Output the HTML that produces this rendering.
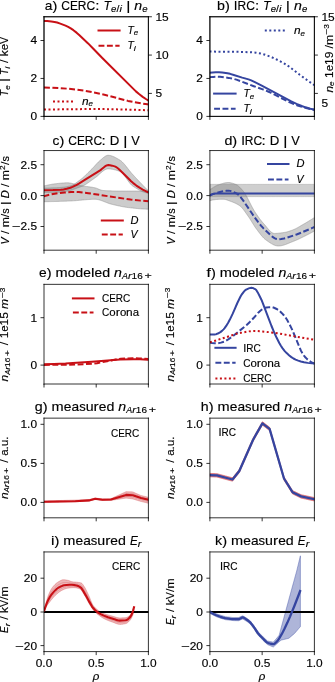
<!DOCTYPE html>
<html><head><meta charset="utf-8"><title>figure</title><style>html,body{margin:0;padding:0;background:#fff;width:335px;height:682px;overflow:hidden}svg{display:block}text{font-family:"Liberation Sans",sans-serif;fill:#000;stroke:#000;stroke-width:0.14px;stroke-linejoin:round}</style></head><body>
<svg width="335" height="682" viewBox="0 0 335 682">
<defs>
<style type="text/css">*{stroke-linejoin: round; stroke-linecap: butt}</style>
</defs>
<filter id="soft" x="0" y="0" width="1" height="1"><feOffset dx="0" dy="0"/></filter>
<g id="figure_1" filter="url(#soft)">
<g id="patch_1">
<path d="M 0 682 L 335 682 L 335 0 L 0 0 z" style="fill: #ffffff"/>
</g>
<g id="axes_1">
<g id="patch_2">
<path d="M 44 116.4 L 148.4 116.4 L 148.4 16.75 L 44 16.75 z" style="fill: #ffffff"/>
</g>
<g id="matplotlib.axis_1">
<g id="xtick_1">
<g id="line2d_1">
<defs>
<path id="m7c25c535dc" d="M 0 0 L 0 3.5 
" style="stroke: #000000; stroke-width: 0.8"/>
</defs>
<g>
<use href="#m7c25c535dc" x="44" y="116.4" style="stroke: #000000; stroke-width: 0.8"/>
</g>
</g>
</g>
<g id="xtick_2">
<g id="line2d_2">
<g>
<use href="#m7c25c535dc" x="96.2" y="116.4" style="stroke: #000000; stroke-width: 0.8"/>
</g>
</g>
</g>
<g id="xtick_3">
<g id="line2d_3">
<g>
<use href="#m7c25c535dc" x="148.4" y="116.4" style="stroke: #000000; stroke-width: 0.8"/>
</g>
</g>
</g>
</g>
<g id="matplotlib.axis_2">
<g id="ytick_1">
<g id="line2d_4">
<defs>
<path id="mb258c49b38" d="M 0 0 L -3.5 0 
" style="stroke: #000000; stroke-width: 0.8"/>
</defs>
<g>
<use href="#mb258c49b38" x="44" y="116.4" style="stroke: #000000; stroke-width: 0.8"/>
</g>
</g>
<g id="text_1">
<text transform="translate(30.383 120.351) scale(1.144 1.055)" style="font-size:10.40px">0</text>
</g>
</g>
<g id="ytick_2">
<g id="line2d_5">
<g>
<use href="#mb258c49b38" x="44" y="78.45" style="stroke: #000000; stroke-width: 0.8"/>
</g>
</g>
<g id="text_2">
<text transform="translate(30.383 82.401) scale(1.144 1.055)" style="font-size:10.40px">2</text>
</g>
</g>
<g id="ytick_3">
<g id="line2d_6">
<g>
<use href="#mb258c49b38" x="44" y="40.5" style="stroke: #000000; stroke-width: 0.8"/>
</g>
</g>
<g id="text_3">
<text transform="translate(30.383 44.451) scale(1.144 1.055)" style="font-size:10.40px">4</text>
</g>
</g>
</g>
<g id="line2d_7">
<path d="M 44 21 L 47.15 21.11 L 51.35 21.5 L 54.5 21.94 L 57.13 22.57 L 60.28 23.61 L 65.53 25.62 L 68.16 26.89 L 70.78 28.37 L 73.41 30.17 L 76.56 32.64 L 79.18 34.96 L 88.11 43.41 L 92.84 48.29 L 102.29 58 L 135.9 91.37 L 139.05 94.04 L 142.72 96.85 L 145.87 99.01 L 148.5 100.6 L 148.5 100.6 
" clip-path="url(#pb6206f89da)" style="fill: none; stroke: #c81016; stroke-width: 2; stroke-linecap: square"/>
</g>
<g id="line2d_8">
<path d="M 44 87.5 L 50.83 87.67 L 59.75 88.13 L 68.68 88.77 L 75.51 89.53 L 84.43 90.76 L 90.21 91.74 L 97.56 93.24 L 105.44 95.04 L 118.57 98.46 L 128.02 100.9 L 133.27 101.97 L 141.15 103.37 L 147.45 104.27 L 148.5 104.4 L 148.5 104.4 
" clip-path="url(#pb6206f89da)" style="fill: none; stroke-dasharray: 5.9,2.5; stroke-dashoffset: 0; stroke: #c81016; stroke-width: 2"/>
</g>
<g id="line2d_9">
<path d="M 44 109.6 L 71.31 109.19 L 97.56 109.01 L 110.17 109.19 L 135.37 109.82 L 148.5 110.3 L 148.5 110.3 
" clip-path="url(#pb6206f89da)" style="fill: none; stroke-dasharray: 2,2.5; stroke-dashoffset: 0; stroke: #c81016; stroke-width: 2"/>
</g>
<g id="line2d_10">
<path d="M 98.5 30.5 L 119.6 30.5 
" style="fill: none; stroke: #c81016; stroke-width: 2; stroke-linecap: square"/>
</g>
<g id="line2d_11">
<path d="M 98.5 45.8 L 119.6 45.8 
" style="fill: none; stroke-dasharray: 5.9,2.5; stroke-dashoffset: 0; stroke: #c81016; stroke-width: 2"/>
</g>
<g id="line2d_12">
<path d="M 53 101.5 L 74 101.5 
" style="fill: none; stroke-dasharray: 2,2.5; stroke-dashoffset: 0; stroke: #c81016; stroke-width: 2"/>
</g>
<g id="patch_3">
<path d="M 44 116.4 L 44 16.75 
" style="fill: none; stroke: #000000; stroke-width: 0.8; stroke-linejoin: miter; stroke-linecap: square"/>
</g>
<g id="patch_4">
<path d="M 148.4 116.4 L 148.4 16.75 
" style="fill: none; stroke: #000000; stroke-width: 0.8; stroke-linejoin: miter; stroke-linecap: square"/>
</g>
<g id="patch_5">
<path d="M 44 116.4 L 148.4 116.4 
" style="fill: none; stroke: #000000; stroke-width: 0.8; stroke-linejoin: miter; stroke-linecap: square"/>
</g>
<g id="patch_6">
<path d="M 44 16.75 L 148.4 16.75 
" style="fill: none; stroke: #000000; stroke-width: 0.8; stroke-linejoin: miter; stroke-linecap: square"/>
</g>
<g id="text_4">
<g transform="translate(44.71925 10.75)"><text transform="translate(0.000 -0.828) scale(1.102 1.055)" style="font-size:12.45px">a</text><text transform="translate(7.660 -0.828) scale(1.172 1.055)" style="font-size:12.45px">)</text><text transform="translate(12.537 -0.828) scale(1.144 1.055)" style="font-size:12.45px"> </text><text transform="translate(16.510 -0.828) scale(0.967 1.055)" style="font-size:12.45px">C</text><text transform="translate(25.238 -0.828) scale(0.947 1.055)" style="font-size:12.45px">E</text><text transform="translate(33.136 -0.828) scale(0.962 1.055)" style="font-size:12.45px">R</text><text transform="translate(41.821 -0.828) scale(0.967 1.055)" style="font-size:12.45px">C</text><text transform="translate(50.549 -0.828) scale(1.213 1.055)" style="font-size:12.45px">:</text><text transform="translate(54.761 -0.828) scale(1.144 1.055)" style="font-size:12.45px"> </text><text transform="translate(77.460 -0.828) scale(1.144 1.055)" style="font-size:12.45px"> </text><text transform="translate(81.433 -0.828) scale(1.297 1.055)" style="font-size:12.45px">|</text><text transform="translate(85.645 -0.828) scale(1.144 1.055)" style="font-size:12.45px"> </text><text transform="translate(58.734 -0.828) scale(1.000 1.055)" style="font-size:12.45px;font-style:italic">T</text><text transform="translate(89.618 -0.828) scale(1.140 1.055)" style="font-size:12.45px;font-style:italic">n</text><text transform="translate(66.370 1.141) scale(1.106 1.055)" style="font-size:8.71px;font-style:italic">e</text><text transform="translate(74.701 1.141) scale(1.251 1.055)" style="font-size:8.71px;font-style:italic">i</text><text transform="translate(97.541 1.141) scale(1.106 1.055)" style="font-size:8.71px;font-style:italic">e</text><text transform="translate(71.753 1.141) scale(1.213 1.055)" style="font-size:8.71px">/</text></g>
</g>
</g>
<g id="axes_2">
<g id="matplotlib.axis_3">
<g id="ytick_4">
<g id="line2d_13">
<defs>
<path id="mfcdca85a19" d="M 0 0 L 3.5 0 
" style="stroke: #000000; stroke-width: 0.8"/>
</defs>
<g>
<use href="#mfcdca85a19" x="148.4" y="93.4" style="stroke: #000000; stroke-width: 0.8"/>
</g>
</g>
<g id="text_5">
<text transform="translate(155.400 97.351) scale(1.144 1.055)" style="font-size:10.40px">5</text>
</g>
</g>
<g id="ytick_5">
<g id="line2d_14">
<g>
<use href="#mfcdca85a19" x="148.4" y="55.07" style="stroke: #000000; stroke-width: 0.8"/>
</g>
</g>
<g id="text_6">
<text transform="translate(155.400 59.021) scale(1.144 1.055)" style="font-size:10.40px">1</text><text transform="translate(162.017 59.021) scale(1.144 1.055)" style="font-size:10.40px">0</text>
</g>
</g>
<g id="ytick_6">
<g id="line2d_15">
<g>
<use href="#mfcdca85a19" x="148.4" y="16.75" style="stroke: #000000; stroke-width: 0.8"/>
</g>
</g>
<g id="text_7">
<text transform="translate(155.400 20.701) scale(1.144 1.055)" style="font-size:10.40px">1</text><text transform="translate(162.017 20.701) scale(1.144 1.055)" style="font-size:10.40px">5</text>
</g>
</g>
</g>
<g id="patch_7">
<path d="M 44 116.4 L 44 16.75 
" style="fill: none; stroke: #000000; stroke-width: 0.8; stroke-linejoin: miter; stroke-linecap: square"/>
</g>
<g id="patch_8">
<path d="M 148.4 116.4 L 148.4 16.75 
" style="fill: none; stroke: #000000; stroke-width: 0.8; stroke-linejoin: miter; stroke-linecap: square"/>
</g>
<g id="patch_9">
<path d="M 44 116.4 L 148.4 116.4 
" style="fill: none; stroke: #000000; stroke-width: 0.8; stroke-linejoin: miter; stroke-linecap: square"/>
</g>
<g id="patch_10">
<path d="M 44 16.75 L 148.4 16.75 
" style="fill: none; stroke: #000000; stroke-width: 0.8; stroke-linejoin: miter; stroke-linecap: square"/>
</g>
</g>
<g id="axes_3">
<g id="patch_11">
<path d="M 209.9 116.4 L 314.4 116.4 L 314.4 16.75 L 209.9 16.75 z" style="fill: #ffffff"/>
</g>
<g id="matplotlib.axis_4">
<g id="xtick_4">
<g id="line2d_16">
<g>
<use href="#m7c25c535dc" x="209.9" y="116.4" style="stroke: #000000; stroke-width: 0.8"/>
</g>
</g>
</g>
<g id="xtick_5">
<g id="line2d_17">
<g>
<use href="#m7c25c535dc" x="262.15" y="116.4" style="stroke: #000000; stroke-width: 0.8"/>
</g>
</g>
</g>
<g id="xtick_6">
<g id="line2d_18">
<g>
<use href="#m7c25c535dc" x="314.4" y="116.4" style="stroke: #000000; stroke-width: 0.8"/>
</g>
</g>
</g>
</g>
<g id="matplotlib.axis_5">
<g id="ytick_7">
<g id="line2d_19">
<g>
<use href="#mb258c49b38" x="209.9" y="116.4" style="stroke: #000000; stroke-width: 0.8"/>
</g>
</g>
<g id="text_8">
<text transform="translate(196.283 120.351) scale(1.144 1.055)" style="font-size:10.40px">0</text>
</g>
</g>
<g id="ytick_8">
<g id="line2d_20">
<g>
<use href="#mb258c49b38" x="209.9" y="78.45" style="stroke: #000000; stroke-width: 0.8"/>
</g>
</g>
<g id="text_9">
<text transform="translate(196.283 82.401) scale(1.144 1.055)" style="font-size:10.40px">2</text>
</g>
</g>
<g id="ytick_9">
<g id="line2d_21">
<g>
<use href="#mb258c49b38" x="209.9" y="40.5" style="stroke: #000000; stroke-width: 0.8"/>
</g>
</g>
<g id="text_10">
<text transform="translate(196.283 44.451) scale(1.144 1.055)" style="font-size:10.40px">4</text>
</g>
</g>
</g>
<g id="line2d_22">
<path d="M 209.5 72.8 L 212.67 72.41 L 215.83 72.22 L 219 72.24 L 222.16 72.51 L 227.44 73.25 L 230.08 73.84 L 233.77 74.94 L 242.21 77.59 L 248.55 79.35 L 251.18 80.35 L 254.35 81.82 L 261.74 85.6 L 291.28 101.45 L 296.56 103.83 L 302.36 106.25 L 305.53 107.33 L 310.28 108.67 L 313.97 109.5 L 314.5 109.6 L 314.5 109.6 
" clip-path="url(#p5f1eb9c5c8)" style="fill: none; stroke: #3545a0; stroke-width: 2; stroke-linecap: square"/>
</g>
<g id="line2d_23">
<path d="M 209.5 77.3 L 213.19 76.88 L 216.89 76.7 L 220.05 76.78 L 223.75 77.14 L 228.49 77.89 L 233.77 78.9 L 236.41 79.66 L 240.1 80.98 L 253.82 86.2 L 262.79 89.43 L 268.07 91.5 L 271.23 92.95 L 277.57 96.23 L 288.65 101.72 L 293.92 104.06 L 297.62 105.46 L 302.36 107 L 307.11 108.32 L 312.39 109.57 L 314.5 110 L 314.5 110 
" clip-path="url(#p5f1eb9c5c8)" style="fill: none; stroke-dasharray: 5.9,2.5; stroke-dashoffset: 0; stroke: #3545a0; stroke-width: 2"/>
</g>
<g id="line2d_24">
<path d="M 209.5 51.6 L 231.13 51.71 L 242.74 51.94 L 251.71 52.32 L 255.93 52.77 L 260.68 53.53 L 263.32 54.18 L 266.48 55.2 L 271.23 56.97 L 274.93 58.64 L 280.73 61.54 L 284.42 63.58 L 287.59 65.56 L 290.23 67.5 L 299.73 74.81 L 308.7 81.27 L 314.5 85.3 L 314.5 85.3 
" clip-path="url(#p5f1eb9c5c8)" style="fill: none; stroke-dasharray: 2,2.5; stroke-dashoffset: 0; stroke: #3545a0; stroke-width: 2"/>
</g>
<g id="line2d_25">
<path d="M 214.1 93.6 L 235.6 93.6 
" style="fill: none; stroke: #3545a0; stroke-width: 2; stroke-linecap: square"/>
</g>
<g id="line2d_26">
<path d="M 214.1 108.8 L 235.6 108.8 
" style="fill: none; stroke-dasharray: 5.9,2.5; stroke-dashoffset: 0; stroke: #3545a0; stroke-width: 2"/>
</g>
<g id="line2d_27">
<path d="M 264.8 30.6 L 285.8 30.6 
" style="fill: none; stroke-dasharray: 2,2.5; stroke-dashoffset: 0; stroke: #3545a0; stroke-width: 2"/>
</g>
<g id="patch_12">
<path d="M 209.9 116.4 L 209.9 16.75 
" style="fill: none; stroke: #000000; stroke-width: 0.8; stroke-linejoin: miter; stroke-linecap: square"/>
</g>
<g id="patch_13">
<path d="M 314.4 116.4 L 314.4 16.75 
" style="fill: none; stroke: #000000; stroke-width: 0.8; stroke-linejoin: miter; stroke-linecap: square"/>
</g>
<g id="patch_14">
<path d="M 209.9 116.4 L 314.4 116.4 
" style="fill: none; stroke: #000000; stroke-width: 0.8; stroke-linejoin: miter; stroke-linecap: square"/>
</g>
<g id="patch_15">
<path d="M 209.9 16.75 L 314.4 16.75 
" style="fill: none; stroke: #000000; stroke-width: 0.8; stroke-linejoin: miter; stroke-linecap: square"/>
</g>
<g id="text_11">
<g transform="translate(217.01875 10.75)"><text transform="translate(0.000 -0.828) scale(1.141 1.055)" style="font-size:12.45px">b</text><text transform="translate(7.935 -0.828) scale(1.172 1.055)" style="font-size:12.45px">)</text><text transform="translate(12.811 -0.828) scale(1.144 1.055)" style="font-size:12.45px"> </text><text transform="translate(16.785 -0.828) scale(1.062 1.055)" style="font-size:12.45px">I</text><text transform="translate(20.471 -0.828) scale(0.962 1.055)" style="font-size:12.45px">R</text><text transform="translate(29.156 -0.828) scale(0.967 1.055)" style="font-size:12.45px">C</text><text transform="translate(37.885 -0.828) scale(1.213 1.055)" style="font-size:12.45px">:</text><text transform="translate(42.096 -0.828) scale(1.144 1.055)" style="font-size:12.45px"> </text><text transform="translate(64.795 -0.828) scale(1.144 1.055)" style="font-size:12.45px"> </text><text transform="translate(68.769 -0.828) scale(1.297 1.055)" style="font-size:12.45px">|</text><text transform="translate(72.980 -0.828) scale(1.144 1.055)" style="font-size:12.45px"> </text><text transform="translate(46.069 -0.828) scale(1.000 1.055)" style="font-size:12.45px;font-style:italic">T</text><text transform="translate(76.953 -0.828) scale(1.140 1.055)" style="font-size:12.45px;font-style:italic">n</text><text transform="translate(53.705 1.141) scale(1.106 1.055)" style="font-size:8.71px;font-style:italic">e</text><text transform="translate(62.036 1.141) scale(1.251 1.055)" style="font-size:8.71px;font-style:italic">i</text><text transform="translate(84.876 1.141) scale(1.106 1.055)" style="font-size:8.71px;font-style:italic">e</text><text transform="translate(59.088 1.141) scale(1.213 1.055)" style="font-size:8.71px">/</text></g>
</g>
</g>
<g id="axes_4">
<g id="matplotlib.axis_6">
<g id="ytick_10">
<g id="line2d_28">
<g>
<use href="#mfcdca85a19" x="314.4" y="93.4" style="stroke: #000000; stroke-width: 0.8"/>
</g>
</g>
</g>
<g id="ytick_11">
<g id="line2d_29">
<g>
<use href="#mfcdca85a19" x="314.4" y="55.07" style="stroke: #000000; stroke-width: 0.8"/>
</g>
</g>
</g>
<g id="ytick_12">
<g id="line2d_30">
<g>
<use href="#mfcdca85a19" x="314.4" y="16.75" style="stroke: #000000; stroke-width: 0.8"/>
</g>
</g>
<g id="text_12">
<text transform="translate(321.400 20.701) scale(1.144 1.055)" style="font-size:10.40px">1</text><text transform="translate(328.017 20.701) scale(1.144 1.055)" style="font-size:10.40px">5</text>
</g>
</g>
</g>
<g id="patch_16">
<path d="M 209.9 116.4 L 209.9 16.75 
" style="fill: none; stroke: #000000; stroke-width: 0.8; stroke-linejoin: miter; stroke-linecap: square"/>
</g>
<g id="patch_17">
<path d="M 314.4 116.4 L 314.4 16.75 
" style="fill: none; stroke: #000000; stroke-width: 0.8; stroke-linejoin: miter; stroke-linecap: square"/>
</g>
<g id="patch_18">
<path d="M 209.9 116.4 L 314.4 116.4 
" style="fill: none; stroke: #000000; stroke-width: 0.8; stroke-linejoin: miter; stroke-linecap: square"/>
</g>
<g id="patch_19">
<path d="M 209.9 16.75 L 314.4 16.75 
" style="fill: none; stroke: #000000; stroke-width: 0.8; stroke-linejoin: miter; stroke-linecap: square"/>
</g>
</g>
<g id="axes_5">
<g id="patch_20">
<path d="M 44 250.2 L 148.4 250.2 L 148.4 150.55 L 44 150.55 z" style="fill: #ffffff"/>
</g>
<g id="FillBetweenPolyCollection_1">
<defs>
<path id="mcfecdaf640" d="M 43.5 -480.3 L 43.5 -495.9 L 43.85 -495.99 L 44.2 -496.08 L 44.55 -496.17 L 44.9 -496.26 L 45.26 -496.34 L 45.61 -496.43 L 45.96 -496.51 L 46.31 -496.6 L 46.66 -496.68 L 47.01 -496.76 L 47.36 -496.84 L 47.71 -496.92 L 48.07 -497 L 48.42 -497.08 L 48.77 -497.15 L 49.12 -497.23 L 49.47 -497.3 L 49.82 -497.37 L 50.17 -497.44 L 50.52 -497.51 L 50.87 -497.57 L 51.23 -497.64 L 51.58 -497.7 L 51.93 -497.76 L 52.28 -497.82 L 52.63 -497.88 L 52.98 -497.93 L 53.33 -497.98 L 53.68 -498.03 L 54.04 -498.08 L 54.39 -498.13 L 54.74 -498.17 L 55.09 -498.21 L 55.44 -498.25 L 55.79 -498.29 L 56.14 -498.33 L 56.49 -498.37 L 56.84 -498.41 L 57.2 -498.45 L 57.55 -498.49 L 57.9 -498.53 L 58.25 -498.57 L 58.6 -498.61 L 58.95 -498.65 L 59.3 -498.68 L 59.65 -498.72 L 60.01 -498.76 L 60.36 -498.79 L 60.71 -498.82 L 61.06 -498.86 L 61.41 -498.89 L 61.76 -498.92 L 62.11 -498.95 L 62.46 -498.98 L 62.81 -499.01 L 63.17 -499.03 L 63.52 -499.06 L 63.87 -499.08 L 64.22 -499.1 L 64.57 -499.12 L 64.92 -499.13 L 65.27 -499.15 L 65.62 -499.16 L 65.97 -499.17 L 66.33 -499.18 L 66.68 -499.19 L 67.03 -499.2 L 67.38 -499.2 L 67.73 -499.2 L 68.08 -499.19 L 68.43 -499.17 L 68.78 -499.15 L 69.14 -499.11 L 69.49 -499.07 L 69.84 -499.03 L 70.19 -498.97 L 70.54 -498.91 L 70.89 -498.85 L 71.24 -498.77 L 71.59 -498.7 L 71.94 -498.62 L 72.3 -498.53 L 72.65 -498.44 L 73 -498.35 L 73.35 -498.25 L 73.7 -498.16 L 74.05 -498.06 L 74.4 -497.96 L 74.75 -497.86 L 75.11 -497.75 L 75.46 -497.65 L 75.81 -497.55 L 76.16 -497.45 L 76.51 -497.35 L 76.86 -497.25 L 77.21 -497.15 L 77.56 -497.06 L 77.91 -496.97 L 78.27 -496.88 L 78.62 -496.79 L 78.97 -496.71 L 79.32 -496.63 L 79.67 -496.56 L 80.02 -496.5 L 80.37 -496.43 L 80.72 -496.37 L 81.08 -496.31 L 81.43 -496.26 L 81.78 -496.2 L 82.13 -496.15 L 82.48 -496.09 L 82.83 -496.04 L 83.18 -495.99 L 83.53 -495.94 L 83.88 -495.89 L 84.24 -495.85 L 84.59 -495.8 L 84.94 -495.75 L 85.29 -495.7 L 85.64 -495.66 L 85.99 -495.61 L 86.34 -495.57 L 86.69 -495.52 L 87.05 -495.48 L 87.4 -495.43 L 87.75 -495.39 L 88.1 -495.34 L 88.45 -495.29 L 88.8 -495.24 L 89.15 -495.2 L 89.5 -495.15 L 89.85 -495.1 L 90.21 -495.05 L 90.56 -495 L 90.91 -494.94 L 91.26 -494.89 L 91.61 -494.83 L 91.96 -494.78 L 92.31 -494.72 L 92.66 -494.66 L 93.02 -494.59 L 93.37 -494.53 L 93.72 -494.46 L 94.07 -494.39 L 94.42 -494.32 L 94.77 -494.25 L 95.12 -494.17 L 95.47 -494.08 L 95.82 -493.98 L 96.18 -493.87 L 96.53 -493.75 L 96.88 -493.62 L 97.23 -493.48 L 97.58 -493.34 L 97.93 -493.19 L 98.28 -493.04 L 98.63 -492.89 L 98.98 -492.74 L 99.34 -492.59 L 99.69 -492.45 L 100.04 -492.31 L 100.39 -492.17 L 100.74 -492.05 L 101.09 -491.93 L 101.44 -491.82 L 101.79 -491.73 L 102.15 -491.65 L 102.5 -491.58 L 102.85 -491.54 L 103.2 -491.5 L 103.55 -491.48 L 103.9 -491.46 L 104.25 -491.44 L 104.6 -491.42 L 104.95 -491.4 L 105.31 -491.38 L 105.66 -491.36 L 106.01 -491.34 L 106.36 -491.32 L 106.71 -491.31 L 107.06 -491.29 L 107.41 -491.27 L 107.76 -491.26 L 108.12 -491.24 L 108.47 -491.23 L 108.82 -491.21 L 109.17 -491.2 L 109.52 -491.19 L 109.87 -491.17 L 110.22 -491.16 L 110.57 -491.15 L 110.92 -491.14 L 111.28 -491.13 L 111.63 -491.12 L 111.98 -491.11 L 112.33 -491.1 L 112.68 -491.09 L 113.03 -491.08 L 113.38 -491.07 L 113.73 -491.06 L 114.09 -491.06 L 114.44 -491.05 L 114.79 -491.04 L 115.14 -491.04 L 115.49 -491.03 L 115.84 -491.03 L 116.19 -491.02 L 116.54 -491.02 L 116.89 -491.01 L 117.25 -491.01 L 117.6 -491.01 L 117.95 -491.01 L 118.3 -491 L 118.65 -491 L 119 -491 L 119.35 -491 L 119.7 -491 L 120.06 -491 L 120.41 -491 L 120.76 -491 L 121.11 -491 L 121.46 -491 L 121.81 -491 L 122.16 -491 L 122.51 -491 L 122.86 -491 L 123.22 -491 L 123.57 -491 L 123.92 -491 L 124.27 -491 L 124.62 -491 L 124.97 -491 L 125.32 -491 L 125.67 -491 L 126.03 -491 L 126.38 -491 L 126.73 -491 L 127.08 -491 L 127.43 -491 L 127.78 -491 L 128.13 -491 L 128.48 -491 L 128.83 -491 L 129.19 -491 L 129.54 -491 L 129.89 -491 L 130.24 -491 L 130.59 -491 L 130.94 -491 L 131.29 -491 L 131.64 -491 L 131.99 -491 L 132.35 -491 L 132.7 -491 L 133.05 -491 L 133.4 -491 L 133.75 -491 L 134.1 -491 L 134.45 -491 L 134.8 -491 L 135.16 -491 L 135.51 -491 L 135.86 -491 L 136.21 -491 L 136.56 -491 L 136.91 -491 L 137.26 -491 L 137.61 -491 L 137.96 -491 L 138.32 -491 L 138.67 -491 L 139.02 -491 L 139.37 -491 L 139.72 -491 L 140.07 -491 L 140.42 -491 L 140.77 -491 L 141.13 -491 L 141.48 -491 L 141.83 -491 L 142.18 -491 L 142.53 -491 L 142.88 -491 L 143.23 -491 L 143.58 -491 L 143.93 -491 L 144.29 -491 L 144.64 -491 L 144.99 -491 L 145.34 -491 L 145.69 -491 L 146.04 -491 L 146.39 -491 L 146.74 -491 L 147.1 -491 L 147.45 -491 L 147.8 -491 L 148.15 -491 L 148.5 -491 L 148.5 -472.8 L 148.5 -472.8 L 148.15 -472.81 L 147.8 -472.81 L 147.45 -472.82 L 147.1 -472.83 L 146.74 -472.84 L 146.39 -472.85 L 146.04 -472.87 L 145.69 -472.88 L 145.34 -472.89 L 144.99 -472.91 L 144.64 -472.93 L 144.29 -472.94 L 143.93 -472.96 L 143.58 -472.98 L 143.23 -473 L 142.88 -473.02 L 142.53 -473.04 L 142.18 -473.07 L 141.83 -473.09 L 141.48 -473.12 L 141.13 -473.14 L 140.77 -473.17 L 140.42 -473.19 L 140.07 -473.22 L 139.72 -473.25 L 139.37 -473.28 L 139.02 -473.31 L 138.67 -473.34 L 138.32 -473.37 L 137.96 -473.4 L 137.61 -473.43 L 137.26 -473.47 L 136.91 -473.5 L 136.56 -473.53 L 136.21 -473.57 L 135.86 -473.6 L 135.51 -473.64 L 135.16 -473.67 L 134.8 -473.71 L 134.45 -473.75 L 134.1 -473.78 L 133.75 -473.82 L 133.4 -473.86 L 133.05 -473.9 L 132.7 -473.94 L 132.35 -473.97 L 131.99 -474.01 L 131.64 -474.05 L 131.29 -474.09 L 130.94 -474.13 L 130.59 -474.17 L 130.24 -474.21 L 129.89 -474.25 L 129.54 -474.3 L 129.19 -474.34 L 128.83 -474.38 L 128.48 -474.42 L 128.13 -474.46 L 127.78 -474.5 L 127.43 -474.55 L 127.08 -474.59 L 126.73 -474.64 L 126.38 -474.68 L 126.03 -474.73 L 125.67 -474.79 L 125.32 -474.84 L 124.97 -474.89 L 124.62 -474.95 L 124.27 -475.01 L 123.92 -475.07 L 123.57 -475.13 L 123.22 -475.19 L 122.86 -475.25 L 122.51 -475.32 L 122.16 -475.38 L 121.81 -475.45 L 121.46 -475.52 L 121.11 -475.59 L 120.76 -475.66 L 120.41 -475.73 L 120.06 -475.8 L 119.7 -475.88 L 119.35 -475.95 L 119 -476.03 L 118.65 -476.1 L 118.3 -476.18 L 117.95 -476.26 L 117.6 -476.34 L 117.25 -476.42 L 116.89 -476.5 L 116.54 -476.58 L 116.19 -476.66 L 115.84 -476.74 L 115.49 -476.82 L 115.14 -476.91 L 114.79 -476.99 L 114.44 -477.07 L 114.09 -477.16 L 113.73 -477.24 L 113.38 -477.32 L 113.03 -477.41 L 112.68 -477.49 L 112.33 -477.58 L 111.98 -477.66 L 111.63 -477.75 L 111.28 -477.83 L 110.92 -477.92 L 110.57 -478.02 L 110.22 -478.12 L 109.87 -478.22 L 109.52 -478.33 L 109.17 -478.45 L 108.82 -478.57 L 108.47 -478.69 L 108.12 -478.82 L 107.76 -478.95 L 107.41 -479.08 L 107.06 -479.21 L 106.71 -479.35 L 106.36 -479.49 L 106.01 -479.63 L 105.66 -479.76 L 105.31 -479.91 L 104.95 -480.05 L 104.6 -480.19 L 104.25 -480.33 L 103.9 -480.47 L 103.55 -480.61 L 103.2 -480.74 L 102.85 -480.88 L 102.5 -481.01 L 102.15 -481.14 L 101.79 -481.27 L 101.44 -481.39 L 101.09 -481.52 L 100.74 -481.63 L 100.39 -481.75 L 100.04 -481.85 L 99.69 -481.96 L 99.34 -482.06 L 98.98 -482.15 L 98.63 -482.23 L 98.28 -482.31 L 97.93 -482.39 L 97.58 -482.45 L 97.23 -482.51 L 96.88 -482.57 L 96.53 -482.61 L 96.18 -482.65 L 95.82 -482.67 L 95.47 -482.69 L 95.12 -482.7 L 94.77 -482.7 L 94.42 -482.7 L 94.07 -482.69 L 93.72 -482.69 L 93.37 -482.68 L 93.02 -482.67 L 92.66 -482.67 L 92.31 -482.65 L 91.96 -482.64 L 91.61 -482.63 L 91.26 -482.62 L 90.91 -482.6 L 90.56 -482.58 L 90.21 -482.56 L 89.85 -482.55 L 89.5 -482.53 L 89.15 -482.5 L 88.8 -482.48 L 88.45 -482.46 L 88.1 -482.44 L 87.75 -482.41 L 87.4 -482.39 L 87.05 -482.36 L 86.69 -482.33 L 86.34 -482.3 L 85.99 -482.28 L 85.64 -482.25 L 85.29 -482.22 L 84.94 -482.19 L 84.59 -482.16 L 84.24 -482.13 L 83.88 -482.1 L 83.53 -482.06 L 83.18 -482.03 L 82.83 -482 L 82.48 -481.97 L 82.13 -481.93 L 81.78 -481.9 L 81.43 -481.87 L 81.08 -481.84 L 80.72 -481.8 L 80.37 -481.77 L 80.02 -481.74 L 79.67 -481.71 L 79.32 -481.67 L 78.97 -481.64 L 78.62 -481.61 L 78.27 -481.58 L 77.91 -481.54 L 77.56 -481.51 L 77.21 -481.48 L 76.86 -481.45 L 76.51 -481.42 L 76.16 -481.39 L 75.81 -481.36 L 75.46 -481.34 L 75.11 -481.31 L 74.75 -481.28 L 74.4 -481.25 L 74.05 -481.23 L 73.7 -481.2 L 73.35 -481.18 L 73 -481.16 L 72.65 -481.13 L 72.3 -481.11 L 71.94 -481.09 L 71.59 -481.07 L 71.24 -481.06 L 70.89 -481.04 L 70.54 -481.02 L 70.19 -481.01 L 69.84 -480.99 L 69.49 -480.98 L 69.14 -480.97 L 68.78 -480.95 L 68.43 -480.94 L 68.08 -480.93 L 67.73 -480.91 L 67.38 -480.9 L 67.03 -480.89 L 66.68 -480.87 L 66.33 -480.86 L 65.97 -480.85 L 65.62 -480.84 L 65.27 -480.82 L 64.92 -480.81 L 64.57 -480.8 L 64.22 -480.78 L 63.87 -480.77 L 63.52 -480.76 L 63.17 -480.75 L 62.81 -480.73 L 62.46 -480.72 L 62.11 -480.71 L 61.76 -480.7 L 61.41 -480.69 L 61.06 -480.67 L 60.71 -480.66 L 60.36 -480.65 L 60.01 -480.64 L 59.65 -480.63 L 59.3 -480.62 L 58.95 -480.61 L 58.6 -480.6 L 58.25 -480.58 L 57.9 -480.57 L 57.55 -480.56 L 57.2 -480.55 L 56.84 -480.54 L 56.49 -480.53 L 56.14 -480.52 L 55.79 -480.51 L 55.44 -480.5 L 55.09 -480.49 L 54.74 -480.48 L 54.39 -480.48 L 54.04 -480.47 L 53.68 -480.46 L 53.33 -480.45 L 52.98 -480.44 L 52.63 -480.43 L 52.28 -480.43 L 51.93 -480.42 L 51.58 -480.41 L 51.23 -480.4 L 50.87 -480.4 L 50.52 -480.39 L 50.17 -480.38 L 49.82 -480.38 L 49.47 -480.37 L 49.12 -480.36 L 48.77 -480.36 L 48.42 -480.35 L 48.07 -480.35 L 47.71 -480.34 L 47.36 -480.34 L 47.01 -480.33 L 46.66 -480.33 L 46.31 -480.32 L 45.96 -480.32 L 45.61 -480.32 L 45.26 -480.31 L 44.9 -480.31 L 44.55 -480.31 L 44.2 -480.3 L 43.85 -480.3 L 43.5 -480.3 z" style="stroke: #808080; stroke-opacity: 0.4"/>
</defs>
<g clip-path="url(#pd31d83142d)">
<use href="#mcfecdaf640" x="0" y="682" style="fill: #808080; fill-opacity: 0.4; stroke: #808080; stroke-opacity: 0.4"/>
</g>
</g>
<g id="FillBetweenPolyCollection_2">
<defs>
<path id="mad7fce5367" d="M 43.5 -489.5 L 43.5 -494 L 43.85 -494 L 44.2 -494 L 44.55 -494 L 44.9 -494 L 45.26 -494.01 L 45.61 -494.01 L 45.96 -494.01 L 46.31 -494.02 L 46.66 -494.02 L 47.01 -494.03 L 47.36 -494.03 L 47.71 -494.04 L 48.07 -494.05 L 48.42 -494.05 L 48.77 -494.06 L 49.12 -494.07 L 49.47 -494.08 L 49.82 -494.08 L 50.17 -494.09 L 50.52 -494.1 L 50.87 -494.11 L 51.23 -494.12 L 51.58 -494.13 L 51.93 -494.15 L 52.28 -494.16 L 52.63 -494.17 L 52.98 -494.18 L 53.33 -494.19 L 53.68 -494.21 L 54.04 -494.22 L 54.39 -494.24 L 54.74 -494.25 L 55.09 -494.26 L 55.44 -494.28 L 55.79 -494.29 L 56.14 -494.31 L 56.49 -494.33 L 56.84 -494.34 L 57.2 -494.36 L 57.55 -494.38 L 57.9 -494.39 L 58.25 -494.41 L 58.6 -494.43 L 58.95 -494.45 L 59.3 -494.46 L 59.65 -494.48 L 60.01 -494.5 L 60.36 -494.52 L 60.71 -494.54 L 61.06 -494.57 L 61.41 -494.6 L 61.76 -494.63 L 62.11 -494.66 L 62.46 -494.69 L 62.81 -494.73 L 63.17 -494.77 L 63.52 -494.81 L 63.87 -494.86 L 64.22 -494.9 L 64.57 -494.95 L 64.92 -495.01 L 65.27 -495.06 L 65.62 -495.12 L 65.97 -495.17 L 66.33 -495.23 L 66.68 -495.3 L 67.03 -495.36 L 67.38 -495.43 L 67.73 -495.5 L 68.08 -495.57 L 68.43 -495.65 L 68.78 -495.72 L 69.14 -495.8 L 69.49 -495.88 L 69.84 -495.96 L 70.19 -496.05 L 70.54 -496.15 L 70.89 -496.26 L 71.24 -496.39 L 71.59 -496.53 L 71.94 -496.68 L 72.3 -496.84 L 72.65 -497.01 L 73 -497.19 L 73.35 -497.39 L 73.7 -497.59 L 74.05 -497.79 L 74.4 -498.01 L 74.75 -498.23 L 75.11 -498.46 L 75.46 -498.7 L 75.81 -498.94 L 76.16 -499.19 L 76.51 -499.44 L 76.86 -499.69 L 77.21 -499.94 L 77.56 -500.2 L 77.91 -500.46 L 78.27 -500.72 L 78.62 -500.98 L 78.97 -501.24 L 79.32 -501.5 L 79.67 -501.76 L 80.02 -502.02 L 80.37 -502.28 L 80.72 -502.54 L 81.08 -502.81 L 81.43 -503.09 L 81.78 -503.38 L 82.13 -503.67 L 82.48 -503.97 L 82.83 -504.27 L 83.18 -504.58 L 83.53 -504.89 L 83.88 -505.21 L 84.24 -505.53 L 84.59 -505.85 L 84.94 -506.18 L 85.29 -506.52 L 85.64 -506.85 L 85.99 -507.19 L 86.34 -507.53 L 86.69 -507.88 L 87.05 -508.23 L 87.4 -508.57 L 87.75 -508.93 L 88.1 -509.28 L 88.45 -509.63 L 88.8 -509.98 L 89.15 -510.34 L 89.5 -510.69 L 89.85 -511.05 L 90.21 -511.4 L 90.56 -511.76 L 90.91 -512.11 L 91.26 -512.46 L 91.61 -512.81 L 91.96 -513.16 L 92.31 -513.51 L 92.66 -513.87 L 93.02 -514.23 L 93.37 -514.6 L 93.72 -514.98 L 94.07 -515.36 L 94.42 -515.75 L 94.77 -516.14 L 95.12 -516.53 L 95.47 -516.93 L 95.82 -517.32 L 96.18 -517.71 L 96.53 -518.1 L 96.88 -518.49 L 97.23 -518.86 L 97.58 -519.23 L 97.93 -519.6 L 98.28 -519.95 L 98.63 -520.29 L 98.98 -520.62 L 99.34 -520.94 L 99.69 -521.24 L 100.04 -521.53 L 100.39 -521.82 L 100.74 -522.11 L 101.09 -522.41 L 101.44 -522.71 L 101.79 -523.02 L 102.15 -523.32 L 102.5 -523.63 L 102.85 -523.93 L 103.2 -524.22 L 103.55 -524.51 L 103.9 -524.79 L 104.25 -525.06 L 104.6 -525.31 L 104.95 -525.55 L 105.31 -525.77 L 105.66 -525.97 L 106.01 -526.15 L 106.36 -526.31 L 106.71 -526.45 L 107.06 -526.55 L 107.41 -526.63 L 107.76 -526.68 L 108.12 -526.69 L 108.47 -526.69 L 108.82 -526.67 L 109.17 -526.64 L 109.52 -526.6 L 109.87 -526.54 L 110.22 -526.47 L 110.57 -526.4 L 110.92 -526.31 L 111.28 -526.21 L 111.63 -526.1 L 111.98 -525.99 L 112.33 -525.86 L 112.68 -525.73 L 113.03 -525.59 L 113.38 -525.44 L 113.73 -525.29 L 114.09 -525.13 L 114.44 -524.96 L 114.79 -524.79 L 115.14 -524.61 L 115.49 -524.43 L 115.84 -524.24 L 116.19 -524.05 L 116.54 -523.86 L 116.89 -523.67 L 117.25 -523.47 L 117.6 -523.27 L 117.95 -523.06 L 118.3 -522.86 L 118.65 -522.65 L 119 -522.45 L 119.35 -522.24 L 119.7 -522.03 L 120.06 -521.82 L 120.41 -521.57 L 120.76 -521.31 L 121.11 -521.04 L 121.46 -520.75 L 121.81 -520.44 L 122.16 -520.12 L 122.51 -519.78 L 122.86 -519.42 L 123.22 -519.06 L 123.57 -518.68 L 123.92 -518.29 L 124.27 -517.9 L 124.62 -517.49 L 124.97 -517.07 L 125.32 -516.65 L 125.67 -516.22 L 126.03 -515.79 L 126.38 -515.35 L 126.73 -514.9 L 127.08 -514.45 L 127.43 -514 L 127.78 -513.55 L 128.13 -513.1 L 128.48 -512.64 L 128.83 -512.19 L 129.19 -511.74 L 129.54 -511.29 L 129.89 -510.85 L 130.24 -510.41 L 130.59 -509.97 L 130.94 -509.54 L 131.29 -509.12 L 131.64 -508.7 L 131.99 -508.3 L 132.35 -507.9 L 132.7 -507.51 L 133.05 -507.13 L 133.4 -506.75 L 133.75 -506.38 L 134.1 -506 L 134.45 -505.62 L 134.8 -505.25 L 135.16 -504.87 L 135.51 -504.49 L 135.86 -504.12 L 136.21 -503.75 L 136.56 -503.37 L 136.91 -503 L 137.26 -502.63 L 137.61 -502.25 L 137.96 -501.88 L 138.32 -501.51 L 138.67 -501.14 L 139.02 -500.77 L 139.37 -500.4 L 139.72 -500.03 L 140.07 -499.66 L 140.42 -499.3 L 140.77 -498.93 L 141.13 -498.56 L 141.48 -498.2 L 141.83 -497.83 L 142.18 -497.47 L 142.53 -497.1 L 142.88 -496.74 L 143.23 -496.37 L 143.58 -496.01 L 143.93 -495.65 L 144.29 -495.29 L 144.64 -494.93 L 144.99 -494.57 L 145.34 -494.21 L 145.69 -493.85 L 146.04 -493.49 L 146.39 -493.13 L 146.74 -492.78 L 147.1 -492.42 L 147.45 -492.06 L 147.8 -491.71 L 148.15 -491.35 L 148.5 -491 L 148.5 -488.8 L 148.5 -488.8 L 148.15 -488.84 L 147.8 -488.88 L 147.45 -488.93 L 147.1 -488.99 L 146.74 -489.06 L 146.39 -489.13 L 146.04 -489.21 L 145.69 -489.3 L 145.34 -489.39 L 144.99 -489.5 L 144.64 -489.61 L 144.29 -489.72 L 143.93 -489.84 L 143.58 -489.97 L 143.23 -490.1 L 142.88 -490.24 L 142.53 -490.39 L 142.18 -490.53 L 141.83 -490.69 L 141.48 -490.85 L 141.13 -491.01 L 140.77 -491.18 L 140.42 -491.36 L 140.07 -491.53 L 139.72 -491.72 L 139.37 -491.9 L 139.02 -492.09 L 138.67 -492.29 L 138.32 -492.48 L 137.96 -492.68 L 137.61 -492.89 L 137.26 -493.09 L 136.91 -493.3 L 136.56 -493.52 L 136.21 -493.73 L 135.86 -493.95 L 135.51 -494.16 L 135.16 -494.39 L 134.8 -494.61 L 134.45 -494.83 L 134.1 -495.06 L 133.75 -495.28 L 133.4 -495.51 L 133.05 -495.74 L 132.7 -495.97 L 132.35 -496.23 L 131.99 -496.51 L 131.64 -496.82 L 131.29 -497.16 L 130.94 -497.52 L 130.59 -497.9 L 130.24 -498.31 L 129.89 -498.73 L 129.54 -499.16 L 129.19 -499.62 L 128.83 -500.08 L 128.48 -500.56 L 128.13 -501.05 L 127.78 -501.54 L 127.43 -502.04 L 127.08 -502.54 L 126.73 -503.05 L 126.38 -503.55 L 126.03 -504.05 L 125.67 -504.55 L 125.32 -505.05 L 124.97 -505.53 L 124.62 -506.01 L 124.27 -506.47 L 123.92 -506.92 L 123.57 -507.36 L 123.22 -507.78 L 122.86 -508.18 L 122.51 -508.56 L 122.16 -508.93 L 121.81 -509.26 L 121.46 -509.57 L 121.11 -509.85 L 120.76 -510.1 L 120.41 -510.32 L 120.06 -510.51 L 119.7 -510.65 L 119.35 -510.78 L 119 -510.9 L 118.65 -511.02 L 118.3 -511.14 L 117.95 -511.25 L 117.6 -511.37 L 117.25 -511.48 L 116.89 -511.58 L 116.54 -511.69 L 116.19 -511.79 L 115.84 -511.89 L 115.49 -511.99 L 115.14 -512.08 L 114.79 -512.17 L 114.44 -512.26 L 114.09 -512.34 L 113.73 -512.42 L 113.38 -512.5 L 113.03 -512.57 L 112.68 -512.64 L 112.33 -512.7 L 111.98 -512.76 L 111.63 -512.82 L 111.28 -512.87 L 110.92 -512.92 L 110.57 -512.96 L 110.22 -512.99 L 109.87 -513.03 L 109.52 -513.05 L 109.17 -513.07 L 108.82 -513.09 L 108.47 -513.1 L 108.12 -513.1 L 107.76 -513.08 L 107.41 -513.05 L 107.06 -512.98 L 106.71 -512.9 L 106.36 -512.8 L 106.01 -512.67 L 105.66 -512.53 L 105.31 -512.36 L 104.95 -512.18 L 104.6 -511.98 L 104.25 -511.77 L 103.9 -511.54 L 103.55 -511.3 L 103.2 -511.04 L 102.85 -510.77 L 102.5 -510.5 L 102.15 -510.21 L 101.79 -509.92 L 101.44 -509.62 L 101.09 -509.31 L 100.74 -509 L 100.39 -508.69 L 100.04 -508.37 L 99.69 -508.05 L 99.34 -507.72 L 98.98 -507.4 L 98.63 -507.08 L 98.28 -506.77 L 97.93 -506.45 L 97.58 -506.14 L 97.23 -505.84 L 96.88 -505.54 L 96.53 -505.25 L 96.18 -504.97 L 95.82 -504.7 L 95.47 -504.44 L 95.12 -504.18 L 94.77 -503.94 L 94.42 -503.7 L 94.07 -503.45 L 93.72 -503.21 L 93.37 -502.96 L 93.02 -502.7 L 92.66 -502.45 L 92.31 -502.19 L 91.96 -501.94 L 91.61 -501.68 L 91.26 -501.42 L 90.91 -501.17 L 90.56 -500.91 L 90.21 -500.66 L 89.85 -500.4 L 89.5 -500.15 L 89.15 -499.9 L 88.8 -499.65 L 88.45 -499.41 L 88.1 -499.17 L 87.75 -498.93 L 87.4 -498.69 L 87.05 -498.46 L 86.69 -498.24 L 86.34 -498.02 L 85.99 -497.8 L 85.64 -497.59 L 85.29 -497.39 L 84.94 -497.19 L 84.59 -497 L 84.24 -496.82 L 83.88 -496.64 L 83.53 -496.47 L 83.18 -496.31 L 82.83 -496.15 L 82.48 -495.99 L 82.13 -495.84 L 81.78 -495.68 L 81.43 -495.54 L 81.08 -495.39 L 80.72 -495.25 L 80.37 -495.11 L 80.02 -494.98 L 79.67 -494.84 L 79.32 -494.71 L 78.97 -494.58 L 78.62 -494.45 L 78.27 -494.32 L 77.91 -494.19 L 77.56 -494.06 L 77.21 -493.94 L 76.86 -493.81 L 76.51 -493.68 L 76.16 -493.56 L 75.81 -493.43 L 75.46 -493.3 L 75.11 -493.17 L 74.75 -493.04 L 74.4 -492.91 L 74.05 -492.78 L 73.7 -492.65 L 73.35 -492.53 L 73 -492.4 L 72.65 -492.28 L 72.3 -492.16 L 71.94 -492.05 L 71.59 -491.94 L 71.24 -491.83 L 70.89 -491.73 L 70.54 -491.63 L 70.19 -491.55 L 69.84 -491.46 L 69.49 -491.38 L 69.14 -491.3 L 68.78 -491.22 L 68.43 -491.14 L 68.08 -491.06 L 67.73 -490.98 L 67.38 -490.9 L 67.03 -490.82 L 66.68 -490.74 L 66.33 -490.67 L 65.97 -490.6 L 65.62 -490.53 L 65.27 -490.46 L 64.92 -490.39 L 64.57 -490.33 L 64.22 -490.26 L 63.87 -490.21 L 63.52 -490.15 L 63.17 -490.1 L 62.81 -490.05 L 62.46 -490 L 62.11 -489.96 L 61.76 -489.92 L 61.41 -489.89 L 61.06 -489.86 L 60.71 -489.84 L 60.36 -489.82 L 60.01 -489.8 L 59.65 -489.79 L 59.3 -489.78 L 58.95 -489.76 L 58.6 -489.75 L 58.25 -489.74 L 57.9 -489.73 L 57.55 -489.72 L 57.2 -489.71 L 56.84 -489.7 L 56.49 -489.69 L 56.14 -489.68 L 55.79 -489.67 L 55.44 -489.66 L 55.09 -489.65 L 54.74 -489.64 L 54.39 -489.63 L 54.04 -489.63 L 53.68 -489.62 L 53.33 -489.61 L 52.98 -489.6 L 52.63 -489.59 L 52.28 -489.59 L 51.93 -489.58 L 51.58 -489.57 L 51.23 -489.57 L 50.87 -489.56 L 50.52 -489.56 L 50.17 -489.55 L 49.82 -489.55 L 49.47 -489.54 L 49.12 -489.54 L 48.77 -489.53 L 48.42 -489.53 L 48.07 -489.52 L 47.71 -489.52 L 47.36 -489.52 L 47.01 -489.51 L 46.66 -489.51 L 46.31 -489.51 L 45.96 -489.51 L 45.61 -489.51 L 45.26 -489.5 L 44.9 -489.5 L 44.55 -489.5 L 44.2 -489.5 L 43.85 -489.5 L 43.5 -489.5 z" style="stroke: #808080; stroke-opacity: 0.4"/>
</defs>
<g clip-path="url(#pd31d83142d)">
<use href="#mad7fce5367" x="0" y="682" style="fill: #808080; fill-opacity: 0.4; stroke: #808080; stroke-opacity: 0.4"/>
</g>
</g>
<g id="matplotlib.axis_7">
<g id="xtick_7">
<g id="line2d_31">
<g>
<use href="#m7c25c535dc" x="44" y="250.2" style="stroke: #000000; stroke-width: 0.8"/>
</g>
</g>
</g>
<g id="xtick_8">
<g id="line2d_32">
<g>
<use href="#m7c25c535dc" x="96.2" y="250.2" style="stroke: #000000; stroke-width: 0.8"/>
</g>
</g>
</g>
<g id="xtick_9">
<g id="line2d_33">
<g>
<use href="#m7c25c535dc" x="148.4" y="250.2" style="stroke: #000000; stroke-width: 0.8"/>
</g>
</g>
</g>
</g>
<g id="matplotlib.axis_8">
<g id="ytick_13">
<g id="line2d_34">
<g>
<use href="#mb258c49b38" x="44" y="226.5" style="stroke: #000000; stroke-width: 0.8"/>
</g>
</g>
<g id="text_13">
<text transform="translate(11.746 230.451) scale(1.435 1.055)" style="font-size:10.40px">−</text><text transform="translate(20.460 230.451) scale(1.144 1.055)" style="font-size:10.40px">2</text><text transform="translate(27.077 230.451) scale(1.144 1.055)" style="font-size:10.40px">.</text><text transform="translate(30.383 230.451) scale(1.144 1.055)" style="font-size:10.40px">5</text>
</g>
</g>
<g id="ytick_14">
<g id="line2d_35">
<g>
<use href="#mb258c49b38" x="44" y="195.6" style="stroke: #000000; stroke-width: 0.8"/>
</g>
</g>
<g id="text_14">
<text transform="translate(20.460 199.551) scale(1.144 1.055)" style="font-size:10.40px">0</text><text transform="translate(27.077 199.551) scale(1.144 1.055)" style="font-size:10.40px">.</text><text transform="translate(30.383 199.551) scale(1.144 1.055)" style="font-size:10.40px">0</text>
</g>
</g>
<g id="ytick_15">
<g id="line2d_36">
<g>
<use href="#mb258c49b38" x="44" y="164.7" style="stroke: #000000; stroke-width: 0.8"/>
</g>
</g>
<g id="text_15">
<text transform="translate(20.460 168.651) scale(1.144 1.055)" style="font-size:10.40px">2</text><text transform="translate(27.077 168.651) scale(1.144 1.055)" style="font-size:10.40px">.</text><text transform="translate(30.383 168.651) scale(1.144 1.055)" style="font-size:10.40px">5</text>
</g>
</g>
</g>
<g id="line2d_37">
<path d="M 43.5 190.2 L 53 190.09 L 60.91 189.8 L 63.55 189.43 L 66.72 188.76 L 70.41 187.76 L 72.52 186.9 L 76.21 185.09 L 78.85 183.61 L 85.18 179.66 L 97.32 172.08 L 100.48 170.1 L 102.07 168.83 L 105.23 166.21 L 106.29 165.58 L 107.34 165.19 L 108.4 165.1 L 109.98 165.24 L 112.09 165.66 L 114.73 166.41 L 115.79 166.86 L 116.84 167.51 L 118.42 168.77 L 121.06 171.27 L 127.92 178.06 L 131.09 181.28 L 133.2 183.12 L 136.36 185.55 L 139.53 187.7 L 142.7 189.57 L 145.86 191.22 L 148.5 192.4 L 148.5 192.4 
" clip-path="url(#pd31d83142d)" style="fill: none; stroke: #c81016; stroke-width: 2; stroke-linecap: square"/>
</g>
<g id="line2d_38">
<path d="M 43.5 196.3 L 49.83 194.67 L 54.58 193.68 L 58.27 193.13 L 64.61 192.49 L 70.94 192.03 L 75.69 191.9 L 78.85 192.01 L 82.55 192.38 L 88.35 193.22 L 130.56 199.61 L 140.59 200.62 L 148.5 201.2 L 148.5 201.2 
" clip-path="url(#pd31d83142d)" style="fill: none; stroke-dasharray: 5.9,2.5; stroke-dashoffset: 0; stroke: #c81016; stroke-width: 2"/>
</g>
<g id="line2d_39">
<path d="M 101.8 220.5 L 122.8 220.5 
" style="fill: none; stroke: #c81016; stroke-width: 2; stroke-linecap: square"/>
</g>
<g id="line2d_40">
<path d="M 101.8 234.5 L 122.8 234.5 
" style="fill: none; stroke-dasharray: 5.9,2.5; stroke-dashoffset: 0; stroke: #c81016; stroke-width: 2"/>
</g>
<g id="patch_21">
<path d="M 44 250.2 L 44 150.55 
" style="fill: none; stroke: #000000; stroke-width: 0.8; stroke-linejoin: miter; stroke-linecap: square"/>
</g>
<g id="patch_22">
<path d="M 148.4 250.2 L 148.4 150.55 
" style="fill: none; stroke: #000000; stroke-width: 0.8; stroke-linejoin: miter; stroke-linecap: square"/>
</g>
<g id="patch_23">
<path d="M 44 250.2 L 148.4 250.2 
" style="fill: none; stroke: #000000; stroke-width: 0.8; stroke-linejoin: miter; stroke-linecap: square"/>
</g>
<g id="patch_24">
<path d="M 44 150.55 L 148.4 150.55 
" style="fill: none; stroke: #000000; stroke-width: 0.8; stroke-linejoin: miter; stroke-linecap: square"/>
</g>
<g id="text_16">
<text transform="translate(52.546 144.550) scale(1.100 1.055)" style="font-size:12.45px">c</text><text transform="translate(59.391 144.550) scale(1.172 1.055)" style="font-size:12.45px">)</text><text transform="translate(68.205 144.550) scale(0.967 1.055)" style="font-size:12.45px">C</text><text transform="translate(76.899 144.550) scale(0.947 1.055)" style="font-size:12.45px">E</text><text transform="translate(84.765 144.550) scale(0.962 1.055)" style="font-size:12.45px">R</text><text transform="translate(93.416 144.550) scale(0.967 1.055)" style="font-size:12.45px">C</text><text transform="translate(101.489 144.550) scale(1.213 1.055)" style="font-size:12.45px">:</text><text transform="translate(109.641 144.550) scale(1.066 1.055)" style="font-size:12.45px">D</text><text transform="translate(123.185 144.550) scale(1.297 1.055)" style="font-size:12.45px">|</text><text transform="translate(131.338 144.550) scale(1.026 1.055)" style="font-size:12.45px">V</text>
</g>
</g>
<g id="axes_6">
<g id="patch_25">
<path d="M 209.9 250.2 L 314.4 250.2 L 314.4 150.55 L 209.9 150.55 z" style="fill: #ffffff"/>
</g>
<g id="FillBetweenPolyCollection_3">
<defs>
<path id="m125ca4998e" d="M 209.9 -485.4 L 209.9 -497.6 L 210.25 -497.6 L 210.6 -497.6 L 210.95 -497.6 L 211.3 -497.6 L 211.65 -497.6 L 212 -497.6 L 212.35 -497.6 L 212.7 -497.6 L 213.05 -497.6 L 213.39 -497.6 L 213.74 -497.6 L 214.09 -497.6 L 214.44 -497.6 L 214.79 -497.6 L 215.14 -497.6 L 215.49 -497.6 L 215.84 -497.6 L 216.19 -497.6 L 216.54 -497.6 L 216.89 -497.6 L 217.24 -497.6 L 217.59 -497.6 L 217.94 -497.6 L 218.29 -497.6 L 218.64 -497.6 L 218.99 -497.6 L 219.34 -497.6 L 219.69 -497.6 L 220.04 -497.6 L 220.38 -497.6 L 220.73 -497.6 L 221.08 -497.6 L 221.43 -497.6 L 221.78 -497.6 L 222.13 -497.6 L 222.48 -497.6 L 222.83 -497.6 L 223.18 -497.6 L 223.53 -497.6 L 223.88 -497.6 L 224.23 -497.6 L 224.58 -497.6 L 224.93 -497.6 L 225.28 -497.6 L 225.63 -497.6 L 225.98 -497.6 L 226.33 -497.6 L 226.68 -497.6 L 227.03 -497.6 L 227.37 -497.6 L 227.72 -497.6 L 228.07 -497.6 L 228.42 -497.6 L 228.77 -497.6 L 229.12 -497.6 L 229.47 -497.6 L 229.82 -497.6 L 230.17 -497.6 L 230.52 -497.6 L 230.87 -497.6 L 231.22 -497.6 L 231.57 -497.6 L 231.92 -497.6 L 232.27 -497.6 L 232.62 -497.6 L 232.97 -497.6 L 233.32 -497.6 L 233.67 -497.6 L 234.02 -497.6 L 234.36 -497.6 L 234.71 -497.6 L 235.06 -497.6 L 235.41 -497.6 L 235.76 -497.6 L 236.11 -497.6 L 236.46 -497.6 L 236.81 -497.6 L 237.16 -497.6 L 237.51 -497.6 L 237.86 -497.6 L 238.21 -497.6 L 238.56 -497.6 L 238.91 -497.6 L 239.26 -497.6 L 239.61 -497.6 L 239.96 -497.6 L 240.31 -497.6 L 240.66 -497.6 L 241.01 -497.6 L 241.35 -497.6 L 241.7 -497.6 L 242.05 -497.6 L 242.4 -497.6 L 242.75 -497.6 L 243.1 -497.6 L 243.45 -497.6 L 243.8 -497.6 L 244.15 -497.6 L 244.5 -497.6 L 244.85 -497.6 L 245.2 -497.6 L 245.55 -497.6 L 245.9 -497.6 L 246.25 -497.6 L 246.6 -497.6 L 246.95 -497.6 L 247.3 -497.6 L 247.65 -497.6 L 248 -497.6 L 248.34 -497.6 L 248.69 -497.6 L 249.04 -497.6 L 249.39 -497.6 L 249.74 -497.6 L 250.09 -497.6 L 250.44 -497.6 L 250.79 -497.6 L 251.14 -497.6 L 251.49 -497.6 L 251.84 -497.6 L 252.19 -497.6 L 252.54 -497.6 L 252.89 -497.6 L 253.24 -497.6 L 253.59 -497.6 L 253.94 -497.6 L 254.29 -497.6 L 254.64 -497.6 L 254.99 -497.6 L 255.33 -497.6 L 255.68 -497.6 L 256.03 -497.6 L 256.38 -497.6 L 256.73 -497.6 L 257.08 -497.6 L 257.43 -497.6 L 257.78 -497.6 L 258.13 -497.6 L 258.48 -497.6 L 258.83 -497.6 L 259.18 -497.6 L 259.53 -497.6 L 259.88 -497.6 L 260.23 -497.6 L 260.58 -497.6 L 260.93 -497.6 L 261.28 -497.6 L 261.63 -497.6 L 261.98 -497.6 L 262.32 -497.6 L 262.67 -497.6 L 263.02 -497.6 L 263.37 -497.6 L 263.72 -497.6 L 264.07 -497.6 L 264.42 -497.6 L 264.77 -497.6 L 265.12 -497.6 L 265.47 -497.6 L 265.82 -497.6 L 266.17 -497.6 L 266.52 -497.6 L 266.87 -497.6 L 267.22 -497.6 L 267.57 -497.6 L 267.92 -497.6 L 268.27 -497.6 L 268.62 -497.6 L 268.97 -497.6 L 269.31 -497.6 L 269.66 -497.6 L 270.01 -497.6 L 270.36 -497.6 L 270.71 -497.6 L 271.06 -497.6 L 271.41 -497.6 L 271.76 -497.6 L 272.11 -497.6 L 272.46 -497.6 L 272.81 -497.6 L 273.16 -497.6 L 273.51 -497.6 L 273.86 -497.6 L 274.21 -497.6 L 274.56 -497.6 L 274.91 -497.6 L 275.26 -497.6 L 275.61 -497.6 L 275.96 -497.6 L 276.3 -497.6 L 276.65 -497.6 L 277 -497.6 L 277.35 -497.6 L 277.7 -497.6 L 278.05 -497.6 L 278.4 -497.6 L 278.75 -497.6 L 279.1 -497.6 L 279.45 -497.6 L 279.8 -497.6 L 280.15 -497.6 L 280.5 -497.6 L 280.85 -497.6 L 281.2 -497.6 L 281.55 -497.6 L 281.9 -497.6 L 282.25 -497.6 L 282.6 -497.6 L 282.95 -497.6 L 283.29 -497.6 L 283.64 -497.6 L 283.99 -497.6 L 284.34 -497.6 L 284.69 -497.6 L 285.04 -497.6 L 285.39 -497.6 L 285.74 -497.6 L 286.09 -497.6 L 286.44 -497.6 L 286.79 -497.6 L 287.14 -497.6 L 287.49 -497.6 L 287.84 -497.6 L 288.19 -497.6 L 288.54 -497.6 L 288.89 -497.6 L 289.24 -497.6 L 289.59 -497.6 L 289.94 -497.6 L 290.28 -497.6 L 290.63 -497.6 L 290.98 -497.6 L 291.33 -497.6 L 291.68 -497.6 L 292.03 -497.6 L 292.38 -497.6 L 292.73 -497.6 L 293.08 -497.6 L 293.43 -497.6 L 293.78 -497.6 L 294.13 -497.6 L 294.48 -497.6 L 294.83 -497.6 L 295.18 -497.6 L 295.53 -497.6 L 295.88 -497.6 L 296.23 -497.6 L 296.58 -497.6 L 296.93 -497.6 L 297.27 -497.6 L 297.62 -497.6 L 297.97 -497.6 L 298.32 -497.6 L 298.67 -497.6 L 299.02 -497.6 L 299.37 -497.6 L 299.72 -497.6 L 300.07 -497.6 L 300.42 -497.6 L 300.77 -497.6 L 301.12 -497.6 L 301.47 -497.6 L 301.82 -497.6 L 302.17 -497.6 L 302.52 -497.6 L 302.87 -497.6 L 303.22 -497.6 L 303.57 -497.6 L 303.92 -497.6 L 304.26 -497.6 L 304.61 -497.6 L 304.96 -497.6 L 305.31 -497.6 L 305.66 -497.6 L 306.01 -497.6 L 306.36 -497.6 L 306.71 -497.6 L 307.06 -497.6 L 307.41 -497.6 L 307.76 -497.6 L 308.11 -497.6 L 308.46 -497.6 L 308.81 -497.6 L 309.16 -497.6 L 309.51 -497.6 L 309.86 -497.6 L 310.21 -497.6 L 310.56 -497.6 L 310.91 -497.6 L 311.25 -497.6 L 311.6 -497.6 L 311.95 -497.6 L 312.3 -497.6 L 312.65 -497.6 L 313 -497.6 L 313.35 -497.6 L 313.7 -497.6 L 314.05 -497.6 L 314.4 -497.6 L 314.4 -485.4 L 314.4 -485.4 L 314.05 -485.4 L 313.7 -485.4 L 313.35 -485.4 L 313 -485.4 L 312.65 -485.4 L 312.3 -485.4 L 311.95 -485.4 L 311.6 -485.4 L 311.25 -485.4 L 310.91 -485.4 L 310.56 -485.4 L 310.21 -485.4 L 309.86 -485.4 L 309.51 -485.4 L 309.16 -485.4 L 308.81 -485.4 L 308.46 -485.4 L 308.11 -485.4 L 307.76 -485.4 L 307.41 -485.4 L 307.06 -485.4 L 306.71 -485.4 L 306.36 -485.4 L 306.01 -485.4 L 305.66 -485.4 L 305.31 -485.4 L 304.96 -485.4 L 304.61 -485.4 L 304.26 -485.4 L 303.92 -485.4 L 303.57 -485.4 L 303.22 -485.4 L 302.87 -485.4 L 302.52 -485.4 L 302.17 -485.4 L 301.82 -485.4 L 301.47 -485.4 L 301.12 -485.4 L 300.77 -485.4 L 300.42 -485.4 L 300.07 -485.4 L 299.72 -485.4 L 299.37 -485.4 L 299.02 -485.4 L 298.67 -485.4 L 298.32 -485.4 L 297.97 -485.4 L 297.62 -485.4 L 297.27 -485.4 L 296.93 -485.4 L 296.58 -485.4 L 296.23 -485.4 L 295.88 -485.4 L 295.53 -485.4 L 295.18 -485.4 L 294.83 -485.4 L 294.48 -485.4 L 294.13 -485.4 L 293.78 -485.4 L 293.43 -485.4 L 293.08 -485.4 L 292.73 -485.4 L 292.38 -485.4 L 292.03 -485.4 L 291.68 -485.4 L 291.33 -485.4 L 290.98 -485.4 L 290.63 -485.4 L 290.28 -485.4 L 289.94 -485.4 L 289.59 -485.4 L 289.24 -485.4 L 288.89 -485.4 L 288.54 -485.4 L 288.19 -485.4 L 287.84 -485.4 L 287.49 -485.4 L 287.14 -485.4 L 286.79 -485.4 L 286.44 -485.4 L 286.09 -485.4 L 285.74 -485.4 L 285.39 -485.4 L 285.04 -485.4 L 284.69 -485.4 L 284.34 -485.4 L 283.99 -485.4 L 283.64 -485.4 L 283.29 -485.4 L 282.95 -485.4 L 282.6 -485.4 L 282.25 -485.4 L 281.9 -485.4 L 281.55 -485.4 L 281.2 -485.4 L 280.85 -485.4 L 280.5 -485.4 L 280.15 -485.4 L 279.8 -485.4 L 279.45 -485.4 L 279.1 -485.4 L 278.75 -485.4 L 278.4 -485.4 L 278.05 -485.4 L 277.7 -485.4 L 277.35 -485.4 L 277 -485.4 L 276.65 -485.4 L 276.3 -485.4 L 275.96 -485.4 L 275.61 -485.4 L 275.26 -485.4 L 274.91 -485.4 L 274.56 -485.4 L 274.21 -485.4 L 273.86 -485.4 L 273.51 -485.4 L 273.16 -485.4 L 272.81 -485.4 L 272.46 -485.4 L 272.11 -485.4 L 271.76 -485.4 L 271.41 -485.4 L 271.06 -485.4 L 270.71 -485.4 L 270.36 -485.4 L 270.01 -485.4 L 269.66 -485.4 L 269.31 -485.4 L 268.97 -485.4 L 268.62 -485.4 L 268.27 -485.4 L 267.92 -485.4 L 267.57 -485.4 L 267.22 -485.4 L 266.87 -485.4 L 266.52 -485.4 L 266.17 -485.4 L 265.82 -485.4 L 265.47 -485.4 L 265.12 -485.4 L 264.77 -485.4 L 264.42 -485.4 L 264.07 -485.4 L 263.72 -485.4 L 263.37 -485.4 L 263.02 -485.4 L 262.67 -485.4 L 262.32 -485.4 L 261.98 -485.4 L 261.63 -485.4 L 261.28 -485.4 L 260.93 -485.4 L 260.58 -485.4 L 260.23 -485.4 L 259.88 -485.4 L 259.53 -485.4 L 259.18 -485.4 L 258.83 -485.4 L 258.48 -485.4 L 258.13 -485.4 L 257.78 -485.4 L 257.43 -485.4 L 257.08 -485.4 L 256.73 -485.4 L 256.38 -485.4 L 256.03 -485.4 L 255.68 -485.4 L 255.33 -485.4 L 254.99 -485.4 L 254.64 -485.4 L 254.29 -485.4 L 253.94 -485.4 L 253.59 -485.4 L 253.24 -485.4 L 252.89 -485.4 L 252.54 -485.4 L 252.19 -485.4 L 251.84 -485.4 L 251.49 -485.4 L 251.14 -485.4 L 250.79 -485.4 L 250.44 -485.4 L 250.09 -485.4 L 249.74 -485.4 L 249.39 -485.4 L 249.04 -485.4 L 248.69 -485.4 L 248.34 -485.4 L 248 -485.4 L 247.65 -485.4 L 247.3 -485.4 L 246.95 -485.4 L 246.6 -485.4 L 246.25 -485.4 L 245.9 -485.4 L 245.55 -485.4 L 245.2 -485.4 L 244.85 -485.4 L 244.5 -485.4 L 244.15 -485.4 L 243.8 -485.4 L 243.45 -485.4 L 243.1 -485.4 L 242.75 -485.4 L 242.4 -485.4 L 242.05 -485.4 L 241.7 -485.4 L 241.35 -485.4 L 241.01 -485.4 L 240.66 -485.4 L 240.31 -485.4 L 239.96 -485.4 L 239.61 -485.4 L 239.26 -485.4 L 238.91 -485.4 L 238.56 -485.4 L 238.21 -485.4 L 237.86 -485.4 L 237.51 -485.4 L 237.16 -485.4 L 236.81 -485.4 L 236.46 -485.4 L 236.11 -485.4 L 235.76 -485.4 L 235.41 -485.4 L 235.06 -485.4 L 234.71 -485.4 L 234.36 -485.4 L 234.02 -485.4 L 233.67 -485.4 L 233.32 -485.4 L 232.97 -485.4 L 232.62 -485.4 L 232.27 -485.4 L 231.92 -485.4 L 231.57 -485.4 L 231.22 -485.4 L 230.87 -485.4 L 230.52 -485.4 L 230.17 -485.4 L 229.82 -485.4 L 229.47 -485.4 L 229.12 -485.4 L 228.77 -485.4 L 228.42 -485.4 L 228.07 -485.4 L 227.72 -485.4 L 227.37 -485.4 L 227.03 -485.4 L 226.68 -485.4 L 226.33 -485.4 L 225.98 -485.4 L 225.63 -485.4 L 225.28 -485.4 L 224.93 -485.4 L 224.58 -485.4 L 224.23 -485.4 L 223.88 -485.4 L 223.53 -485.4 L 223.18 -485.4 L 222.83 -485.4 L 222.48 -485.4 L 222.13 -485.4 L 221.78 -485.4 L 221.43 -485.4 L 221.08 -485.4 L 220.73 -485.4 L 220.38 -485.4 L 220.04 -485.4 L 219.69 -485.4 L 219.34 -485.4 L 218.99 -485.4 L 218.64 -485.4 L 218.29 -485.4 L 217.94 -485.4 L 217.59 -485.4 L 217.24 -485.4 L 216.89 -485.4 L 216.54 -485.4 L 216.19 -485.4 L 215.84 -485.4 L 215.49 -485.4 L 215.14 -485.4 L 214.79 -485.4 L 214.44 -485.4 L 214.09 -485.4 L 213.74 -485.4 L 213.39 -485.4 L 213.05 -485.4 L 212.7 -485.4 L 212.35 -485.4 L 212 -485.4 L 211.65 -485.4 L 211.3 -485.4 L 210.95 -485.4 L 210.6 -485.4 L 210.25 -485.4 L 209.9 -485.4 z" style="stroke: #808080; stroke-opacity: 0.38"/>
</defs>
<g clip-path="url(#p5f1723d135)">
<use href="#m125ca4998e" x="0" y="682" style="fill: #808080; fill-opacity: 0.38; stroke: #808080; stroke-opacity: 0.38"/>
</g>
</g>
<g id="FillBetweenPolyCollection_4">
<defs>
<path id="m96f99d4a9f" d="M 209.5 -481.1 L 209.5 -491.8 L 209.85 -492.07 L 210.2 -492.34 L 210.55 -492.61 L 210.9 -492.87 L 211.26 -493.13 L 211.61 -493.39 L 211.96 -493.64 L 212.31 -493.89 L 212.66 -494.13 L 213.01 -494.37 L 213.36 -494.6 L 213.71 -494.83 L 214.07 -495.05 L 214.42 -495.26 L 214.77 -495.47 L 215.12 -495.67 L 215.47 -495.86 L 215.82 -496.05 L 216.17 -496.22 L 216.52 -496.39 L 216.87 -496.55 L 217.23 -496.7 L 217.58 -496.84 L 217.93 -496.97 L 218.28 -497.1 L 218.63 -497.22 L 218.98 -497.35 L 219.33 -497.47 L 219.68 -497.59 L 220.04 -497.72 L 220.39 -497.84 L 220.74 -497.96 L 221.09 -498.07 L 221.44 -498.19 L 221.79 -498.3 L 222.14 -498.41 L 222.49 -498.51 L 222.84 -498.62 L 223.2 -498.72 L 223.55 -498.81 L 223.9 -498.9 L 224.25 -498.98 L 224.6 -499.06 L 224.95 -499.14 L 225.3 -499.21 L 225.65 -499.27 L 226.01 -499.32 L 226.36 -499.37 L 226.71 -499.41 L 227.06 -499.44 L 227.41 -499.47 L 227.76 -499.49 L 228.11 -499.5 L 228.46 -499.5 L 228.81 -499.48 L 229.17 -499.46 L 229.52 -499.43 L 229.87 -499.39 L 230.22 -499.33 L 230.57 -499.27 L 230.92 -499.2 L 231.27 -499.12 L 231.62 -499.04 L 231.97 -498.94 L 232.33 -498.84 L 232.68 -498.73 L 233.03 -498.62 L 233.38 -498.5 L 233.73 -498.38 L 234.08 -498.25 L 234.43 -498.12 L 234.78 -497.99 L 235.14 -497.85 L 235.49 -497.71 L 235.84 -497.57 L 236.19 -497.41 L 236.54 -497.24 L 236.89 -497.05 L 237.24 -496.83 L 237.59 -496.6 L 237.94 -496.34 L 238.3 -496.06 L 238.65 -495.76 L 239 -495.45 L 239.35 -495.12 L 239.7 -494.78 L 240.05 -494.43 L 240.4 -494.06 L 240.75 -493.68 L 241.11 -493.3 L 241.46 -492.9 L 241.81 -492.5 L 242.16 -492.1 L 242.51 -491.69 L 242.86 -491.28 L 243.21 -490.86 L 243.56 -490.42 L 243.91 -489.96 L 244.27 -489.47 L 244.62 -488.96 L 244.97 -488.42 L 245.32 -487.86 L 245.67 -487.28 L 246.02 -486.68 L 246.37 -486.07 L 246.72 -485.44 L 247.08 -484.8 L 247.43 -484.14 L 247.78 -483.48 L 248.13 -482.8 L 248.48 -482.12 L 248.83 -481.43 L 249.18 -480.74 L 249.53 -480.04 L 249.88 -479.34 L 250.24 -478.65 L 250.59 -477.95 L 250.94 -477.26 L 251.29 -476.57 L 251.64 -475.89 L 251.99 -475.22 L 252.34 -474.55 L 252.69 -473.9 L 253.05 -473.26 L 253.4 -472.64 L 253.75 -472.03 L 254.1 -471.44 L 254.45 -470.86 L 254.8 -470.31 L 255.15 -469.77 L 255.5 -469.24 L 255.85 -468.72 L 256.21 -468.2 L 256.56 -467.68 L 256.91 -467.17 L 257.26 -466.66 L 257.61 -466.15 L 257.96 -465.65 L 258.31 -465.16 L 258.66 -464.67 L 259.02 -464.18 L 259.37 -463.7 L 259.72 -463.23 L 260.07 -462.76 L 260.42 -462.3 L 260.77 -461.84 L 261.12 -461.39 L 261.47 -460.95 L 261.82 -460.52 L 262.18 -460.09 L 262.53 -459.67 L 262.88 -459.26 L 263.23 -458.86 L 263.58 -458.46 L 263.93 -458.07 L 264.28 -457.69 L 264.63 -457.29 L 264.98 -456.89 L 265.34 -456.47 L 265.69 -456.05 L 266.04 -455.63 L 266.39 -455.2 L 266.74 -454.78 L 267.09 -454.35 L 267.44 -453.92 L 267.79 -453.5 L 268.15 -453.09 L 268.5 -452.68 L 268.85 -452.28 L 269.2 -451.9 L 269.55 -451.52 L 269.9 -451.16 L 270.25 -450.82 L 270.6 -450.49 L 270.95 -450.19 L 271.31 -449.9 L 271.66 -449.64 L 272.01 -449.41 L 272.36 -449.2 L 272.71 -449.02 L 273.06 -448.87 L 273.41 -448.75 L 273.76 -448.67 L 274.12 -448.62 L 274.47 -448.6 L 274.82 -448.6 L 275.17 -448.61 L 275.52 -448.62 L 275.87 -448.63 L 276.22 -448.65 L 276.57 -448.66 L 276.92 -448.68 L 277.28 -448.71 L 277.63 -448.73 L 277.98 -448.76 L 278.33 -448.79 L 278.68 -448.83 L 279.03 -448.86 L 279.38 -448.9 L 279.73 -448.94 L 280.09 -448.98 L 280.44 -449.02 L 280.79 -449.06 L 281.14 -449.11 L 281.49 -449.15 L 281.84 -449.2 L 282.19 -449.25 L 282.54 -449.29 L 282.89 -449.34 L 283.25 -449.39 L 283.6 -449.44 L 283.95 -449.49 L 284.3 -449.55 L 284.65 -449.6 L 285 -449.67 L 285.35 -449.74 L 285.7 -449.81 L 286.06 -449.89 L 286.41 -449.98 L 286.76 -450.07 L 287.11 -450.16 L 287.46 -450.26 L 287.81 -450.36 L 288.16 -450.46 L 288.51 -450.57 L 288.86 -450.68 L 289.22 -450.8 L 289.57 -450.92 L 289.92 -451.04 L 290.27 -451.16 L 290.62 -451.29 L 290.97 -451.42 L 291.32 -451.55 L 291.67 -451.68 L 292.03 -451.81 L 292.38 -451.95 L 292.73 -452.08 L 293.08 -452.22 L 293.43 -452.35 L 293.78 -452.49 L 294.13 -452.64 L 294.48 -452.78 L 294.83 -452.94 L 295.19 -453.1 L 295.54 -453.26 L 295.89 -453.44 L 296.24 -453.61 L 296.59 -453.8 L 296.94 -453.98 L 297.29 -454.17 L 297.64 -454.37 L 297.99 -454.56 L 298.35 -454.76 L 298.7 -454.96 L 299.05 -455.17 L 299.4 -455.37 L 299.75 -455.58 L 300.1 -455.79 L 300.45 -456 L 300.8 -456.21 L 301.16 -456.42 L 301.51 -456.63 L 301.86 -456.83 L 302.21 -457.04 L 302.56 -457.25 L 302.91 -457.45 L 303.26 -457.65 L 303.61 -457.85 L 303.96 -458.06 L 304.32 -458.26 L 304.67 -458.46 L 305.02 -458.67 L 305.37 -458.88 L 305.72 -459.08 L 306.07 -459.29 L 306.42 -459.5 L 306.77 -459.71 L 307.13 -459.92 L 307.48 -460.13 L 307.83 -460.34 L 308.18 -460.55 L 308.53 -460.76 L 308.88 -460.98 L 309.23 -461.19 L 309.58 -461.41 L 309.93 -461.62 L 310.29 -461.84 L 310.64 -462.06 L 310.99 -462.27 L 311.34 -462.49 L 311.69 -462.71 L 312.04 -462.93 L 312.39 -463.16 L 312.74 -463.38 L 313.1 -463.6 L 313.45 -463.82 L 313.8 -464.05 L 314.15 -464.27 L 314.5 -464.5 L 314.5 -451 L 314.5 -451 L 314.15 -450.8 L 313.8 -450.61 L 313.45 -450.42 L 313.1 -450.22 L 312.74 -450.03 L 312.39 -449.84 L 312.04 -449.65 L 311.69 -449.46 L 311.34 -449.27 L 310.99 -449.08 L 310.64 -448.89 L 310.29 -448.7 L 309.93 -448.52 L 309.58 -448.33 L 309.23 -448.15 L 308.88 -447.96 L 308.53 -447.78 L 308.18 -447.6 L 307.83 -447.42 L 307.48 -447.24 L 307.13 -447.06 L 306.77 -446.88 L 306.42 -446.7 L 306.07 -446.52 L 305.72 -446.34 L 305.37 -446.17 L 305.02 -445.99 L 304.67 -445.82 L 304.32 -445.64 L 303.96 -445.47 L 303.61 -445.3 L 303.26 -445.13 L 302.91 -444.96 L 302.56 -444.79 L 302.21 -444.61 L 301.86 -444.44 L 301.51 -444.27 L 301.16 -444.1 L 300.8 -443.93 L 300.45 -443.76 L 300.1 -443.59 L 299.75 -443.42 L 299.4 -443.25 L 299.05 -443.08 L 298.7 -442.91 L 298.35 -442.75 L 297.99 -442.58 L 297.64 -442.42 L 297.29 -442.26 L 296.94 -442.1 L 296.59 -441.95 L 296.24 -441.79 L 295.89 -441.64 L 295.54 -441.49 L 295.19 -441.35 L 294.83 -441.2 L 294.48 -441.06 L 294.13 -440.93 L 293.78 -440.79 L 293.43 -440.66 L 293.08 -440.52 L 292.73 -440.39 L 292.38 -440.25 L 292.03 -440.1 L 291.67 -439.96 L 291.32 -439.82 L 290.97 -439.67 L 290.62 -439.52 L 290.27 -439.38 L 289.92 -439.23 L 289.57 -439.08 L 289.22 -438.94 L 288.86 -438.79 L 288.51 -438.64 L 288.16 -438.5 L 287.81 -438.36 L 287.46 -438.22 L 287.11 -438.08 L 286.76 -437.94 L 286.41 -437.81 L 286.06 -437.68 L 285.7 -437.55 L 285.35 -437.42 L 285 -437.3 L 284.65 -437.18 L 284.3 -437.07 L 283.95 -436.96 L 283.6 -436.85 L 283.25 -436.75 L 282.89 -436.66 L 282.54 -436.57 L 282.19 -436.48 L 281.84 -436.4 L 281.49 -436.33 L 281.14 -436.27 L 280.79 -436.21 L 280.44 -436.16 L 280.09 -436.11 L 279.73 -436.07 L 279.38 -436.04 L 279.03 -436.02 L 278.68 -436.01 L 278.33 -436 L 277.98 -436.01 L 277.63 -436.03 L 277.28 -436.07 L 276.92 -436.12 L 276.57 -436.18 L 276.22 -436.26 L 275.87 -436.34 L 275.52 -436.44 L 275.17 -436.56 L 274.82 -436.68 L 274.47 -436.81 L 274.12 -436.96 L 273.76 -437.11 L 273.41 -437.27 L 273.06 -437.45 L 272.71 -437.63 L 272.36 -437.81 L 272.01 -438.01 L 271.66 -438.21 L 271.31 -438.42 L 270.95 -438.63 L 270.6 -438.85 L 270.25 -439.08 L 269.9 -439.31 L 269.55 -439.54 L 269.2 -439.77 L 268.85 -440.01 L 268.5 -440.25 L 268.15 -440.5 L 267.79 -440.74 L 267.44 -440.99 L 267.09 -441.23 L 266.74 -441.48 L 266.39 -441.73 L 266.04 -441.97 L 265.69 -442.23 L 265.34 -442.5 L 264.98 -442.79 L 264.63 -443.09 L 264.28 -443.41 L 263.93 -443.75 L 263.58 -444.1 L 263.23 -444.46 L 262.88 -444.83 L 262.53 -445.22 L 262.18 -445.62 L 261.82 -446.03 L 261.47 -446.45 L 261.12 -446.87 L 260.77 -447.31 L 260.42 -447.75 L 260.07 -448.2 L 259.72 -448.65 L 259.37 -449.11 L 259.02 -449.57 L 258.66 -450.04 L 258.31 -450.51 L 257.96 -450.98 L 257.61 -451.45 L 257.26 -451.92 L 256.91 -452.39 L 256.56 -452.86 L 256.21 -453.33 L 255.85 -453.81 L 255.5 -454.3 L 255.15 -454.81 L 254.8 -455.33 L 254.45 -455.87 L 254.1 -456.41 L 253.75 -456.96 L 253.4 -457.52 L 253.05 -458.09 L 252.69 -458.66 L 252.34 -459.23 L 251.99 -459.81 L 251.64 -460.38 L 251.29 -460.95 L 250.94 -461.52 L 250.59 -462.09 L 250.24 -462.65 L 249.88 -463.21 L 249.53 -463.75 L 249.18 -464.29 L 248.83 -464.81 L 248.48 -465.32 L 248.13 -465.82 L 247.78 -466.31 L 247.43 -466.8 L 247.08 -467.3 L 246.72 -467.8 L 246.37 -468.3 L 246.02 -468.81 L 245.67 -469.31 L 245.32 -469.81 L 244.97 -470.31 L 244.62 -470.8 L 244.27 -471.29 L 243.91 -471.77 L 243.56 -472.23 L 243.21 -472.69 L 242.86 -473.13 L 242.51 -473.56 L 242.16 -473.97 L 241.81 -474.36 L 241.46 -474.74 L 241.11 -475.09 L 240.75 -475.42 L 240.4 -475.73 L 240.05 -476.01 L 239.7 -476.27 L 239.35 -476.51 L 239 -476.74 L 238.65 -476.97 L 238.3 -477.18 L 237.94 -477.4 L 237.59 -477.6 L 237.24 -477.79 L 236.89 -477.99 L 236.54 -478.17 L 236.19 -478.35 L 235.84 -478.52 L 235.49 -478.69 L 235.14 -478.85 L 234.78 -479.01 L 234.43 -479.16 L 234.08 -479.31 L 233.73 -479.46 L 233.38 -479.6 L 233.03 -479.74 L 232.68 -479.88 L 232.33 -480.01 L 231.97 -480.14 L 231.62 -480.27 L 231.27 -480.4 L 230.92 -480.53 L 230.57 -480.66 L 230.22 -480.79 L 229.87 -480.93 L 229.52 -481.07 L 229.17 -481.2 L 228.81 -481.34 L 228.46 -481.48 L 228.11 -481.61 L 227.76 -481.74 L 227.41 -481.87 L 227.06 -481.99 L 226.71 -482.1 L 226.36 -482.21 L 226.01 -482.31 L 225.65 -482.4 L 225.3 -482.48 L 224.95 -482.55 L 224.6 -482.61 L 224.25 -482.65 L 223.9 -482.68 L 223.55 -482.7 L 223.2 -482.7 L 222.84 -482.7 L 222.49 -482.7 L 222.14 -482.7 L 221.79 -482.7 L 221.44 -482.7 L 221.09 -482.69 L 220.74 -482.69 L 220.39 -482.68 L 220.04 -482.68 L 219.68 -482.67 L 219.33 -482.66 L 218.98 -482.65 L 218.63 -482.63 L 218.28 -482.62 L 217.93 -482.6 L 217.58 -482.58 L 217.23 -482.56 L 216.87 -482.53 L 216.52 -482.51 L 216.17 -482.47 L 215.82 -482.44 L 215.47 -482.4 L 215.12 -482.36 L 214.77 -482.32 L 214.42 -482.27 L 214.07 -482.21 L 213.71 -482.16 L 213.36 -482.1 L 213.01 -482.03 L 212.66 -481.96 L 212.31 -481.89 L 211.96 -481.81 L 211.61 -481.72 L 211.26 -481.63 L 210.9 -481.54 L 210.55 -481.44 L 210.2 -481.33 L 209.85 -481.22 L 209.5 -481.1 z" style="stroke: #808080; stroke-opacity: 0.4"/>
</defs>
<g clip-path="url(#p5f1723d135)">
<use href="#m96f99d4a9f" x="0" y="682" style="fill: #808080; fill-opacity: 0.4; stroke: #808080; stroke-opacity: 0.4"/>
</g>
</g>
<g id="matplotlib.axis_9">
<g id="xtick_10">
<g id="line2d_41">
<g>
<use href="#m7c25c535dc" x="209.9" y="250.2" style="stroke: #000000; stroke-width: 0.8"/>
</g>
</g>
</g>
<g id="xtick_11">
<g id="line2d_42">
<g>
<use href="#m7c25c535dc" x="262.15" y="250.2" style="stroke: #000000; stroke-width: 0.8"/>
</g>
</g>
</g>
<g id="xtick_12">
<g id="line2d_43">
<g>
<use href="#m7c25c535dc" x="314.4" y="250.2" style="stroke: #000000; stroke-width: 0.8"/>
</g>
</g>
</g>
</g>
<g id="matplotlib.axis_10">
<g id="ytick_16">
<g id="line2d_44">
<g>
<use href="#mb258c49b38" x="209.9" y="226.5" style="stroke: #000000; stroke-width: 0.8"/>
</g>
</g>
<g id="text_17">
<text transform="translate(177.646 230.451) scale(1.435 1.055)" style="font-size:10.40px">−</text><text transform="translate(186.360 230.451) scale(1.144 1.055)" style="font-size:10.40px">2</text><text transform="translate(192.977 230.451) scale(1.144 1.055)" style="font-size:10.40px">.</text><text transform="translate(196.283 230.451) scale(1.144 1.055)" style="font-size:10.40px">5</text>
</g>
</g>
<g id="ytick_17">
<g id="line2d_45">
<g>
<use href="#mb258c49b38" x="209.9" y="195.6" style="stroke: #000000; stroke-width: 0.8"/>
</g>
</g>
<g id="text_18">
<text transform="translate(186.360 199.551) scale(1.144 1.055)" style="font-size:10.40px">0</text><text transform="translate(192.977 199.551) scale(1.144 1.055)" style="font-size:10.40px">.</text><text transform="translate(196.283 199.551) scale(1.144 1.055)" style="font-size:10.40px">0</text>
</g>
</g>
<g id="ytick_18">
<g id="line2d_46">
<g>
<use href="#mb258c49b38" x="209.9" y="164.7" style="stroke: #000000; stroke-width: 0.8"/>
</g>
</g>
<g id="text_19">
<text transform="translate(186.360 168.651) scale(1.144 1.055)" style="font-size:10.40px">2</text><text transform="translate(192.977 168.651) scale(1.144 1.055)" style="font-size:10.40px">.</text><text transform="translate(196.283 168.651) scale(1.144 1.055)" style="font-size:10.40px">5</text>
</g>
</g>
</g>
<g id="line2d_47">
<path d="M 209.5 195.5 L 211.61 194.43 L 212.67 194.08 L 215.3 193.61 L 217.41 193.41 L 223.22 193.4 L 314.5 193.4 L 314.5 193.4 
" clip-path="url(#p5f1723d135)" style="fill: none; stroke: #3545a0; stroke-width: 2; stroke-linecap: square"/>
</g>
<g id="line2d_48">
<path d="M 209.5 195.6 L 213.19 193.95 L 215.3 193.2 L 220.05 191.93 L 223.75 191.13 L 226.38 190.78 L 228.49 190.7 L 230.08 190.88 L 231.66 191.29 L 233.77 192.11 L 236.94 193.69 L 237.99 194.42 L 239.58 195.92 L 241.16 197.79 L 243.27 200.66 L 251.71 213.05 L 254.35 217.01 L 258.04 221.92 L 261.21 225.84 L 263.32 228.16 L 266.48 231.19 L 271.23 235.72 L 273.34 237.39 L 274.93 238.36 L 276.51 239.02 L 277.57 239.25 L 279.15 239.28 L 281.26 239.07 L 283.9 238.54 L 287.06 237.63 L 296.56 234.47 L 301.31 232.6 L 312.39 227.94 L 314.5 227 L 314.5 227 
" clip-path="url(#p5f1723d135)" style="fill: none; stroke-dasharray: 5.9,2.5; stroke-dashoffset: 0; stroke: #3545a0; stroke-width: 2"/>
</g>
<g id="line2d_49">
<path d="M 268 164 L 288.5 164 
" style="fill: none; stroke: #3545a0; stroke-width: 2; stroke-linecap: square"/>
</g>
<g id="line2d_50">
<path d="M 268 179.5 L 288.5 179.5 
" style="fill: none; stroke-dasharray: 5.9,2.5; stroke-dashoffset: 0; stroke: #3545a0; stroke-width: 2"/>
</g>
<g id="patch_26">
<path d="M 209.9 250.2 L 209.9 150.55 
" style="fill: none; stroke: #000000; stroke-width: 0.8; stroke-linejoin: miter; stroke-linecap: square"/>
</g>
<g id="patch_27">
<path d="M 314.4 250.2 L 314.4 150.55 
" style="fill: none; stroke: #000000; stroke-width: 0.8; stroke-linejoin: miter; stroke-linecap: square"/>
</g>
<g id="patch_28">
<path d="M 209.9 250.2 L 314.4 250.2 
" style="fill: none; stroke: #000000; stroke-width: 0.8; stroke-linejoin: miter; stroke-linecap: square"/>
</g>
<g id="patch_29">
<path d="M 209.9 150.55 L 314.4 150.55 
" style="fill: none; stroke: #000000; stroke-width: 0.8; stroke-linejoin: miter; stroke-linecap: square"/>
</g>
<g id="text_20">
<text transform="translate(224.411 144.550) scale(1.141 1.055)" style="font-size:12.45px">d</text><text transform="translate(232.313 144.550) scale(1.172 1.055)" style="font-size:12.45px">)</text><text transform="translate(241.128 144.550) scale(1.062 1.055)" style="font-size:12.45px">I</text><text transform="translate(244.800 144.550) scale(0.962 1.055)" style="font-size:12.45px">R</text><text transform="translate(253.451 144.550) scale(0.967 1.055)" style="font-size:12.45px">C</text><text transform="translate(261.524 144.550) scale(1.213 1.055)" style="font-size:12.45px">:</text><text transform="translate(269.676 144.550) scale(1.066 1.055)" style="font-size:12.45px">D</text><text transform="translate(283.220 144.550) scale(1.297 1.055)" style="font-size:12.45px">|</text><text transform="translate(291.373 144.550) scale(1.026 1.055)" style="font-size:12.45px">V</text>
</g>
</g>
<g id="axes_7">
<g id="patch_30">
<path d="M 44 384 L 148.4 384 L 148.4 284.35 L 44 284.35 z" style="fill: #ffffff"/>
</g>
<g id="matplotlib.axis_11">
<g id="xtick_13">
<g id="line2d_51">
<g>
<use href="#m7c25c535dc" x="44" y="384" style="stroke: #000000; stroke-width: 0.8"/>
</g>
</g>
</g>
<g id="xtick_14">
<g id="line2d_52">
<g>
<use href="#m7c25c535dc" x="96.2" y="384" style="stroke: #000000; stroke-width: 0.8"/>
</g>
</g>
</g>
<g id="xtick_15">
<g id="line2d_53">
<g>
<use href="#m7c25c535dc" x="148.4" y="384" style="stroke: #000000; stroke-width: 0.8"/>
</g>
</g>
</g>
</g>
<g id="matplotlib.axis_12">
<g id="ytick_19">
<g id="line2d_54">
<g>
<use href="#mb258c49b38" x="44" y="365.1" style="stroke: #000000; stroke-width: 0.8"/>
</g>
</g>
<g id="text_21">
<text transform="translate(30.383 369.051) scale(1.144 1.055)" style="font-size:10.40px">0</text>
</g>
</g>
<g id="ytick_20">
<g id="line2d_55">
<g>
<use href="#mb258c49b38" x="44" y="317.7" style="stroke: #000000; stroke-width: 0.8"/>
</g>
</g>
<g id="text_22">
<text transform="translate(30.383 321.651) scale(1.144 1.055)" style="font-size:10.40px">1</text>
</g>
</g>
</g>
<g id="line2d_56">
<path d="M 44 364.2 L 53.98 364 L 65.53 363.55 L 76.56 362.84 L 91.79 361.66 L 113.84 359.91 L 120.14 359.6 L 133.27 359.31 L 140.1 359.36 L 147.97 359.67 L 148.5 359.7 L 148.5 359.7 
" clip-path="url(#p26239e2aa4)" style="fill: none; stroke: #c81016; stroke-width: 2; stroke-linecap: square"/>
</g>
<g id="line2d_57">
<path d="M 44 364.9 L 61.33 364.79 L 76.03 364.52 L 85.48 364.15 L 92.31 363.65 L 97.04 363.15 L 100.71 362.49 L 117.52 359.18 L 120.67 358.85 L 128.02 358.39 L 132.75 358.3 L 139.05 358.43 L 144.82 358.76 L 148.5 359.1 L 148.5 359.1 
" clip-path="url(#p26239e2aa4)" style="fill: none; stroke-dasharray: 5.9,2.5; stroke-dashoffset: 0; stroke: #c81016; stroke-width: 2"/>
</g>
<g id="line2d_58">
<path d="M 72.9 298.4 L 93.5 298.4 
" style="fill: none; stroke: #c81016; stroke-width: 2; stroke-linecap: square"/>
</g>
<g id="line2d_59">
<path d="M 72.9 312.5 L 93.5 312.5 
" style="fill: none; stroke-dasharray: 5.9,2.5; stroke-dashoffset: 0; stroke: #c81016; stroke-width: 2"/>
</g>
<g id="patch_31">
<path d="M 44 384 L 44 284.35 
" style="fill: none; stroke: #000000; stroke-width: 0.8; stroke-linejoin: miter; stroke-linecap: square"/>
</g>
<g id="patch_32">
<path d="M 148.4 384 L 148.4 284.35 
" style="fill: none; stroke: #000000; stroke-width: 0.8; stroke-linejoin: miter; stroke-linecap: square"/>
</g>
<g id="patch_33">
<path d="M 44 384 L 148.4 384 
" style="fill: none; stroke: #000000; stroke-width: 0.8; stroke-linejoin: miter; stroke-linecap: square"/>
</g>
<g id="patch_34">
<path d="M 44 284.35 L 148.4 284.35 
" style="fill: none; stroke: #000000; stroke-width: 0.8; stroke-linejoin: miter; stroke-linecap: square"/>
</g>
<g id="text_23">
<g transform="translate(38.99225 278.35)"><text transform="translate(0.000 -0.875) scale(1.106 1.055)" style="font-size:12.45px">e</text><text transform="translate(7.690 -0.875) scale(1.172 1.055)" style="font-size:12.45px">)</text><text transform="translate(12.567 -0.875) scale(1.144 1.055)" style="font-size:12.45px"> </text><text transform="translate(16.541 -0.875) scale(1.169 1.055)" style="font-size:12.45px">m</text><text transform="translate(28.717 -0.875) scale(1.100 1.055)" style="font-size:12.45px">o</text><text transform="translate(36.365 -0.875) scale(1.141 1.055)" style="font-size:12.45px">d</text><text transform="translate(44.299 -0.875) scale(1.106 1.055)" style="font-size:12.45px">e</text><text transform="translate(51.990 -0.875) scale(1.251 1.055)" style="font-size:12.45px">l</text><text transform="translate(55.463 -0.875) scale(1.106 1.055)" style="font-size:12.45px">e</text><text transform="translate(63.153 -0.875) scale(1.141 1.055)" style="font-size:12.45px">d</text><text transform="translate(71.088 -0.875) scale(1.144 1.055)" style="font-size:12.45px"> </text><text transform="translate(75.061 -0.875) scale(1.140 1.055)" style="font-size:12.45px;font-style:italic">n</text><text transform="translate(82.983 1.094) scale(1.026 1.055)" style="font-size:8.71px;font-style:italic">A</text><text transform="translate(88.969 1.094) scale(1.235 1.055)" style="font-size:8.71px;font-style:italic">r</text><text transform="translate(92.567 1.094) scale(1.144 1.055)" style="font-size:8.71px">1</text><text transform="translate(98.134 1.094) scale(1.144 1.055)" style="font-size:8.71px">6</text><text transform="translate(105.405 1.094) scale(1.435 1.055)" style="font-size:8.71px">+</text></g>
</g>
</g>
<g id="axes_8">
<g id="patch_35">
<path d="M 209.9 384 L 314.4 384 L 314.4 284.35 L 209.9 284.35 z" style="fill: #ffffff"/>
</g>
<g id="matplotlib.axis_13">
<g id="xtick_16">
<g id="line2d_60">
<g>
<use href="#m7c25c535dc" x="209.9" y="384" style="stroke: #000000; stroke-width: 0.8"/>
</g>
</g>
</g>
<g id="xtick_17">
<g id="line2d_61">
<g>
<use href="#m7c25c535dc" x="262.15" y="384" style="stroke: #000000; stroke-width: 0.8"/>
</g>
</g>
</g>
<g id="xtick_18">
<g id="line2d_62">
<g>
<use href="#m7c25c535dc" x="314.4" y="384" style="stroke: #000000; stroke-width: 0.8"/>
</g>
</g>
</g>
</g>
<g id="matplotlib.axis_14">
<g id="ytick_21">
<g id="line2d_63">
<g>
<use href="#mb258c49b38" x="209.9" y="365.1" style="stroke: #000000; stroke-width: 0.8"/>
</g>
</g>
<g id="text_24">
<text transform="translate(196.283 369.051) scale(1.144 1.055)" style="font-size:10.40px">0</text>
</g>
</g>
<g id="ytick_22">
<g id="line2d_64">
<g>
<use href="#mb258c49b38" x="209.9" y="317.7" style="stroke: #000000; stroke-width: 0.8"/>
</g>
</g>
<g id="text_25">
<text transform="translate(196.283 321.651) scale(1.144 1.055)" style="font-size:10.40px">1</text>
</g>
</g>
</g>
<g id="line2d_65">
<path d="M 209.9 334.5 L 215.16 334.39 L 216.21 334.19 L 217.78 333.54 L 220.41 332.09 L 221.99 330.86 L 223.57 329.35 L 224.62 328.17 L 226.19 325.95 L 228.3 322.48 L 229.87 319.59 L 232.5 314.15 L 234.6 309.39 L 237.23 303.26 L 240.39 296.73 L 241.44 294.93 L 243.54 292.07 L 244.59 290.86 L 245.64 289.91 L 246.69 289.3 L 248.8 288.36 L 250.37 287.91 L 251.42 287.8 L 252.48 287.92 L 253.53 288.27 L 255.1 289.06 L 255.63 289.46 L 256.68 290.71 L 257.73 292.41 L 259.83 296.49 L 261.41 299.73 L 262.99 303.58 L 268.77 318.91 L 271.4 325.74 L 274.55 333.28 L 276.65 337.82 L 279.28 343.02 L 280.86 345.8 L 282.44 348.15 L 284.54 350.82 L 286.64 353.07 L 289.27 355.44 L 291.37 357.11 L 293.47 358.5 L 295.58 359.57 L 298.21 360.66 L 300.83 361.5 L 303.99 362.24 L 307.67 362.87 L 311.87 363.33 L 314.5 363.5 L 314.5 363.5 
" clip-path="url(#p80e4a3a18c)" style="fill: none; stroke: #3545a0; stroke-width: 2; stroke-linecap: square"/>
</g>
<g id="line2d_66">
<path d="M 209.9 342.6 L 212 343.02 L 214.63 343.26 L 217.26 343.28 L 218.84 343.08 L 220.94 342.6 L 224.09 341.64 L 225.67 340.96 L 227.77 339.71 L 231.98 336.8 L 234.6 334.8 L 246.69 324.94 L 249.85 321.91 L 254.05 317.53 L 256.68 314.42 L 258.26 312.68 L 260.36 310.84 L 262.46 309.15 L 264.04 308.17 L 265.09 307.74 L 266.67 307.45 L 269.82 307.13 L 271.4 307.11 L 272.45 307.26 L 274.03 307.77 L 276.65 308.97 L 278.23 309.92 L 279.81 311.15 L 281.91 313.16 L 284.01 315.47 L 285.59 317.58 L 287.17 320.09 L 289.27 323.87 L 291.9 329.08 L 294 334 L 300.83 350.48 L 301.88 352.38 L 303.99 355.59 L 305.56 357.58 L 307.14 359.12 L 309.77 361.2 L 311.35 362.23 L 312.92 363.03 L 314.5 363.5 L 314.5 363.5 
" clip-path="url(#p80e4a3a18c)" style="fill: none; stroke-dasharray: 5.9,2.5; stroke-dashoffset: 0; stroke: #3545a0; stroke-width: 2"/>
</g>
<g id="line2d_67">
<path d="M 209.9 342.4 L 226.72 337.05 L 235.66 334 L 238.81 333.22 L 247.75 331.5 L 250.9 331.13 L 253.53 331 L 257.73 331.1 L 262.46 331.45 L 269.82 332.24 L 277.18 333.19 L 283.49 334.33 L 294.53 336.34 L 314.5 339.8 L 314.5 339.8 
" clip-path="url(#p80e4a3a18c)" style="fill: none; stroke-dasharray: 2,2.5; stroke-dashoffset: 0; stroke: #c81016; stroke-width: 2"/>
</g>
<g id="line2d_68">
<path d="M 215.4 347.8 L 235.6 347.8 
" style="fill: none; stroke: #3545a0; stroke-width: 2; stroke-linecap: square"/>
</g>
<g id="line2d_69">
<path d="M 215.4 362.8 L 235.6 362.8 
" style="fill: none; stroke-dasharray: 5.9,2.5; stroke-dashoffset: 0; stroke: #3545a0; stroke-width: 2"/>
</g>
<g id="line2d_70">
<path d="M 215.4 378.5 L 235.6 378.5 
" style="fill: none; stroke-dasharray: 2,2.5; stroke-dashoffset: 0; stroke: #c81016; stroke-width: 2"/>
</g>
<g id="patch_36">
<path d="M 209.9 384 L 209.9 284.35 
" style="fill: none; stroke: #000000; stroke-width: 0.8; stroke-linejoin: miter; stroke-linecap: square"/>
</g>
<g id="patch_37">
<path d="M 314.4 384 L 314.4 284.35 
" style="fill: none; stroke: #000000; stroke-width: 0.8; stroke-linejoin: miter; stroke-linecap: square"/>
</g>
<g id="patch_38">
<path d="M 209.9 384 L 314.4 384 
" style="fill: none; stroke: #000000; stroke-width: 0.8; stroke-linejoin: miter; stroke-linecap: square"/>
</g>
<g id="patch_39">
<path d="M 209.9 284.35 L 314.4 284.35 
" style="fill: none; stroke: #000000; stroke-width: 0.8; stroke-linejoin: miter; stroke-linecap: square"/>
</g>
<g id="text_26">
<g transform="translate(206.623 278.35)"><text transform="translate(0.000 -0.875) scale(1.267 1.055)" style="font-size:12.45px">f</text><text transform="translate(4.401 -0.875) scale(1.172 1.055)" style="font-size:12.45px">)</text><text transform="translate(9.277 -0.875) scale(1.144 1.055)" style="font-size:12.45px"> </text><text transform="translate(13.251 -0.875) scale(1.169 1.055)" style="font-size:12.45px">m</text><text transform="translate(25.427 -0.875) scale(1.100 1.055)" style="font-size:12.45px">o</text><text transform="translate(33.075 -0.875) scale(1.141 1.055)" style="font-size:12.45px">d</text><text transform="translate(41.010 -0.875) scale(1.106 1.055)" style="font-size:12.45px">e</text><text transform="translate(48.700 -0.875) scale(1.251 1.055)" style="font-size:12.45px">l</text><text transform="translate(52.173 -0.875) scale(1.106 1.055)" style="font-size:12.45px">e</text><text transform="translate(59.863 -0.875) scale(1.141 1.055)" style="font-size:12.45px">d</text><text transform="translate(67.798 -0.875) scale(1.144 1.055)" style="font-size:12.45px"> </text><text transform="translate(71.771 -0.875) scale(1.140 1.055)" style="font-size:12.45px;font-style:italic">n</text><text transform="translate(79.694 1.094) scale(1.026 1.055)" style="font-size:8.71px;font-style:italic">A</text><text transform="translate(85.679 1.094) scale(1.235 1.055)" style="font-size:8.71px;font-style:italic">r</text><text transform="translate(89.277 1.094) scale(1.144 1.055)" style="font-size:8.71px">1</text><text transform="translate(94.844 1.094) scale(1.144 1.055)" style="font-size:8.71px">6</text><text transform="translate(102.115 1.094) scale(1.435 1.055)" style="font-size:8.71px">+</text></g>
</g>
</g>
<g id="axes_9">
<g id="patch_40">
<path d="M 44 517.8 L 148.4 517.8 L 148.4 418.15 L 44 418.15 z" style="fill: #ffffff"/>
</g>
<g id="FillBetweenPolyCollection_5">
<defs>
<path id="mccc504f95b" d="M 44 -179.4 L 44 -181 L 44.35 -181.01 L 44.7 -181.02 L 45.05 -181.03 L 45.4 -181.04 L 45.75 -181.05 L 46.09 -181.07 L 46.44 -181.08 L 46.79 -181.09 L 47.14 -181.1 L 47.49 -181.11 L 47.84 -181.12 L 48.19 -181.13 L 48.54 -181.14 L 48.89 -181.15 L 49.24 -181.16 L 49.59 -181.17 L 49.94 -181.19 L 50.28 -181.2 L 50.63 -181.21 L 50.98 -181.22 L 51.33 -181.23 L 51.68 -181.24 L 52.03 -181.25 L 52.38 -181.26 L 52.73 -181.27 L 53.08 -181.28 L 53.43 -181.29 L 53.78 -181.3 L 54.13 -181.32 L 54.47 -181.33 L 54.82 -181.34 L 55.17 -181.35 L 55.52 -181.36 L 55.87 -181.37 L 56.22 -181.38 L 56.57 -181.39 L 56.92 -181.4 L 57.27 -181.41 L 57.62 -181.42 L 57.97 -181.44 L 58.32 -181.45 L 58.66 -181.46 L 59.01 -181.47 L 59.36 -181.48 L 59.71 -181.49 L 60.06 -181.5 L 60.41 -181.51 L 60.76 -181.52 L 61.11 -181.53 L 61.46 -181.54 L 61.81 -181.56 L 62.16 -181.57 L 62.51 -181.58 L 62.85 -181.59 L 63.2 -181.6 L 63.55 -181.61 L 63.9 -181.62 L 64.25 -181.63 L 64.6 -181.64 L 64.95 -181.65 L 65.3 -181.66 L 65.65 -181.67 L 66 -181.69 L 66.35 -181.7 L 66.7 -181.71 L 67.04 -181.72 L 67.39 -181.73 L 67.74 -181.74 L 68.09 -181.75 L 68.44 -181.76 L 68.79 -181.77 L 69.14 -181.78 L 69.49 -181.79 L 69.84 -181.81 L 70.19 -181.82 L 70.54 -181.83 L 70.89 -181.84 L 71.23 -181.85 L 71.58 -181.86 L 71.93 -181.87 L 72.28 -181.88 L 72.63 -181.89 L 72.98 -181.9 L 73.33 -181.91 L 73.68 -181.93 L 74.03 -181.94 L 74.38 -181.95 L 74.73 -181.96 L 75.08 -181.97 L 75.42 -181.98 L 75.77 -181.99 L 76.12 -182 L 76.47 -182.01 L 76.82 -182.02 L 77.17 -182.03 L 77.52 -182.05 L 77.87 -182.06 L 78.22 -182.07 L 78.57 -182.08 L 78.92 -182.09 L 79.27 -182.1 L 79.61 -182.11 L 79.96 -182.12 L 80.31 -182.13 L 80.66 -182.14 L 81.01 -182.15 L 81.36 -182.16 L 81.71 -182.18 L 82.06 -182.19 L 82.41 -182.2 L 82.76 -182.21 L 83.11 -182.22 L 83.46 -182.23 L 83.8 -182.24 L 84.15 -182.25 L 84.5 -182.26 L 84.85 -182.27 L 85.2 -182.28 L 85.55 -182.3 L 85.9 -182.31 L 86.25 -182.32 L 86.6 -182.33 L 86.95 -182.34 L 87.3 -182.35 L 87.65 -182.36 L 87.99 -182.37 L 88.34 -182.38 L 88.69 -182.39 L 89.04 -182.44 L 89.39 -182.52 L 89.74 -182.61 L 90.09 -182.7 L 90.44 -182.79 L 90.79 -182.88 L 91.14 -182.97 L 91.49 -183.06 L 91.84 -183.15 L 92.18 -183.23 L 92.53 -183.32 L 92.88 -183.41 L 93.23 -183.5 L 93.58 -183.59 L 93.93 -183.68 L 94.28 -183.77 L 94.63 -183.85 L 94.98 -183.94 L 95.33 -183.98 L 95.68 -183.94 L 96.03 -183.9 L 96.37 -183.86 L 96.72 -183.81 L 97.07 -183.77 L 97.42 -183.73 L 97.77 -183.68 L 98.12 -183.64 L 98.47 -183.6 L 98.82 -183.55 L 99.17 -183.51 L 99.52 -183.47 L 99.87 -183.42 L 100.22 -183.38 L 100.56 -183.34 L 100.91 -183.3 L 101.26 -183.25 L 101.61 -183.21 L 101.96 -183.17 L 102.31 -183.12 L 102.66 -183.11 L 103.01 -183.12 L 103.36 -183.13 L 103.71 -183.14 L 104.06 -183.15 L 104.41 -183.17 L 104.75 -183.18 L 105.1 -183.19 L 105.45 -183.2 L 105.8 -183.22 L 106.15 -183.23 L 106.5 -183.24 L 106.85 -183.25 L 107.2 -183.27 L 107.55 -183.28 L 107.9 -183.29 L 108.25 -183.3 L 108.6 -183.32 L 108.94 -183.33 L 109.29 -183.34 L 109.64 -183.35 L 109.99 -183.36 L 110.34 -183.38 L 110.69 -183.39 L 111.04 -183.42 L 111.39 -183.58 L 111.74 -183.74 L 112.09 -183.9 L 112.44 -184.06 L 112.79 -184.22 L 113.13 -184.38 L 113.48 -184.54 L 113.83 -184.7 L 114.18 -184.87 L 114.53 -185.03 L 114.88 -185.19 L 115.23 -185.35 L 115.58 -185.51 L 115.93 -185.67 L 116.28 -185.83 L 116.63 -185.99 L 116.98 -186.15 L 117.32 -186.31 L 117.67 -186.47 L 118.02 -186.63 L 118.37 -186.79 L 118.72 -186.96 L 119.07 -187.12 L 119.42 -187.28 L 119.77 -187.44 L 120.12 -187.6 L 120.47 -187.76 L 120.82 -187.92 L 121.17 -188.08 L 121.51 -188.24 L 121.86 -188.4 L 122.21 -188.56 L 122.56 -188.72 L 122.91 -188.89 L 123.26 -189.05 L 123.61 -189.21 L 123.96 -189.37 L 124.31 -189.53 L 124.66 -189.69 L 125.01 -189.85 L 125.36 -190.01 L 125.7 -190.17 L 126.05 -190.33 L 126.4 -190.39 L 126.75 -190.37 L 127.1 -190.36 L 127.45 -190.34 L 127.8 -190.33 L 128.15 -190.31 L 128.5 -190.3 L 128.85 -190.28 L 129.2 -190.26 L 129.55 -190.25 L 129.89 -190.23 L 130.24 -190.22 L 130.59 -190.2 L 130.94 -190.18 L 131.29 -190.17 L 131.64 -190.15 L 131.99 -190.14 L 132.34 -190.12 L 132.69 -190.11 L 133.04 -190 L 133.39 -189.84 L 133.74 -189.69 L 134.08 -189.54 L 134.43 -189.38 L 134.78 -189.23 L 135.13 -189.08 L 135.48 -188.92 L 135.83 -188.77 L 136.18 -188.62 L 136.53 -188.46 L 136.88 -188.31 L 137.23 -188.16 L 137.58 -188 L 137.93 -187.85 L 138.27 -187.7 L 138.62 -187.54 L 138.97 -187.39 L 139.32 -187.24 L 139.67 -187.08 L 140.02 -186.93 L 140.37 -186.78 L 140.72 -186.62 L 141.07 -186.48 L 141.42 -186.4 L 141.77 -186.32 L 142.12 -186.24 L 142.46 -186.16 L 142.81 -186.08 L 143.16 -186 L 143.51 -185.92 L 143.86 -185.84 L 144.21 -185.76 L 144.56 -185.68 L 144.91 -185.6 L 145.26 -185.52 L 145.61 -185.44 L 145.96 -185.36 L 146.31 -185.28 L 146.65 -185.2 L 147 -185.12 L 147.35 -185.04 L 147.7 -184.96 L 148.05 -184.88 L 148.4 -184.8 L 148.4 -178.7 L 148.4 -178.7 L 148.05 -178.78 L 147.7 -178.87 L 147.35 -178.95 L 147 -179.04 L 146.65 -179.12 L 146.31 -179.21 L 145.96 -179.29 L 145.61 -179.38 L 145.26 -179.46 L 144.91 -179.55 L 144.56 -179.63 L 144.21 -179.72 L 143.86 -179.8 L 143.51 -179.89 L 143.16 -179.97 L 142.81 -180.06 L 142.46 -180.14 L 142.12 -180.23 L 141.77 -180.31 L 141.42 -180.4 L 141.07 -180.48 L 140.72 -180.59 L 140.37 -180.69 L 140.02 -180.8 L 139.67 -180.91 L 139.32 -181.01 L 138.97 -181.12 L 138.62 -181.22 L 138.27 -181.33 L 137.93 -181.44 L 137.58 -181.54 L 137.23 -181.65 L 136.88 -181.76 L 136.53 -181.86 L 136.18 -181.97 L 135.83 -182.08 L 135.48 -182.18 L 135.13 -182.29 L 134.78 -182.4 L 134.43 -182.5 L 134.08 -182.61 L 133.74 -182.71 L 133.39 -182.82 L 133.04 -182.93 L 132.69 -183.02 L 132.34 -183.06 L 131.99 -183.11 L 131.64 -183.16 L 131.29 -183.21 L 130.94 -183.25 L 130.59 -183.3 L 130.24 -183.35 L 129.89 -183.4 L 129.55 -183.44 L 129.2 -183.49 L 128.85 -183.54 L 128.5 -183.59 L 128.15 -183.63 L 127.8 -183.68 L 127.45 -183.73 L 127.1 -183.78 L 126.75 -183.82 L 126.4 -183.87 L 126.05 -183.88 L 125.7 -183.82 L 125.36 -183.77 L 125.01 -183.72 L 124.66 -183.67 L 124.31 -183.61 L 123.96 -183.56 L 123.61 -183.51 L 123.26 -183.46 L 122.91 -183.4 L 122.56 -183.35 L 122.21 -183.3 L 121.86 -183.24 L 121.51 -183.19 L 121.17 -183.14 L 120.82 -183.09 L 120.47 -183.03 L 120.12 -182.98 L 119.77 -182.93 L 119.42 -182.87 L 119.07 -182.82 L 118.72 -182.77 L 118.37 -182.72 L 118.02 -182.66 L 117.67 -182.61 L 117.32 -182.56 L 116.98 -182.5 L 116.63 -182.45 L 116.28 -182.4 L 115.93 -182.35 L 115.58 -182.29 L 115.23 -182.24 L 114.88 -182.19 L 114.53 -182.13 L 114.18 -182.08 L 113.83 -182.03 L 113.48 -181.98 L 113.13 -181.92 L 112.79 -181.87 L 112.44 -181.82 L 112.09 -181.76 L 111.74 -181.71 L 111.39 -181.66 L 111.04 -181.61 L 110.69 -181.6 L 110.34 -181.59 L 109.99 -181.59 L 109.64 -181.58 L 109.29 -181.58 L 108.94 -181.58 L 108.6 -181.57 L 108.25 -181.57 L 107.9 -181.56 L 107.55 -181.56 L 107.2 -181.56 L 106.85 -181.55 L 106.5 -181.55 L 106.15 -181.54 L 105.8 -181.54 L 105.45 -181.53 L 105.1 -181.53 L 104.75 -181.53 L 104.41 -181.52 L 104.06 -181.52 L 103.71 -181.51 L 103.36 -181.51 L 103.01 -181.51 L 102.66 -181.5 L 102.31 -181.52 L 101.96 -181.57 L 101.61 -181.61 L 101.26 -181.65 L 100.91 -181.7 L 100.56 -181.74 L 100.22 -181.78 L 99.87 -181.82 L 99.52 -181.87 L 99.17 -181.91 L 98.82 -181.95 L 98.47 -182 L 98.12 -182.04 L 97.77 -182.08 L 97.42 -182.13 L 97.07 -182.17 L 96.72 -182.21 L 96.37 -182.26 L 96.03 -182.3 L 95.68 -182.34 L 95.33 -182.38 L 94.98 -182.34 L 94.63 -182.25 L 94.28 -182.17 L 93.93 -182.08 L 93.58 -181.99 L 93.23 -181.9 L 92.88 -181.81 L 92.53 -181.72 L 92.18 -181.63 L 91.84 -181.55 L 91.49 -181.46 L 91.14 -181.37 L 90.79 -181.28 L 90.44 -181.19 L 90.09 -181.1 L 89.74 -181.01 L 89.39 -180.92 L 89.04 -180.84 L 88.69 -180.79 L 88.34 -180.78 L 87.99 -180.77 L 87.65 -180.76 L 87.3 -180.75 L 86.95 -180.74 L 86.6 -180.73 L 86.25 -180.72 L 85.9 -180.71 L 85.55 -180.7 L 85.2 -180.68 L 84.85 -180.67 L 84.5 -180.66 L 84.15 -180.65 L 83.8 -180.64 L 83.46 -180.63 L 83.11 -180.62 L 82.76 -180.61 L 82.41 -180.6 L 82.06 -180.59 L 81.71 -180.58 L 81.36 -180.56 L 81.01 -180.55 L 80.66 -180.54 L 80.31 -180.53 L 79.96 -180.52 L 79.61 -180.51 L 79.27 -180.5 L 78.92 -180.49 L 78.57 -180.48 L 78.22 -180.47 L 77.87 -180.46 L 77.52 -180.45 L 77.17 -180.43 L 76.82 -180.42 L 76.47 -180.41 L 76.12 -180.4 L 75.77 -180.39 L 75.42 -180.38 L 75.08 -180.37 L 74.73 -180.36 L 74.38 -180.35 L 74.03 -180.34 L 73.68 -180.33 L 73.33 -180.31 L 72.98 -180.3 L 72.63 -180.29 L 72.28 -180.28 L 71.93 -180.27 L 71.58 -180.26 L 71.23 -180.25 L 70.89 -180.24 L 70.54 -180.23 L 70.19 -180.22 L 69.84 -180.21 L 69.49 -180.19 L 69.14 -180.18 L 68.79 -180.17 L 68.44 -180.16 L 68.09 -180.15 L 67.74 -180.14 L 67.39 -180.13 L 67.04 -180.12 L 66.7 -180.11 L 66.35 -180.1 L 66 -180.09 L 65.65 -180.07 L 65.3 -180.06 L 64.95 -180.05 L 64.6 -180.04 L 64.25 -180.03 L 63.9 -180.02 L 63.55 -180.01 L 63.2 -180 L 62.85 -179.99 L 62.51 -179.98 L 62.16 -179.97 L 61.81 -179.96 L 61.46 -179.94 L 61.11 -179.93 L 60.76 -179.92 L 60.41 -179.91 L 60.06 -179.9 L 59.71 -179.89 L 59.36 -179.88 L 59.01 -179.87 L 58.66 -179.86 L 58.32 -179.85 L 57.97 -179.84 L 57.62 -179.82 L 57.27 -179.81 L 56.92 -179.8 L 56.57 -179.79 L 56.22 -179.78 L 55.87 -179.77 L 55.52 -179.76 L 55.17 -179.75 L 54.82 -179.74 L 54.47 -179.73 L 54.13 -179.72 L 53.78 -179.7 L 53.43 -179.69 L 53.08 -179.68 L 52.73 -179.67 L 52.38 -179.66 L 52.03 -179.65 L 51.68 -179.64 L 51.33 -179.63 L 50.98 -179.62 L 50.63 -179.61 L 50.28 -179.6 L 49.94 -179.59 L 49.59 -179.57 L 49.24 -179.56 L 48.89 -179.55 L 48.54 -179.54 L 48.19 -179.53 L 47.84 -179.52 L 47.49 -179.51 L 47.14 -179.5 L 46.79 -179.49 L 46.44 -179.48 L 46.09 -179.47 L 45.75 -179.45 L 45.4 -179.44 L 45.05 -179.43 L 44.7 -179.42 L 44.35 -179.41 L 44 -179.4 z" style="stroke: #c81016; stroke-opacity: 0.3; stroke-width: 0.8"/>
</defs>
<g clip-path="url(#p8e6889b209)">
<use href="#mccc504f95b" x="0" y="682" style="fill: #c81016; fill-opacity: 0.3; stroke: #c81016; stroke-opacity: 0.3; stroke-width: 0.8"/>
</g>
</g>
<g id="matplotlib.axis_15">
<g id="xtick_19">
<g id="line2d_71">
<g>
<use href="#m7c25c535dc" x="44" y="517.8" style="stroke: #000000; stroke-width: 0.8"/>
</g>
</g>
</g>
<g id="xtick_20">
<g id="line2d_72">
<g>
<use href="#m7c25c535dc" x="96.2" y="517.8" style="stroke: #000000; stroke-width: 0.8"/>
</g>
</g>
</g>
<g id="xtick_21">
<g id="line2d_73">
<g>
<use href="#m7c25c535dc" x="148.4" y="517.8" style="stroke: #000000; stroke-width: 0.8"/>
</g>
</g>
</g>
</g>
<g id="matplotlib.axis_16">
<g id="ytick_23">
<g id="line2d_74">
<g>
<use href="#mb258c49b38" x="44" y="502.4" style="stroke: #000000; stroke-width: 0.8"/>
</g>
</g>
<g id="text_27">
<text transform="translate(20.460 506.351) scale(1.144 1.055)" style="font-size:10.40px">0</text><text transform="translate(27.077 506.351) scale(1.144 1.055)" style="font-size:10.40px">.</text><text transform="translate(30.383 506.351) scale(1.144 1.055)" style="font-size:10.40px">0</text>
</g>
</g>
<g id="ytick_24">
<g id="line2d_75">
<g>
<use href="#mb258c49b38" x="44" y="463.4" style="stroke: #000000; stroke-width: 0.8"/>
</g>
</g>
<g id="text_28">
<text transform="translate(20.460 467.351) scale(1.144 1.055)" style="font-size:10.40px">0</text><text transform="translate(27.077 467.351) scale(1.144 1.055)" style="font-size:10.40px">.</text><text transform="translate(30.383 467.351) scale(1.144 1.055)" style="font-size:10.40px">5</text>
</g>
</g>
<g id="ytick_25">
<g id="line2d_76">
<g>
<use href="#mb258c49b38" x="44" y="424.3" style="stroke: #000000; stroke-width: 0.8"/>
</g>
</g>
<g id="text_29">
<text transform="translate(20.460 428.251) scale(1.144 1.055)" style="font-size:10.40px">1</text><text transform="translate(27.077 428.251) scale(1.144 1.055)" style="font-size:10.40px">.</text><text transform="translate(30.383 428.251) scale(1.144 1.055)" style="font-size:10.40px">0</text>
</g>
</g>
</g>
<g id="line2d_77">
<path d="M 44 501.4 L 80.66 500.37 L 89.39 499.88 L 95.33 498.42 L 103.01 499.29 L 111.04 499.03 L 126.4 493.26 L 133.04 493.64 L 141.42 496.9 L 148.4 498.5 L 148.4 498.5 
" clip-path="url(#p8e6889b209)" style="fill: none; stroke: #c81016; stroke-opacity: 0.35; stroke-width: 0.5; stroke-linecap: square"/>
</g>
<g id="line2d_78">
<path d="M 44 502.2 L 80.66 501.17 L 89.39 500.68 L 95.33 499.22 L 103.01 500.09 L 111.39 499.86 L 126.4 496.52 L 133.04 497.18 L 142.12 500.06 L 148.4 501.55 L 148.4 501.55 
" clip-path="url(#p8e6889b209)" style="fill: none; stroke: #c81016; stroke-opacity: 0.35; stroke-width: 0.5; stroke-linecap: square"/>
</g>
<g id="line2d_79">
<path d="M 44 501.8 L 75.3 501.2 L 88.9 500.4 L 95.2 498.8 L 102.5 499.7 L 111 499.5 L 126.2 494.9 L 132.8 495.2 L 141 498.1 L 148.4 499.8 
" clip-path="url(#p8e6889b209)" style="fill: none; stroke: #c81016; stroke-width: 2.1; stroke-linecap: square"/>
</g>
<g id="patch_41">
<path d="M 44 517.8 L 44 418.15 
" style="fill: none; stroke: #000000; stroke-width: 0.8; stroke-linejoin: miter; stroke-linecap: square"/>
</g>
<g id="patch_42">
<path d="M 148.4 517.8 L 148.4 418.15 
" style="fill: none; stroke: #000000; stroke-width: 0.8; stroke-linejoin: miter; stroke-linecap: square"/>
</g>
<g id="patch_43">
<path d="M 44 517.8 L 148.4 517.8 
" style="fill: none; stroke: #000000; stroke-width: 0.8; stroke-linejoin: miter; stroke-linecap: square"/>
</g>
<g id="patch_44">
<path d="M 44 418.15 L 148.4 418.15 
" style="fill: none; stroke: #000000; stroke-width: 0.8; stroke-linejoin: miter; stroke-linecap: square"/>
</g>
<g id="text_30">
<g transform="translate(34.8215 412.15)"><text transform="translate(0.000 -0.875) scale(1.141 1.055)" style="font-size:12.45px">g</text><text transform="translate(7.935 -0.875) scale(1.172 1.055)" style="font-size:12.45px">)</text><text transform="translate(12.811 -0.875) scale(1.144 1.055)" style="font-size:12.45px"> </text><text transform="translate(16.785 -0.875) scale(1.169 1.055)" style="font-size:12.45px">m</text><text transform="translate(28.961 -0.875) scale(1.106 1.055)" style="font-size:12.45px">e</text><text transform="translate(36.652 -0.875) scale(1.102 1.055)" style="font-size:12.45px">a</text><text transform="translate(44.312 -0.875) scale(1.042 1.055)" style="font-size:12.45px">s</text><text transform="translate(50.824 -0.875) scale(1.140 1.055)" style="font-size:12.45px">u</text><text transform="translate(58.746 -0.875) scale(1.235 1.055)" style="font-size:12.45px">r</text><text transform="translate(63.885 -0.875) scale(1.106 1.055)" style="font-size:12.45px">e</text><text transform="translate(71.576 -0.875) scale(1.141 1.055)" style="font-size:12.45px">d</text><text transform="translate(79.510 -0.875) scale(1.144 1.055)" style="font-size:12.45px"> </text><text transform="translate(83.484 -0.875) scale(1.140 1.055)" style="font-size:12.45px;font-style:italic">n</text><text transform="translate(91.406 1.094) scale(1.026 1.055)" style="font-size:8.71px;font-style:italic">A</text><text transform="translate(97.392 1.094) scale(1.235 1.055)" style="font-size:8.71px;font-style:italic">r</text><text transform="translate(100.989 1.094) scale(1.144 1.055)" style="font-size:8.71px">1</text><text transform="translate(106.556 1.094) scale(1.144 1.055)" style="font-size:8.71px">6</text><text transform="translate(113.828 1.094) scale(1.435 1.055)" style="font-size:8.71px">+</text></g>
</g>
</g>
<g id="axes_10">
<g id="patch_45">
<path d="M 209.9 517.8 L 314.4 517.8 L 314.4 418.15 L 209.9 418.15 z" style="fill: #ffffff"/>
</g>
<g id="FillBetweenPolyCollection_6">
<defs>
<path id="m28adafc5ab" d="M 209.5 -205.2 L 209.5 -208.6 L 209.85 -208.59 L 210.2 -208.57 L 210.55 -208.56 L 210.9 -208.54 L 211.26 -208.53 L 211.61 -208.52 L 211.96 -208.5 L 212.31 -208.49 L 212.66 -208.47 L 213.01 -208.46 L 213.36 -208.45 L 213.71 -208.43 L 214.07 -208.42 L 214.42 -208.4 L 214.77 -208.39 L 215.12 -208.38 L 215.47 -208.36 L 215.82 -208.35 L 216.17 -208.33 L 216.52 -208.32 L 216.87 -208.31 L 217.23 -208.24 L 217.58 -208.15 L 217.93 -208.05 L 218.28 -207.96 L 218.63 -207.87 L 218.98 -207.78 L 219.33 -207.68 L 219.68 -207.59 L 220.04 -207.5 L 220.39 -207.4 L 220.74 -207.31 L 221.09 -207.22 L 221.44 -207.13 L 221.79 -207.03 L 222.14 -206.94 L 222.49 -206.85 L 222.84 -206.75 L 223.2 -206.66 L 223.55 -206.57 L 223.9 -206.48 L 224.25 -206.38 L 224.6 -206.29 L 224.95 -206.2 L 225.3 -206.1 L 225.65 -206.01 L 226.01 -205.92 L 226.36 -205.83 L 226.71 -205.73 L 227.06 -205.64 L 227.41 -205.55 L 227.76 -205.45 L 228.11 -205.36 L 228.46 -205.27 L 228.81 -205.17 L 229.17 -205.08 L 229.52 -204.99 L 229.87 -204.9 L 230.22 -204.8 L 230.57 -204.71 L 230.92 -204.62 L 231.27 -204.52 L 231.62 -204.43 L 231.97 -204.34 L 232.33 -204.25 L 232.68 -204.42 L 233.03 -204.86 L 233.38 -205.3 L 233.73 -205.74 L 234.08 -206.18 L 234.43 -206.62 L 234.78 -207.06 L 235.14 -207.49 L 235.49 -207.93 L 235.84 -208.37 L 236.19 -208.81 L 236.54 -209.25 L 236.89 -209.69 L 237.24 -210.13 L 237.59 -210.57 L 237.94 -211.01 L 238.3 -211.44 L 238.65 -211.88 L 239 -212.32 L 239.35 -212.81 L 239.7 -213.61 L 240.05 -214.41 L 240.4 -215.2 L 240.75 -216 L 241.11 -216.79 L 241.46 -217.59 L 241.81 -218.39 L 242.16 -219.18 L 242.51 -219.98 L 242.86 -220.78 L 243.21 -221.57 L 243.56 -222.37 L 243.91 -223.17 L 244.27 -223.96 L 244.62 -224.76 L 244.97 -225.56 L 245.32 -226.35 L 245.67 -227.15 L 246.02 -227.95 L 246.37 -228.74 L 246.72 -229.54 L 247.08 -230.34 L 247.43 -231.13 L 247.78 -231.93 L 248.13 -232.72 L 248.48 -233.52 L 248.83 -234.32 L 249.18 -235.11 L 249.53 -235.91 L 249.88 -236.71 L 250.24 -237.5 L 250.59 -238.3 L 250.94 -239.1 L 251.29 -239.89 L 251.64 -240.69 L 251.99 -241.49 L 252.34 -242.28 L 252.69 -243.08 L 253.05 -243.88 L 253.4 -244.52 L 253.75 -245.13 L 254.1 -245.75 L 254.45 -246.37 L 254.8 -246.98 L 255.15 -247.6 L 255.5 -248.21 L 255.85 -248.83 L 256.21 -249.44 L 256.56 -250.06 L 256.91 -250.67 L 257.26 -251.29 L 257.61 -251.91 L 257.96 -252.52 L 258.31 -253.14 L 258.66 -253.75 L 259.02 -254.37 L 259.37 -254.98 L 259.72 -255.6 L 260.07 -256.21 L 260.42 -256.83 L 260.77 -257.44 L 261.12 -258.06 L 261.47 -258.68 L 261.82 -259.29 L 262.18 -259.91 L 262.53 -260.2 L 262.88 -259.93 L 263.23 -259.67 L 263.58 -259.4 L 263.93 -259.13 L 264.28 -258.86 L 264.63 -258.59 L 264.98 -258.33 L 265.34 -258.06 L 265.69 -257.79 L 266.04 -257.52 L 266.39 -257.25 L 266.74 -256.98 L 267.09 -256.72 L 267.44 -256.45 L 267.79 -256.18 L 268.15 -255.91 L 268.5 -255.64 L 268.85 -255.37 L 269.2 -255.11 L 269.55 -254.84 L 269.9 -253.76 L 270.25 -252.55 L 270.6 -251.34 L 270.95 -250.13 L 271.31 -248.92 L 271.66 -247.71 L 272.01 -246.5 L 272.36 -245.29 L 272.71 -244.09 L 273.06 -242.88 L 273.41 -241.67 L 273.76 -240.46 L 274.12 -239.25 L 274.47 -238.04 L 274.82 -236.83 L 275.17 -235.62 L 275.52 -234.41 L 275.87 -233.2 L 276.22 -231.99 L 276.57 -230.78 L 276.92 -229.57 L 277.28 -228.36 L 277.63 -227.15 L 277.98 -225.94 L 278.33 -224.73 L 278.68 -223.52 L 279.03 -222.31 L 279.38 -221.1 L 279.73 -219.89 L 280.09 -218.68 L 280.44 -217.47 L 280.79 -216.26 L 281.14 -215.06 L 281.49 -213.85 L 281.84 -212.64 L 282.19 -211.43 L 282.54 -210.22 L 282.89 -209.01 L 283.25 -207.8 L 283.6 -206.59 L 283.95 -205.38 L 284.3 -204.72 L 284.65 -204.15 L 285 -203.59 L 285.35 -203.02 L 285.7 -202.45 L 286.06 -201.89 L 286.41 -201.32 L 286.76 -200.76 L 287.11 -200.19 L 287.46 -199.62 L 287.81 -199.06 L 288.16 -198.49 L 288.51 -197.93 L 288.86 -197.36 L 289.22 -196.79 L 289.57 -196.23 L 289.92 -195.66 L 290.27 -195.1 L 290.62 -194.53 L 290.97 -193.96 L 291.32 -193.4 L 291.67 -192.83 L 292.03 -192.27 L 292.38 -191.7 L 292.73 -191.39 L 293.08 -191.22 L 293.43 -191.05 L 293.78 -190.87 L 294.13 -190.7 L 294.48 -190.53 L 294.83 -190.36 L 295.19 -190.19 L 295.54 -190.02 L 295.89 -189.85 L 296.24 -189.67 L 296.59 -189.5 L 296.94 -189.33 L 297.29 -189.16 L 297.64 -188.99 L 297.99 -188.82 L 298.35 -188.64 L 298.7 -188.47 L 299.05 -188.3 L 299.4 -188.13 L 299.75 -187.96 L 300.1 -187.79 L 300.45 -187.62 L 300.8 -187.44 L 301.16 -187.29 L 301.51 -187.21 L 301.86 -187.14 L 302.21 -187.06 L 302.56 -186.98 L 302.91 -186.91 L 303.26 -186.83 L 303.61 -186.76 L 303.96 -186.68 L 304.32 -186.6 L 304.67 -186.53 L 305.02 -186.45 L 305.37 -186.38 L 305.72 -186.3 L 306.07 -186.22 L 306.42 -186.15 L 306.77 -186.07 L 307.13 -186 L 307.48 -185.92 L 307.83 -185.84 L 308.18 -185.77 L 308.53 -185.69 L 308.88 -185.62 L 309.23 -185.54 L 309.58 -185.46 L 309.93 -185.39 L 310.29 -185.31 L 310.64 -185.24 L 310.99 -185.16 L 311.34 -185.08 L 311.69 -185.01 L 312.04 -184.93 L 312.39 -184.86 L 312.74 -184.78 L 313.1 -184.7 L 313.45 -184.63 L 313.8 -184.55 L 314.15 -184.48 L 314.5 -184.4 L 314.5 -181 L 314.5 -181 L 314.15 -181.08 L 313.8 -181.15 L 313.45 -181.23 L 313.1 -181.3 L 312.74 -181.38 L 312.39 -181.46 L 312.04 -181.53 L 311.69 -181.61 L 311.34 -181.68 L 310.99 -181.76 L 310.64 -181.84 L 310.29 -181.91 L 309.93 -181.99 L 309.58 -182.06 L 309.23 -182.14 L 308.88 -182.22 L 308.53 -182.29 L 308.18 -182.37 L 307.83 -182.44 L 307.48 -182.52 L 307.13 -182.6 L 306.77 -182.67 L 306.42 -182.75 L 306.07 -182.82 L 305.72 -182.9 L 305.37 -182.98 L 305.02 -183.05 L 304.67 -183.13 L 304.32 -183.2 L 303.96 -183.28 L 303.61 -183.36 L 303.26 -183.43 L 302.91 -183.51 L 302.56 -183.58 L 302.21 -183.66 L 301.86 -183.74 L 301.51 -183.81 L 301.16 -183.89 L 300.8 -184.04 L 300.45 -184.22 L 300.1 -184.39 L 299.75 -184.56 L 299.4 -184.73 L 299.05 -184.9 L 298.7 -185.07 L 298.35 -185.24 L 297.99 -185.42 L 297.64 -185.59 L 297.29 -185.76 L 296.94 -185.93 L 296.59 -186.1 L 296.24 -186.27 L 295.89 -186.45 L 295.54 -186.62 L 295.19 -186.79 L 294.83 -186.96 L 294.48 -187.13 L 294.13 -187.3 L 293.78 -187.47 L 293.43 -187.65 L 293.08 -187.82 L 292.73 -187.99 L 292.38 -188.3 L 292.03 -188.87 L 291.67 -189.43 L 291.32 -190 L 290.97 -190.56 L 290.62 -191.13 L 290.27 -191.7 L 289.92 -192.26 L 289.57 -192.83 L 289.22 -193.39 L 288.86 -193.96 L 288.51 -194.53 L 288.16 -195.09 L 287.81 -195.66 L 287.46 -196.22 L 287.11 -196.79 L 286.76 -197.36 L 286.41 -197.92 L 286.06 -198.49 L 285.7 -199.05 L 285.35 -199.62 L 285 -200.19 L 284.65 -200.75 L 284.3 -201.32 L 283.95 -201.98 L 283.6 -203.19 L 283.25 -204.4 L 282.89 -205.61 L 282.54 -206.82 L 282.19 -208.03 L 281.84 -209.24 L 281.49 -210.45 L 281.14 -211.66 L 280.79 -212.86 L 280.44 -214.07 L 280.09 -215.28 L 279.73 -216.49 L 279.38 -217.7 L 279.03 -218.91 L 278.68 -220.12 L 278.33 -221.33 L 277.98 -222.54 L 277.63 -223.75 L 277.28 -224.96 L 276.92 -226.17 L 276.57 -227.38 L 276.22 -228.59 L 275.87 -229.8 L 275.52 -231.01 L 275.17 -232.22 L 274.82 -233.43 L 274.47 -234.64 L 274.12 -235.85 L 273.76 -237.06 L 273.41 -238.27 L 273.06 -239.48 L 272.71 -240.69 L 272.36 -241.89 L 272.01 -243.1 L 271.66 -244.31 L 271.31 -245.52 L 270.95 -246.73 L 270.6 -247.94 L 270.25 -249.15 L 269.9 -250.36 L 269.55 -251.44 L 269.2 -251.71 L 268.85 -251.97 L 268.5 -252.24 L 268.15 -252.51 L 267.79 -252.78 L 267.44 -253.05 L 267.09 -253.32 L 266.74 -253.58 L 266.39 -253.85 L 266.04 -254.12 L 265.69 -254.39 L 265.34 -254.66 L 264.98 -254.93 L 264.63 -255.19 L 264.28 -255.46 L 263.93 -255.73 L 263.58 -256 L 263.23 -256.27 L 262.88 -256.53 L 262.53 -256.8 L 262.18 -256.51 L 261.82 -255.89 L 261.47 -255.28 L 261.12 -254.66 L 260.77 -254.04 L 260.42 -253.43 L 260.07 -252.81 L 259.72 -252.2 L 259.37 -251.58 L 259.02 -250.97 L 258.66 -250.35 L 258.31 -249.74 L 257.96 -249.12 L 257.61 -248.51 L 257.26 -247.89 L 256.91 -247.27 L 256.56 -246.66 L 256.21 -246.04 L 255.85 -245.43 L 255.5 -244.81 L 255.15 -244.2 L 254.8 -243.58 L 254.45 -242.97 L 254.1 -242.35 L 253.75 -241.73 L 253.4 -241.12 L 253.05 -240.48 L 252.69 -239.68 L 252.34 -238.88 L 251.99 -238.09 L 251.64 -237.29 L 251.29 -236.49 L 250.94 -235.7 L 250.59 -234.9 L 250.24 -234.1 L 249.88 -233.31 L 249.53 -232.51 L 249.18 -231.71 L 248.83 -230.92 L 248.48 -230.12 L 248.13 -229.32 L 247.78 -228.53 L 247.43 -227.73 L 247.08 -226.94 L 246.72 -226.14 L 246.37 -225.34 L 246.02 -224.55 L 245.67 -223.75 L 245.32 -222.95 L 244.97 -222.16 L 244.62 -221.36 L 244.27 -220.56 L 243.91 -219.77 L 243.56 -218.97 L 243.21 -218.17 L 242.86 -217.38 L 242.51 -216.58 L 242.16 -215.78 L 241.81 -214.99 L 241.46 -214.19 L 241.11 -213.39 L 240.75 -212.6 L 240.4 -211.8 L 240.05 -211.01 L 239.7 -210.21 L 239.35 -209.41 L 239 -208.92 L 238.65 -208.48 L 238.3 -208.04 L 237.94 -207.61 L 237.59 -207.17 L 237.24 -206.73 L 236.89 -206.29 L 236.54 -205.85 L 236.19 -205.41 L 235.84 -204.97 L 235.49 -204.53 L 235.14 -204.09 L 234.78 -203.66 L 234.43 -203.22 L 234.08 -202.78 L 233.73 -202.34 L 233.38 -201.9 L 233.03 -201.46 L 232.68 -201.02 L 232.33 -200.85 L 231.97 -200.94 L 231.62 -201.03 L 231.27 -201.12 L 230.92 -201.22 L 230.57 -201.31 L 230.22 -201.4 L 229.87 -201.5 L 229.52 -201.59 L 229.17 -201.68 L 228.81 -201.77 L 228.46 -201.87 L 228.11 -201.96 L 227.76 -202.05 L 227.41 -202.15 L 227.06 -202.24 L 226.71 -202.33 L 226.36 -202.43 L 226.01 -202.52 L 225.65 -202.61 L 225.3 -202.7 L 224.95 -202.8 L 224.6 -202.89 L 224.25 -202.98 L 223.9 -203.08 L 223.55 -203.17 L 223.2 -203.26 L 222.84 -203.35 L 222.49 -203.45 L 222.14 -203.54 L 221.79 -203.63 L 221.44 -203.73 L 221.09 -203.82 L 220.74 -203.91 L 220.39 -204 L 220.04 -204.1 L 219.68 -204.19 L 219.33 -204.28 L 218.98 -204.38 L 218.63 -204.47 L 218.28 -204.56 L 217.93 -204.65 L 217.58 -204.75 L 217.23 -204.84 L 216.87 -204.91 L 216.52 -204.92 L 216.17 -204.93 L 215.82 -204.95 L 215.47 -204.96 L 215.12 -204.98 L 214.77 -204.99 L 214.42 -205 L 214.07 -205.02 L 213.71 -205.03 L 213.36 -205.05 L 213.01 -205.06 L 212.66 -205.07 L 212.31 -205.09 L 211.96 -205.1 L 211.61 -205.12 L 211.26 -205.13 L 210.9 -205.14 L 210.55 -205.16 L 210.2 -205.17 L 209.85 -205.19 L 209.5 -205.2 z" style="stroke: #c81016; stroke-opacity: 0.45"/>
</defs>
<g clip-path="url(#p54e2a4d58f)">
<use href="#m28adafc5ab" x="0" y="682" style="fill: #c81016; fill-opacity: 0.45; stroke: #c81016; stroke-opacity: 0.45"/>
</g>
</g>
<g id="matplotlib.axis_17">
<g id="xtick_22">
<g id="line2d_80">
<g>
<use href="#m7c25c535dc" x="209.9" y="517.8" style="stroke: #000000; stroke-width: 0.8"/>
</g>
</g>
</g>
<g id="xtick_23">
<g id="line2d_81">
<g>
<use href="#m7c25c535dc" x="262.15" y="517.8" style="stroke: #000000; stroke-width: 0.8"/>
</g>
</g>
</g>
<g id="xtick_24">
<g id="line2d_82">
<g>
<use href="#m7c25c535dc" x="314.4" y="517.8" style="stroke: #000000; stroke-width: 0.8"/>
</g>
</g>
</g>
</g>
<g id="matplotlib.axis_18">
<g id="ytick_26">
<g id="line2d_83">
<g>
<use href="#mb258c49b38" x="209.9" y="502.4" style="stroke: #000000; stroke-width: 0.8"/>
</g>
</g>
<g id="text_31">
<text transform="translate(186.360 506.351) scale(1.144 1.055)" style="font-size:10.40px">0</text><text transform="translate(192.977 506.351) scale(1.144 1.055)" style="font-size:10.40px">.</text><text transform="translate(196.283 506.351) scale(1.144 1.055)" style="font-size:10.40px">0</text>
</g>
</g>
<g id="ytick_27">
<g id="line2d_84">
<g>
<use href="#mb258c49b38" x="209.9" y="463.4" style="stroke: #000000; stroke-width: 0.8"/>
</g>
</g>
<g id="text_32">
<text transform="translate(186.360 467.351) scale(1.144 1.055)" style="font-size:10.40px">0</text><text transform="translate(192.977 467.351) scale(1.144 1.055)" style="font-size:10.40px">.</text><text transform="translate(196.283 467.351) scale(1.144 1.055)" style="font-size:10.40px">5</text>
</g>
</g>
<g id="ytick_28">
<g id="line2d_85">
<g>
<use href="#mb258c49b38" x="209.9" y="424.3" style="stroke: #000000; stroke-width: 0.8"/>
</g>
</g>
<g id="text_33">
<text transform="translate(186.360 428.251) scale(1.144 1.055)" style="font-size:10.40px">1</text><text transform="translate(192.977 428.251) scale(1.144 1.055)" style="font-size:10.40px">.</text><text transform="translate(196.283 428.251) scale(1.144 1.055)" style="font-size:10.40px">0</text>
</g>
</g>
</g>
<g id="line2d_86">
<path d="M 209.5 475.1 L 217 475.4 L 232.5 479.5 L 239.3 471 L 253.1 439.7 L 262.4 423.4 L 269.6 428.9 L 284 478.5 L 292.5 492.2 L 301.1 496.4 L 314.5 499.3 
" clip-path="url(#p54e2a4d58f)" style="fill: none; stroke: #3545a0; stroke-width: 2.3; stroke-linecap: square"/>
</g>
<g id="patch_46">
<path d="M 209.9 517.8 L 209.9 418.15 
" style="fill: none; stroke: #000000; stroke-width: 0.8; stroke-linejoin: miter; stroke-linecap: square"/>
</g>
<g id="patch_47">
<path d="M 314.4 517.8 L 314.4 418.15 
" style="fill: none; stroke: #000000; stroke-width: 0.8; stroke-linejoin: miter; stroke-linecap: square"/>
</g>
<g id="patch_48">
<path d="M 209.9 517.8 L 314.4 517.8 
" style="fill: none; stroke: #000000; stroke-width: 0.8; stroke-linejoin: miter; stroke-linecap: square"/>
</g>
<g id="patch_49">
<path d="M 209.9 418.15 L 314.4 418.15 
" style="fill: none; stroke: #000000; stroke-width: 0.8; stroke-linejoin: miter; stroke-linecap: square"/>
</g>
<g id="text_34">
<g transform="translate(200.7715 412.15)"><text transform="translate(0.000 -0.875) scale(1.140 1.055)" style="font-size:12.45px">h</text><text transform="translate(7.922 -0.875) scale(1.172 1.055)" style="font-size:12.45px">)</text><text transform="translate(12.799 -0.875) scale(1.144 1.055)" style="font-size:12.45px"> </text><text transform="translate(16.772 -0.875) scale(1.169 1.055)" style="font-size:12.45px">m</text><text transform="translate(28.949 -0.875) scale(1.106 1.055)" style="font-size:12.45px">e</text><text transform="translate(36.639 -0.875) scale(1.102 1.055)" style="font-size:12.45px">a</text><text transform="translate(44.299 -0.875) scale(1.042 1.055)" style="font-size:12.45px">s</text><text transform="translate(50.812 -0.875) scale(1.140 1.055)" style="font-size:12.45px">u</text><text transform="translate(58.734 -0.875) scale(1.235 1.055)" style="font-size:12.45px">r</text><text transform="translate(63.873 -0.875) scale(1.106 1.055)" style="font-size:12.45px">e</text><text transform="translate(71.564 -0.875) scale(1.141 1.055)" style="font-size:12.45px">d</text><text transform="translate(79.498 -0.875) scale(1.144 1.055)" style="font-size:12.45px"> </text><text transform="translate(83.472 -0.875) scale(1.140 1.055)" style="font-size:12.45px;font-style:italic">n</text><text transform="translate(91.394 1.094) scale(1.026 1.055)" style="font-size:8.71px;font-style:italic">A</text><text transform="translate(97.380 1.094) scale(1.235 1.055)" style="font-size:8.71px;font-style:italic">r</text><text transform="translate(100.977 1.094) scale(1.144 1.055)" style="font-size:8.71px">1</text><text transform="translate(106.544 1.094) scale(1.144 1.055)" style="font-size:8.71px">6</text><text transform="translate(113.816 1.094) scale(1.435 1.055)" style="font-size:8.71px">+</text></g>
</g>
</g>
<g id="axes_11">
<g id="patch_50">
<path d="M 44 651.6 L 148.4 651.6 L 148.4 551.95 L 44 551.95 z" style="fill: #ffffff"/>
</g>
<g id="FillBetweenPolyCollection_7">
<defs>
<path id="mdf7867afb5" d="M 44.3 -71 L 44.3 -72 L 44.6 -73.26 L 44.9 -74.49 L 45.2 -75.69 L 45.5 -76.88 L 45.8 -78.06 L 46.1 -79.23 L 46.4 -80.37 L 46.7 -81.48 L 47 -82.57 L 47.3 -83.58 L 47.6 -84.56 L 47.9 -85.48 L 48.2 -86.31 L 48.5 -87.09 L 48.8 -87.81 L 49.1 -88.5 L 49.4 -89.17 L 49.7 -89.82 L 50 -90.43 L 50.3 -91.03 L 50.6 -91.61 L 50.9 -92.15 L 51.2 -92.67 L 51.5 -93.17 L 51.8 -93.64 L 52.1 -94.1 L 52.4 -94.52 L 52.7 -94.92 L 53 -95.3 L 53.3 -95.66 L 53.6 -96 L 53.9 -96.34 L 54.2 -96.67 L 54.5 -96.99 L 54.8 -97.3 L 55.1 -97.6 L 55.4 -97.88 L 55.7 -98.16 L 56 -98.43 L 56.3 -98.69 L 56.6 -98.94 L 56.9 -99.18 L 57.2 -99.41 L 57.5 -99.62 L 57.8 -99.83 L 58.1 -100.03 L 58.4 -100.21 L 58.7 -100.39 L 59 -100.55 L 59.3 -100.72 L 59.6 -100.89 L 59.9 -101.05 L 60.2 -101.22 L 60.5 -101.38 L 60.8 -101.53 L 61.1 -101.68 L 61.4 -101.81 L 61.7 -101.94 L 62 -102.05 L 62.3 -102.14 L 62.6 -102.21 L 62.9 -102.26 L 63.2 -102.29 L 63.5 -102.3 L 63.8 -102.29 L 64.1 -102.28 L 64.4 -102.26 L 64.7 -102.23 L 65 -102.19 L 65.3 -102.16 L 65.6 -102.11 L 65.9 -102.07 L 66.2 -102.02 L 66.5 -101.96 L 66.8 -101.91 L 67.1 -101.85 L 67.4 -101.8 L 67.7 -101.74 L 68 -101.68 L 68.3 -101.61 L 68.6 -101.52 L 68.9 -101.42 L 69.2 -101.31 L 69.5 -101.19 L 69.8 -101.07 L 70.1 -100.94 L 70.4 -100.82 L 70.7 -100.7 L 71 -100.58 L 71.3 -100.48 L 71.6 -100.38 L 71.9 -100.3 L 72.2 -100.24 L 72.5 -100.19 L 72.8 -100.15 L 73.1 -100.11 L 73.4 -100.08 L 73.7 -100.06 L 74 -100.03 L 74.3 -100.01 L 74.6 -99.99 L 74.9 -99.97 L 75.2 -99.95 L 75.5 -99.92 L 75.8 -99.9 L 76.1 -99.87 L 76.4 -99.84 L 76.7 -99.81 L 77 -99.78 L 77.3 -99.74 L 77.6 -99.71 L 77.9 -99.67 L 78.2 -99.63 L 78.5 -99.59 L 78.8 -99.55 L 79.1 -99.51 L 79.4 -99.46 L 79.7 -99.4 L 80 -99.34 L 80.3 -99.28 L 80.6 -99.2 L 80.9 -99.12 L 81.2 -99.02 L 81.5 -98.91 L 81.8 -98.7 L 82.1 -98.43 L 82.4 -98.11 L 82.7 -97.72 L 83 -97.3 L 83.3 -96.85 L 83.6 -96.38 L 83.9 -95.92 L 84.2 -95.45 L 84.5 -94.99 L 84.8 -94.5 L 85.1 -93.99 L 85.4 -93.44 L 85.7 -92.88 L 86 -92.3 L 86.3 -91.69 L 86.6 -91.08 L 86.9 -90.45 L 87.2 -89.82 L 87.5 -89.17 L 87.8 -88.53 L 88.1 -87.89 L 88.4 -87.25 L 88.7 -86.61 L 89 -85.96 L 89.3 -85.29 L 89.6 -84.59 L 89.9 -83.85 L 90.2 -83.11 L 90.5 -82.35 L 90.8 -81.6 L 91.1 -80.85 L 91.4 -80.12 L 91.7 -79.42 L 92 -78.75 L 92.3 -78.11 L 92.6 -77.54 L 92.9 -77.01 L 93.2 -76.55 L 93.5 -76.14 L 93.8 -75.76 L 94.1 -75.39 L 94.4 -75.05 L 94.7 -74.71 L 95 -74.39 L 95.3 -74.08 L 95.6 -73.78 L 95.9 -73.5 L 96.2 -73.23 L 96.5 -72.96 L 96.8 -72.71 L 97.1 -72.47 L 97.4 -72.23 L 97.7 -72.01 L 98 -71.79 L 98.3 -71.58 L 98.6 -71.37 L 98.9 -71.17 L 99.2 -70.97 L 99.5 -70.78 L 99.8 -70.59 L 100.1 -70.41 L 100.4 -70.23 L 100.7 -70.06 L 101 -69.89 L 101.3 -69.73 L 101.6 -69.57 L 101.9 -69.42 L 102.2 -69.27 L 102.5 -69.12 L 102.8 -68.98 L 103.1 -68.84 L 103.4 -68.71 L 103.7 -68.58 L 104 -68.46 L 104.3 -68.33 L 104.6 -68.21 L 104.9 -68.1 L 105.2 -67.99 L 105.5 -67.88 L 105.8 -67.78 L 106.1 -67.67 L 106.4 -67.57 L 106.7 -67.48 L 107 -67.38 L 107.3 -67.29 L 107.6 -67.2 L 107.9 -67.11 L 108.2 -67.02 L 108.5 -66.94 L 108.8 -66.85 L 109.1 -66.77 L 109.4 -66.69 L 109.7 -66.61 L 110 -66.53 L 110.3 -66.45 L 110.6 -66.37 L 110.9 -66.29 L 111.2 -66.21 L 111.5 -66.14 L 111.8 -66.06 L 112.1 -65.98 L 112.4 -65.9 L 112.7 -65.82 L 113 -65.73 L 113.3 -65.64 L 113.6 -65.55 L 113.9 -65.46 L 114.2 -65.36 L 114.5 -65.27 L 114.8 -65.17 L 115.1 -65.08 L 115.4 -64.98 L 115.7 -64.89 L 116 -64.8 L 116.3 -64.71 L 116.6 -64.63 L 116.9 -64.54 L 117.2 -64.47 L 117.5 -64.4 L 117.8 -64.33 L 118.1 -64.28 L 118.4 -64.23 L 118.7 -64.18 L 119 -64.15 L 119.3 -64.12 L 119.6 -64.11 L 119.9 -64.1 L 120.2 -64.1 L 120.5 -64.1 L 120.8 -64.11 L 121.1 -64.11 L 121.4 -64.12 L 121.7 -64.13 L 122 -64.14 L 122.3 -64.15 L 122.6 -64.17 L 122.9 -64.18 L 123.2 -64.2 L 123.5 -64.22 L 123.8 -64.23 L 124.1 -64.26 L 124.4 -64.28 L 124.7 -64.3 L 125 -64.33 L 125.3 -64.35 L 125.6 -64.38 L 125.9 -64.41 L 126.2 -64.47 L 126.5 -64.55 L 126.8 -64.66 L 127.1 -64.8 L 127.4 -64.95 L 127.7 -65.12 L 128 -65.33 L 128.3 -65.54 L 128.6 -65.77 L 128.9 -66.02 L 129.2 -66.28 L 129.5 -66.54 L 129.8 -66.82 L 130.1 -67.11 L 130.4 -67.4 L 130.7 -67.76 L 131 -68.17 L 131.3 -68.62 L 131.6 -69.13 L 131.9 -69.68 L 132.2 -70.26 L 132.5 -70.87 L 132.8 -71.51 L 133.1 -72.16 L 133.4 -72.85 L 133.7 -73.6 L 134 -74.42 L 134 -70.53 L 134 -70.53 L 133.7 -69.4 L 133.4 -68.43 L 133.1 -67.57 L 132.8 -66.8 L 132.5 -66.07 L 132.2 -65.38 L 131.9 -64.74 L 131.6 -64.15 L 131.3 -63.59 L 131 -63.09 L 130.7 -62.64 L 130.4 -62.22 L 130.1 -61.86 L 129.8 -61.51 L 129.5 -61.17 L 129.2 -60.84 L 128.9 -60.53 L 128.6 -60.22 L 128.3 -59.94 L 128 -59.67 L 127.7 -59.42 L 127.4 -59.2 L 127.1 -58.99 L 126.8 -58.81 L 126.5 -58.66 L 126.2 -58.53 L 125.9 -58.43 L 125.6 -58.35 L 125.3 -58.28 L 125 -58.22 L 124.7 -58.15 L 124.4 -58.09 L 124.1 -58.03 L 123.8 -57.98 L 123.5 -57.92 L 123.2 -57.88 L 122.9 -57.83 L 122.6 -57.79 L 122.3 -57.75 L 122 -57.72 L 121.7 -57.69 L 121.4 -57.66 L 121.1 -57.64 L 120.8 -57.62 L 120.5 -57.61 L 120.2 -57.6 L 119.9 -57.6 L 119.6 -57.61 L 119.3 -57.63 L 119 -57.66 L 118.7 -57.7 L 118.4 -57.76 L 118.1 -57.82 L 117.8 -57.89 L 117.5 -57.98 L 117.2 -58.06 L 116.9 -58.16 L 116.6 -58.26 L 116.3 -58.37 L 116 -58.48 L 115.7 -58.6 L 115.4 -58.72 L 115.1 -58.84 L 114.8 -58.96 L 114.5 -59.08 L 114.2 -59.21 L 113.9 -59.33 L 113.6 -59.45 L 113.3 -59.57 L 113 -59.68 L 112.7 -59.79 L 112.4 -59.9 L 112.1 -60 L 111.8 -60.11 L 111.5 -60.21 L 111.2 -60.32 L 110.9 -60.43 L 110.6 -60.53 L 110.3 -60.64 L 110 -60.75 L 109.7 -60.86 L 109.4 -60.98 L 109.1 -61.09 L 108.8 -61.21 L 108.5 -61.32 L 108.2 -61.44 L 107.9 -61.56 L 107.6 -61.69 L 107.3 -61.81 L 107 -61.94 L 106.7 -62.07 L 106.4 -62.2 L 106.1 -62.33 L 105.8 -62.47 L 105.5 -62.61 L 105.2 -62.75 L 104.9 -62.9 L 104.6 -63.05 L 104.3 -63.21 L 104 -63.37 L 103.7 -63.53 L 103.4 -63.7 L 103.1 -63.87 L 102.8 -64.05 L 102.5 -64.23 L 102.2 -64.41 L 101.9 -64.6 L 101.6 -64.8 L 101.3 -64.99 L 101 -65.19 L 100.7 -65.39 L 100.4 -65.6 L 100.1 -65.81 L 99.8 -66.02 L 99.5 -66.24 L 99.2 -66.45 L 98.9 -66.67 L 98.6 -66.9 L 98.3 -67.12 L 98 -67.35 L 97.7 -67.58 L 97.4 -67.82 L 97.1 -68.06 L 96.8 -68.31 L 96.5 -68.57 L 96.2 -68.83 L 95.9 -69.09 L 95.6 -69.37 L 95.3 -69.66 L 95 -69.95 L 94.7 -70.25 L 94.4 -70.57 L 94.1 -70.89 L 93.8 -71.23 L 93.5 -71.59 L 93.2 -71.97 L 92.9 -72.37 L 92.6 -72.79 L 92.3 -73.22 L 92 -73.67 L 91.7 -74.13 L 91.4 -74.59 L 91.1 -75.08 L 90.8 -75.56 L 90.5 -76.06 L 90.2 -76.56 L 89.9 -77.06 L 89.6 -77.56 L 89.3 -78.06 L 89 -78.57 L 88.7 -79.07 L 88.4 -79.59 L 88.1 -80.12 L 87.8 -80.67 L 87.5 -81.24 L 87.2 -81.81 L 86.9 -82.39 L 86.6 -82.97 L 86.3 -83.55 L 86 -84.12 L 85.7 -84.68 L 85.4 -85.24 L 85.1 -85.78 L 84.8 -86.29 L 84.5 -86.78 L 84.2 -87.25 L 83.9 -87.74 L 83.6 -88.23 L 83.3 -88.73 L 83 -89.23 L 82.7 -89.72 L 82.4 -90.21 L 82.1 -90.68 L 81.8 -91.13 L 81.5 -91.55 L 81.2 -91.93 L 80.9 -92.27 L 80.6 -92.58 L 80.3 -92.81 L 80 -93 L 79.7 -93.13 L 79.4 -93.24 L 79.1 -93.34 L 78.8 -93.44 L 78.5 -93.54 L 78.2 -93.63 L 77.9 -93.71 L 77.6 -93.79 L 77.3 -93.87 L 77 -93.94 L 76.7 -94 L 76.4 -94.06 L 76.1 -94.11 L 75.8 -94.16 L 75.5 -94.2 L 75.2 -94.23 L 74.9 -94.26 L 74.6 -94.28 L 74.3 -94.29 L 74 -94.3 L 73.7 -94.3 L 73.4 -94.29 L 73.1 -94.29 L 72.8 -94.28 L 72.5 -94.26 L 72.2 -94.25 L 71.9 -94.23 L 71.6 -94.21 L 71.3 -94.19 L 71 -94.16 L 70.7 -94.13 L 70.4 -94.1 L 70.1 -94.07 L 69.8 -94.04 L 69.5 -94 L 69.2 -93.97 L 68.9 -93.93 L 68.6 -93.89 L 68.3 -93.85 L 68 -93.81 L 67.7 -93.77 L 67.4 -93.72 L 67.1 -93.65 L 66.8 -93.58 L 66.5 -93.51 L 66.2 -93.42 L 65.9 -93.33 L 65.6 -93.23 L 65.3 -93.12 L 65 -93.01 L 64.7 -92.89 L 64.4 -92.76 L 64.1 -92.63 L 63.8 -92.5 L 63.5 -92.37 L 63.2 -92.23 L 62.9 -92.09 L 62.6 -91.94 L 62.3 -91.8 L 62 -91.65 L 61.7 -91.5 L 61.4 -91.34 L 61.1 -91.17 L 60.8 -90.99 L 60.5 -90.8 L 60.2 -90.6 L 59.9 -90.4 L 59.6 -90.18 L 59.3 -89.96 L 59 -89.73 L 58.7 -89.5 L 58.4 -89.26 L 58.1 -89.02 L 57.8 -88.77 L 57.5 -88.51 L 57.2 -88.25 L 56.9 -87.99 L 56.6 -87.73 L 56.3 -87.46 L 56 -87.19 L 55.7 -86.92 L 55.4 -86.63 L 55.1 -86.35 L 54.8 -86.05 L 54.5 -85.74 L 54.2 -85.43 L 53.9 -85.11 L 53.6 -84.78 L 53.3 -84.45 L 53 -84.11 L 52.7 -83.76 L 52.4 -83.41 L 52.1 -83.05 L 51.8 -82.69 L 51.5 -82.32 L 51.2 -81.94 L 50.9 -81.56 L 50.6 -81.18 L 50.3 -80.79 L 50 -80.4 L 49.7 -80.01 L 49.4 -79.62 L 49.1 -79.24 L 48.8 -78.86 L 48.5 -78.47 L 48.2 -78.08 L 47.9 -77.68 L 47.6 -77.27 L 47.3 -76.84 L 47 -76.41 L 46.7 -75.94 L 46.4 -75.46 L 46.1 -74.96 L 45.8 -74.42 L 45.5 -73.86 L 45.2 -73.27 L 44.9 -72.63 L 44.6 -71.87 L 44.3 -71 z" style="stroke: #c81016; stroke-opacity: 0.3; stroke-width: 0.8"/>
</defs>
<g clip-path="url(#p141dc9e868)">
<use href="#mdf7867afb5" x="0" y="682" style="fill: #c81016; fill-opacity: 0.3; stroke: #c81016; stroke-opacity: 0.3; stroke-width: 0.8"/>
</g>
</g>
<g id="matplotlib.axis_19">
<g id="xtick_25">
<g id="line2d_87">
<g>
<use href="#m7c25c535dc" x="44" y="651.6" style="stroke: #000000; stroke-width: 0.8"/>
</g>
</g>
<g id="text_35">
<text transform="translate(35.730 666.502) scale(1.144 1.055)" style="font-size:10.40px">0</text><text transform="translate(42.347 666.502) scale(1.144 1.055)" style="font-size:10.40px">.</text><text transform="translate(45.653 666.502) scale(1.144 1.055)" style="font-size:10.40px">0</text>
</g>
</g>
<g id="xtick_26">
<g id="line2d_88">
<g>
<use href="#m7c25c535dc" x="96.2" y="651.6" style="stroke: #000000; stroke-width: 0.8"/>
</g>
</g>
<g id="text_36">
<text transform="translate(87.930 666.502) scale(1.144 1.055)" style="font-size:10.40px">0</text><text transform="translate(94.547 666.502) scale(1.144 1.055)" style="font-size:10.40px">.</text><text transform="translate(97.853 666.502) scale(1.144 1.055)" style="font-size:10.40px">5</text>
</g>
</g>
<g id="xtick_27">
<g id="line2d_89">
<g>
<use href="#m7c25c535dc" x="148.4" y="651.6" style="stroke: #000000; stroke-width: 0.8"/>
</g>
</g>
<g id="text_37">
<text transform="translate(140.130 666.502) scale(1.144 1.055)" style="font-size:10.40px">1</text><text transform="translate(146.747 666.502) scale(1.144 1.055)" style="font-size:10.40px">.</text><text transform="translate(150.053 666.502) scale(1.144 1.055)" style="font-size:10.40px">0</text>
</g>
</g>
<g id="text_38">
<g transform="translate(92.872 680.5465)"><text transform="translate(0.000 -0.406) scale(1.108 1.055)" style="font-size:10.40px;font-style:italic">ρ</text></g>
</g>
</g>
<g id="matplotlib.axis_20">
<g id="ytick_29">
<g id="line2d_90">
<g>
<use href="#mb258c49b38" x="44" y="645.6" style="stroke: #000000; stroke-width: 0.8"/>
</g>
</g>
<g id="text_39">
<text transform="translate(15.052 649.551) scale(1.435 1.055)" style="font-size:10.40px">−</text><text transform="translate(23.766 649.551) scale(1.144 1.055)" style="font-size:10.40px">2</text><text transform="translate(30.383 649.551) scale(1.144 1.055)" style="font-size:10.40px">0</text>
</g>
</g>
<g id="ytick_30">
<g id="line2d_91">
<g>
<use href="#mb258c49b38" x="44" y="612" style="stroke: #000000; stroke-width: 0.8"/>
</g>
</g>
<g id="text_40">
<text transform="translate(30.383 615.951) scale(1.144 1.055)" style="font-size:10.40px">0</text>
</g>
</g>
<g id="ytick_31">
<g id="line2d_92">
<g>
<use href="#mb258c49b38" x="44" y="578.2" style="stroke: #000000; stroke-width: 0.8"/>
</g>
</g>
<g id="text_41">
<text transform="translate(23.766 582.151) scale(1.144 1.055)" style="font-size:10.40px">2</text><text transform="translate(30.383 582.151) scale(1.144 1.055)" style="font-size:10.40px">0</text>
</g>
</g>
</g>
<g id="line2d_93">
<path d="M 44 612 L 148.4 612 
" clip-path="url(#p141dc9e868)" style="fill: none; stroke: #000000; stroke-width: 2; stroke-linecap: square"/>
</g>
<g id="line2d_94">
<path d="M 44.3 610.25 L 45.8 604.9 L 47.3 600.19 L 48.5 597.16 L 50 594.17 L 51.5 591.69 L 53 589.7 L 55.1 587.42 L 56.9 585.79 L 58.4 584.74 L 60.5 583.61 L 62.3 582.86 L 63.5 582.59 L 65 582.5 L 68 582.58 L 69.5 582.77 L 74 583.48 L 77.3 584 L 79.1 584.48 L 80.6 585.1 L 81.5 585.7 L 82.4 586.73 L 83.9 589.06 L 85.7 592.13 L 88.7 598.06 L 90.5 601.78 L 92.3 605.38 L 93.2 606.76 L 94.7 608.5 L 96.5 610.2 L 98.3 611.58 L 100.4 612.89 L 102.8 614.11 L 105.8 615.34 L 109.1 616.45 L 118.1 619.07 L 119.6 619.24 L 122.3 619.19 L 125.9 618.89 L 126.8 618.62 L 128 617.91 L 129.2 616.9 L 130.4 615.69 L 131.3 614.32 L 132.5 611.76 L 133.4 609.33 L 134 607.39 L 134 607.39 
" clip-path="url(#p141dc9e868)" style="fill: none; stroke: #c81016; stroke-opacity: 0.35; stroke-width: 0.5; stroke-linecap: square"/>
</g>
<g id="line2d_95">
<path d="M 44.3 610.75 L 45.2 608.16 L 46.7 604.75 L 47.9 602.46 L 49.7 599.63 L 51.8 596.74 L 53.6 594.62 L 55.7 592.46 L 57.8 590.65 L 59.6 589.43 L 61.7 588.3 L 63.8 587.45 L 65.6 586.94 L 67.7 586.55 L 70.7 586.28 L 72.8 586.27 L 74.9 586.46 L 77 586.86 L 78.5 587.32 L 80 588 L 80.9 588.69 L 81.8 589.78 L 83.3 592.16 L 86.3 597.36 L 89 602.34 L 92.3 607.83 L 93.5 609.42 L 95 611.03 L 96.8 612.65 L 98.9 614.23 L 101.3 615.75 L 104 617.18 L 107 618.49 L 110.6 619.81 L 118.4 622.36 L 119.9 622.5 L 122.3 622.39 L 125 622.04 L 126.5 621.68 L 127.4 621.19 L 128.3 620.49 L 129.5 619.3 L 130.7 617.85 L 131.6 616.23 L 132.5 614.16 L 133.4 611.54 L 134 609.34 L 134 609.34 
" clip-path="url(#p141dc9e868)" style="fill: none; stroke: #c81016; stroke-opacity: 0.35; stroke-width: 0.5; stroke-linecap: square"/>
</g>
<g id="line2d_96">
<path d="M 44.3 610.5 L 45.2 607.58 L 47 602.67 L 48.36 599.68 L 49.71 597.25 L 51.06 595.17 L 52.86 592.85 L 55.12 590.41 L 56.92 588.74 L 58.27 587.76 L 60.08 586.81 L 62.33 585.85 L 64.13 585.33 L 66.39 585.01 L 69.54 584.73 L 71.8 584.73 L 74.05 585.01 L 76.75 585.59 L 78.11 586.02 L 79.46 586.67 L 80.81 587.57 L 81.71 588.56 L 83.06 590.64 L 86.22 596.11 L 89.38 601.9 L 92.08 606.55 L 93.43 608.35 L 95.24 610.24 L 97.04 611.81 L 98.84 613.1 L 101.09 614.39 L 103.8 615.64 L 107.86 617.23 L 111.91 618.56 L 115.97 619.87 L 118.22 620.44 L 119.58 620.59 L 122.28 620.53 L 125.44 620.25 L 126.34 620.08 L 127.24 619.68 L 128.14 619.05 L 129.49 617.79 L 130.39 616.79 L 131.3 615.27 L 132.2 613.18 L 133.1 610.59 L 134 607.2 L 134 607.2 
" clip-path="url(#p141dc9e868)" style="fill: none; stroke: #c81016; stroke-width: 2.1; stroke-linecap: square"/>
</g>
<g id="patch_51">
<path d="M 44 651.6 L 44 551.95 
" style="fill: none; stroke: #000000; stroke-width: 0.8; stroke-linejoin: miter; stroke-linecap: square"/>
</g>
<g id="patch_52">
<path d="M 148.4 651.6 L 148.4 551.95 
" style="fill: none; stroke: #000000; stroke-width: 0.8; stroke-linejoin: miter; stroke-linecap: square"/>
</g>
<g id="patch_53">
<path d="M 44 651.6 L 148.4 651.6 
" style="fill: none; stroke: #000000; stroke-width: 0.8; stroke-linejoin: miter; stroke-linecap: square"/>
</g>
<g id="patch_54">
<path d="M 44 551.95 L 148.4 551.95 
" style="fill: none; stroke: #000000; stroke-width: 0.8; stroke-linejoin: miter; stroke-linecap: square"/>
</g>
<g id="text_42">
<g transform="translate(50.94425 545.95)"><text transform="translate(0.000 -0.875) scale(1.251 1.055)" style="font-size:12.45px">i</text><text transform="translate(3.473 -0.875) scale(1.172 1.055)" style="font-size:12.45px">)</text><text transform="translate(8.350 -0.875) scale(1.144 1.055)" style="font-size:12.45px"> </text><text transform="translate(12.323 -0.875) scale(1.169 1.055)" style="font-size:12.45px">m</text><text transform="translate(24.500 -0.875) scale(1.106 1.055)" style="font-size:12.45px">e</text><text transform="translate(32.190 -0.875) scale(1.102 1.055)" style="font-size:12.45px">a</text><text transform="translate(39.850 -0.875) scale(1.042 1.055)" style="font-size:12.45px">s</text><text transform="translate(46.362 -0.875) scale(1.140 1.055)" style="font-size:12.45px">u</text><text transform="translate(54.285 -0.875) scale(1.235 1.055)" style="font-size:12.45px">r</text><text transform="translate(59.424 -0.875) scale(1.106 1.055)" style="font-size:12.45px">e</text><text transform="translate(67.114 -0.875) scale(1.141 1.055)" style="font-size:12.45px">d</text><text transform="translate(75.049 -0.875) scale(1.144 1.055)" style="font-size:12.45px"> </text><text transform="translate(79.022 -0.875) scale(0.947 1.055)" style="font-size:12.45px;font-style:italic">E</text><text transform="translate(86.920 1.094) scale(1.235 1.055)" style="font-size:8.71px;font-style:italic">r</text></g>
</g>
</g>
<g id="axes_12">
<g id="patch_55">
<path d="M 209.9 651.6 L 314.4 651.6 L 314.4 551.95 L 209.9 551.95 z" style="fill: #ffffff"/>
</g>
<g id="FillBetweenPolyCollection_8">
<defs>
<path id="m509570f18c" d="M 209.9 -68.6 L 209.9 -71.4 L 210.2 -71.25 L 210.51 -71.11 L 210.81 -70.96 L 211.11 -70.82 L 211.41 -70.67 L 211.72 -70.53 L 212.02 -70.38 L 212.32 -70.24 L 212.62 -70.09 L 212.93 -69.95 L 213.23 -69.8 L 213.53 -69.66 L 213.83 -69.51 L 214.14 -69.37 L 214.44 -69.22 L 214.74 -69.08 L 215.05 -68.93 L 215.35 -68.79 L 215.65 -68.64 L 215.95 -68.5 L 216.26 -68.35 L 216.56 -68.21 L 216.86 -68.06 L 217.16 -67.92 L 217.47 -67.82 L 217.77 -67.72 L 218.07 -67.62 L 218.37 -67.53 L 218.68 -67.43 L 218.98 -67.34 L 219.28 -67.24 L 219.59 -67.14 L 219.89 -67.05 L 220.19 -66.95 L 220.49 -66.86 L 220.8 -66.76 L 221.1 -66.66 L 221.4 -66.57 L 221.7 -66.47 L 222.01 -66.38 L 222.31 -66.28 L 222.61 -66.18 L 222.92 -66.09 L 223.22 -65.99 L 223.52 -65.9 L 223.82 -65.8 L 224.13 -65.7 L 224.43 -65.61 L 224.73 -65.51 L 225.03 -65.42 L 225.34 -65.32 L 225.64 -65.27 L 225.94 -65.24 L 226.24 -65.21 L 226.55 -65.17 L 226.85 -65.14 L 227.15 -65.11 L 227.46 -65.07 L 227.76 -65.04 L 228.06 -65.01 L 228.36 -64.97 L 228.67 -64.94 L 228.97 -64.91 L 229.27 -64.88 L 229.57 -64.84 L 229.88 -64.81 L 230.18 -64.78 L 230.48 -64.74 L 230.78 -64.71 L 231.09 -64.68 L 231.39 -64.64 L 231.69 -64.61 L 232 -64.58 L 232.3 -64.54 L 232.6 -64.51 L 232.9 -64.48 L 233.21 -64.44 L 233.51 -64.41 L 233.81 -64.4 L 234.11 -64.41 L 234.42 -64.42 L 234.72 -64.42 L 235.02 -64.43 L 235.32 -64.43 L 235.63 -64.44 L 235.93 -64.45 L 236.23 -64.45 L 236.54 -64.46 L 236.84 -64.46 L 237.14 -64.47 L 237.44 -64.48 L 237.75 -64.48 L 238.05 -64.49 L 238.35 -64.5 L 238.65 -64.52 L 238.96 -64.65 L 239.26 -64.77 L 239.56 -64.9 L 239.86 -65.02 L 240.17 -65.15 L 240.47 -65.28 L 240.77 -65.4 L 241.08 -65.53 L 241.38 -65.65 L 241.68 -65.78 L 241.98 -65.9 L 242.29 -66.03 L 242.59 -66.15 L 242.89 -66.09 L 243.19 -65.91 L 243.5 -65.73 L 243.8 -65.56 L 244.1 -65.38 L 244.41 -65.2 L 244.71 -65.02 L 245.01 -64.85 L 245.31 -64.67 L 245.62 -64.49 L 245.92 -64.32 L 246.22 -64.14 L 246.52 -63.96 L 246.83 -63.78 L 247.13 -63.55 L 247.43 -63.33 L 247.73 -63.1 L 248.04 -62.87 L 248.34 -62.65 L 248.64 -62.42 L 248.95 -62.19 L 249.25 -61.96 L 249.55 -61.74 L 249.85 -61.51 L 250.16 -61.21 L 250.46 -60.83 L 250.76 -60.45 L 251.06 -60.08 L 251.37 -59.7 L 251.67 -59.33 L 251.97 -58.95 L 252.27 -58.57 L 252.58 -58.2 L 252.88 -57.82 L 253.18 -57.45 L 253.49 -57.03 L 253.79 -56.59 L 254.09 -56.15 L 254.39 -55.7 L 254.7 -55.26 L 255 -54.82 L 255.3 -54.38 L 255.6 -53.94 L 255.91 -53.49 L 256.21 -53.05 L 256.51 -52.61 L 256.81 -52.17 L 257.12 -51.73 L 257.42 -51.28 L 257.72 -50.84 L 258.03 -50.4 L 258.33 -49.97 L 258.63 -49.66 L 258.93 -49.35 L 259.24 -49.04 L 259.54 -48.74 L 259.84 -48.43 L 260.14 -48.12 L 260.45 -47.81 L 260.75 -47.5 L 261.05 -47.19 L 261.35 -46.88 L 261.66 -46.57 L 261.96 -46.27 L 262.26 -45.96 L 262.57 -45.65 L 262.87 -45.34 L 263.17 -45.03 L 263.47 -44.75 L 263.78 -44.46 L 264.08 -44.18 L 264.38 -43.9 L 264.68 -43.62 L 264.99 -43.34 L 265.29 -43.06 L 265.59 -42.77 L 265.89 -42.49 L 266.2 -42.21 L 266.5 -41.93 L 266.8 -41.65 L 267.11 -41.37 L 267.41 -41.09 L 267.71 -40.96 L 268.01 -40.89 L 268.32 -40.83 L 268.62 -40.77 L 268.92 -40.71 L 269.22 -40.64 L 269.53 -40.58 L 269.83 -40.52 L 270.13 -40.46 L 270.44 -40.39 L 270.74 -40.33 L 271.04 -40.27 L 271.34 -40.2 L 271.65 -40.14 L 271.95 -40.08 L 272.25 -40.02 L 272.55 -39.95 L 272.86 -39.89 L 273.16 -39.83 L 273.46 -39.99 L 273.76 -40.34 L 274.07 -40.7 L 274.37 -41.05 L 274.67 -41.41 L 274.98 -41.76 L 275.28 -42.12 L 275.58 -42.47 L 275.88 -42.83 L 276.19 -43.18 L 276.49 -43.54 L 276.79 -43.89 L 277.09 -44.25 L 277.4 -44.6 L 277.7 -44.96 L 278 -45.31 L 278.3 -45.67 L 278.61 -46.02 L 278.91 -46.38 L 279.21 -47.02 L 279.52 -48.13 L 279.82 -49.25 L 280.12 -50.37 L 280.42 -51.48 L 280.73 -52.6 L 281.03 -53.72 L 281.33 -54.83 L 281.63 -55.95 L 281.94 -57.07 L 282.24 -58.18 L 282.54 -59.3 L 282.84 -60.42 L 283.15 -61.53 L 283.45 -62.65 L 283.75 -63.77 L 284.06 -64.88 L 284.36 -66 L 284.66 -67.12 L 284.96 -68.23 L 285.27 -69.34 L 285.57 -70.46 L 285.87 -71.57 L 286.17 -72.68 L 286.48 -73.79 L 286.78 -74.9 L 287.08 -76.01 L 287.38 -77.13 L 287.69 -78.24 L 287.99 -79.35 L 288.29 -80.46 L 288.6 -81.57 L 288.9 -82.68 L 289.2 -83.8 L 289.5 -84.91 L 289.81 -86.02 L 290.11 -87.13 L 290.41 -88.24 L 290.71 -89.35 L 291.02 -90.45 L 291.32 -91.55 L 291.62 -92.65 L 291.93 -93.74 L 292.23 -94.84 L 292.53 -95.94 L 292.83 -97.04 L 293.14 -98.13 L 293.44 -99.23 L 293.74 -100.33 L 294.04 -101.43 L 294.35 -102.53 L 294.65 -103.62 L 294.95 -104.72 L 295.25 -105.82 L 295.56 -106.92 L 295.86 -108.02 L 296.16 -109.11 L 296.47 -110.21 L 296.77 -111.38 L 297.07 -112.62 L 297.37 -113.85 L 297.68 -115.09 L 297.98 -116.32 L 298.28 -117.56 L 298.58 -118.79 L 298.89 -120.03 L 299.19 -121.26 L 299.49 -122.5 L 299.79 -123.73 L 300.1 -124.97 L 300.4 -126.2 L 300.4 -55.4 L 300.4 -55.4 L 300.1 -55.05 L 299.79 -54.69 L 299.49 -54.34 L 299.19 -53.98 L 298.89 -53.63 L 298.58 -53.27 L 298.28 -52.92 L 297.98 -52.56 L 297.68 -52.21 L 297.37 -51.85 L 297.07 -51.5 L 296.77 -51.14 L 296.47 -50.79 L 296.16 -50.43 L 295.86 -50.08 L 295.56 -49.72 L 295.25 -49.37 L 294.95 -49.01 L 294.65 -48.66 L 294.35 -48.39 L 294.04 -48.13 L 293.74 -47.87 L 293.44 -47.62 L 293.14 -47.36 L 292.83 -47.11 L 292.53 -46.85 L 292.23 -46.6 L 291.93 -46.34 L 291.62 -46.08 L 291.32 -45.83 L 291.02 -45.57 L 290.71 -45.32 L 290.41 -45.06 L 290.11 -44.81 L 289.81 -44.55 L 289.5 -44.29 L 289.2 -44.04 L 288.9 -43.78 L 288.6 -43.65 L 288.29 -43.58 L 287.99 -43.5 L 287.69 -43.43 L 287.38 -43.36 L 287.08 -43.28 L 286.78 -43.21 L 286.48 -43.13 L 286.17 -43.06 L 285.87 -42.99 L 285.57 -42.91 L 285.27 -42.84 L 284.96 -42.77 L 284.66 -42.69 L 284.36 -42.62 L 284.06 -42.54 L 283.75 -42.47 L 283.45 -42.4 L 283.15 -42.32 L 282.84 -42.25 L 282.54 -42.18 L 282.24 -42.1 L 281.94 -42.03 L 281.63 -41.95 L 281.33 -41.88 L 281.03 -41.81 L 280.73 -41.56 L 280.42 -41.29 L 280.12 -41.02 L 279.82 -40.76 L 279.52 -40.49 L 279.21 -40.22 L 278.91 -39.95 L 278.61 -39.69 L 278.3 -39.42 L 278 -39.15 L 277.7 -38.89 L 277.4 -38.62 L 277.09 -38.35 L 276.79 -38.08 L 276.49 -37.82 L 276.19 -37.55 L 275.88 -37.28 L 275.58 -37.01 L 275.28 -36.75 L 274.98 -36.48 L 274.67 -36.21 L 274.37 -35.94 L 274.07 -35.68 L 273.76 -35.41 L 273.46 -35.14 L 273.16 -35.06 L 272.86 -35.18 L 272.55 -35.31 L 272.25 -35.43 L 271.95 -35.56 L 271.65 -35.68 L 271.34 -35.81 L 271.04 -35.93 L 270.74 -36.06 L 270.44 -36.19 L 270.13 -36.31 L 269.83 -36.44 L 269.53 -36.56 L 269.22 -36.69 L 268.92 -36.81 L 268.62 -36.94 L 268.32 -37.06 L 268.01 -37.19 L 267.71 -37.31 L 267.41 -37.49 L 267.11 -37.77 L 266.8 -38.05 L 266.5 -38.33 L 266.2 -38.61 L 265.89 -38.89 L 265.59 -39.17 L 265.29 -39.46 L 264.99 -39.74 L 264.68 -40.02 L 264.38 -40.3 L 264.08 -40.58 L 263.78 -40.86 L 263.47 -41.15 L 263.17 -41.43 L 262.87 -41.75 L 262.57 -42.07 L 262.26 -42.39 L 261.96 -42.72 L 261.66 -43.04 L 261.35 -43.36 L 261.05 -43.68 L 260.75 -44 L 260.45 -44.32 L 260.14 -44.64 L 259.84 -44.96 L 259.54 -45.29 L 259.24 -45.61 L 258.93 -45.93 L 258.63 -46.25 L 258.33 -46.57 L 258.03 -47.01 L 257.72 -47.47 L 257.42 -47.92 L 257.12 -48.37 L 256.81 -48.83 L 256.51 -49.28 L 256.21 -49.74 L 255.91 -50.19 L 255.6 -50.64 L 255.3 -51.1 L 255 -51.55 L 254.7 -52.01 L 254.39 -52.46 L 254.09 -52.91 L 253.79 -53.37 L 253.49 -53.82 L 253.18 -54.25 L 252.88 -54.62 L 252.58 -55 L 252.27 -55.37 L 251.97 -55.75 L 251.67 -56.13 L 251.37 -56.5 L 251.06 -56.88 L 250.76 -57.25 L 250.46 -57.63 L 250.16 -58.01 L 249.85 -58.31 L 249.55 -58.54 L 249.25 -58.76 L 248.95 -58.99 L 248.64 -59.22 L 248.34 -59.45 L 248.04 -59.67 L 247.73 -59.9 L 247.43 -60.13 L 247.13 -60.35 L 246.83 -60.58 L 246.52 -60.76 L 246.22 -60.94 L 245.92 -61.12 L 245.62 -61.29 L 245.31 -61.47 L 245.01 -61.65 L 244.71 -61.82 L 244.41 -62 L 244.1 -62.18 L 243.8 -62.36 L 243.5 -62.53 L 243.19 -62.71 L 242.89 -62.89 L 242.59 -62.95 L 242.29 -62.83 L 241.98 -62.7 L 241.68 -62.58 L 241.38 -62.45 L 241.08 -62.33 L 240.77 -62.2 L 240.47 -62.08 L 240.17 -61.95 L 239.86 -61.82 L 239.56 -61.7 L 239.26 -61.57 L 238.96 -61.45 L 238.65 -61.32 L 238.35 -61.3 L 238.05 -61.31 L 237.75 -61.32 L 237.44 -61.32 L 237.14 -61.33 L 236.84 -61.34 L 236.54 -61.34 L 236.23 -61.35 L 235.93 -61.35 L 235.63 -61.36 L 235.32 -61.37 L 235.02 -61.37 L 234.72 -61.38 L 234.42 -61.38 L 234.11 -61.39 L 233.81 -61.4 L 233.51 -61.41 L 233.21 -61.44 L 232.9 -61.48 L 232.6 -61.51 L 232.3 -61.54 L 232 -61.58 L 231.69 -61.61 L 231.39 -61.64 L 231.09 -61.68 L 230.78 -61.71 L 230.48 -61.74 L 230.18 -61.78 L 229.88 -61.81 L 229.57 -61.84 L 229.27 -61.88 L 228.97 -61.91 L 228.67 -61.94 L 228.36 -61.97 L 228.06 -62.01 L 227.76 -62.04 L 227.46 -62.07 L 227.15 -62.11 L 226.85 -62.14 L 226.55 -62.17 L 226.24 -62.21 L 225.94 -62.24 L 225.64 -62.27 L 225.34 -62.32 L 225.03 -62.42 L 224.73 -62.51 L 224.43 -62.61 L 224.13 -62.7 L 223.82 -62.8 L 223.52 -62.9 L 223.22 -62.99 L 222.92 -63.09 L 222.61 -63.18 L 222.31 -63.28 L 222.01 -63.38 L 221.7 -63.47 L 221.4 -63.57 L 221.1 -63.66 L 220.8 -63.76 L 220.49 -63.86 L 220.19 -63.95 L 219.89 -64.05 L 219.59 -64.14 L 219.28 -64.24 L 218.98 -64.34 L 218.68 -64.43 L 218.37 -64.53 L 218.07 -64.62 L 217.77 -64.72 L 217.47 -64.82 L 217.16 -64.92 L 216.86 -65.07 L 216.56 -65.22 L 216.26 -65.38 L 215.95 -65.53 L 215.65 -65.69 L 215.35 -65.84 L 215.05 -65.99 L 214.74 -66.15 L 214.44 -66.3 L 214.14 -66.45 L 213.83 -66.61 L 213.53 -66.76 L 213.23 -66.91 L 212.93 -67.07 L 212.62 -67.22 L 212.32 -67.37 L 212.02 -67.53 L 211.72 -67.68 L 211.41 -67.83 L 211.11 -67.99 L 210.81 -68.14 L 210.51 -68.29 L 210.2 -68.45 L 209.9 -68.6 z" style="stroke: #3545a0; stroke-opacity: 0.4"/>
</defs>
<g clip-path="url(#p705fe842d3)">
<use href="#m509570f18c" x="0" y="682" style="fill: #3545a0; fill-opacity: 0.4; stroke: #3545a0; stroke-opacity: 0.4"/>
</g>
</g>
<g id="matplotlib.axis_21">
<g id="xtick_28">
<g id="line2d_97">
<g>
<use href="#m7c25c535dc" x="209.9" y="651.6" style="stroke: #000000; stroke-width: 0.8"/>
</g>
</g>
<g id="text_43">
<text transform="translate(201.630 666.502) scale(1.144 1.055)" style="font-size:10.40px">0</text><text transform="translate(208.247 666.502) scale(1.144 1.055)" style="font-size:10.40px">.</text><text transform="translate(211.553 666.502) scale(1.144 1.055)" style="font-size:10.40px">0</text>
</g>
</g>
<g id="xtick_29">
<g id="line2d_98">
<g>
<use href="#m7c25c535dc" x="262.15" y="651.6" style="stroke: #000000; stroke-width: 0.8"/>
</g>
</g>
<g id="text_44">
<text transform="translate(253.880 666.502) scale(1.144 1.055)" style="font-size:10.40px">0</text><text transform="translate(260.497 666.502) scale(1.144 1.055)" style="font-size:10.40px">.</text><text transform="translate(263.803 666.502) scale(1.144 1.055)" style="font-size:10.40px">5</text>
</g>
</g>
<g id="xtick_30">
<g id="line2d_99">
<g>
<use href="#m7c25c535dc" x="314.4" y="651.6" style="stroke: #000000; stroke-width: 0.8"/>
</g>
</g>
<g id="text_45">
<text transform="translate(306.130 666.502) scale(1.144 1.055)" style="font-size:10.40px">1</text><text transform="translate(312.747 666.502) scale(1.144 1.055)" style="font-size:10.40px">.</text><text transform="translate(316.053 666.502) scale(1.144 1.055)" style="font-size:10.40px">0</text>
</g>
</g>
<g id="text_46">
<g transform="translate(258.822 680.5465)"><text transform="translate(0.000 -0.406) scale(1.108 1.055)" style="font-size:10.40px;font-style:italic">ρ</text></g>
</g>
</g>
<g id="matplotlib.axis_22">
<g id="ytick_32">
<g id="line2d_100">
<g>
<use href="#mb258c49b38" x="209.9" y="645.6" style="stroke: #000000; stroke-width: 0.8"/>
</g>
</g>
<g id="text_47">
<text transform="translate(180.952 649.551) scale(1.435 1.055)" style="font-size:10.40px">−</text><text transform="translate(189.666 649.551) scale(1.144 1.055)" style="font-size:10.40px">2</text><text transform="translate(196.283 649.551) scale(1.144 1.055)" style="font-size:10.40px">0</text>
</g>
</g>
<g id="ytick_33">
<g id="line2d_101">
<g>
<use href="#mb258c49b38" x="209.9" y="612" style="stroke: #000000; stroke-width: 0.8"/>
</g>
</g>
<g id="text_48">
<text transform="translate(196.283 615.951) scale(1.144 1.055)" style="font-size:10.40px">0</text>
</g>
</g>
<g id="ytick_34">
<g id="line2d_102">
<g>
<use href="#mb258c49b38" x="209.9" y="578.2" style="stroke: #000000; stroke-width: 0.8"/>
</g>
</g>
<g id="text_49">
<text transform="translate(189.666 582.151) scale(1.144 1.055)" style="font-size:10.40px">2</text><text transform="translate(196.283 582.151) scale(1.144 1.055)" style="font-size:10.40px">0</text>
</g>
</g>
</g>
<g id="line2d_103">
<path d="M 209.9 612 L 314.4 612 
" clip-path="url(#p705fe842d3)" style="fill: none; stroke: #000000; stroke-width: 2; stroke-linecap: square"/>
</g>
<g id="line2d_104">
<path d="M 209.9 612 L 213.53 613.96 L 216.25 615.21 L 220.33 616.79 L 223.04 617.67 L 225.31 618.19 L 230.3 618.91 L 233.02 619.09 L 238.91 619.07 L 239.82 618.74 L 242.08 617.5 L 242.99 617.42 L 243.89 617.73 L 245.25 618.64 L 247.52 620.28 L 249.33 621.61 L 250.69 622.92 L 252.05 624.61 L 254.77 628.46 L 257.95 633.26 L 259.76 635.34 L 262.48 638.01 L 264.29 639.85 L 266.11 641.76 L 267.01 642.45 L 268.37 643.03 L 270.64 643.75 L 272.45 644.06 L 273.36 644.1 L 274.26 643.84 L 275.17 643.21 L 276.53 641.89 L 277.89 640.41 L 279.25 638.39 L 281.97 633.69 L 284.24 629.3 L 287.41 622.59 L 290.13 616.34 L 294.66 605.24 L 298.74 594.73 L 300.1 591.1 L 300.1 591.1 
" clip-path="url(#p705fe842d3)" style="fill: none; stroke: #3545a0; stroke-width: 2.3; stroke-linecap: square"/>
</g>
<g id="patch_56">
<path d="M 209.9 651.6 L 209.9 551.95 
" style="fill: none; stroke: #000000; stroke-width: 0.8; stroke-linejoin: miter; stroke-linecap: square"/>
</g>
<g id="patch_57">
<path d="M 314.4 651.6 L 314.4 551.95 
" style="fill: none; stroke: #000000; stroke-width: 0.8; stroke-linejoin: miter; stroke-linecap: square"/>
</g>
<g id="patch_58">
<path d="M 209.9 651.6 L 314.4 651.6 
" style="fill: none; stroke: #000000; stroke-width: 0.8; stroke-linejoin: miter; stroke-linecap: square"/>
</g>
<g id="patch_59">
<path d="M 209.9 551.95 L 314.4 551.95 
" style="fill: none; stroke: #000000; stroke-width: 0.8; stroke-linejoin: miter; stroke-linecap: square"/>
</g>
<g id="text_50">
<g transform="translate(214.9645 545.95)"><text transform="translate(0.000 -0.875) scale(1.158 1.055)" style="font-size:12.45px">k</text><text transform="translate(7.239 -0.875) scale(1.172 1.055)" style="font-size:12.45px">)</text><text transform="translate(12.115 -0.875) scale(1.144 1.055)" style="font-size:12.45px"> </text><text transform="translate(16.089 -0.875) scale(1.169 1.055)" style="font-size:12.45px">m</text><text transform="translate(28.265 -0.875) scale(1.106 1.055)" style="font-size:12.45px">e</text><text transform="translate(35.956 -0.875) scale(1.102 1.055)" style="font-size:12.45px">a</text><text transform="translate(43.616 -0.875) scale(1.042 1.055)" style="font-size:12.45px">s</text><text transform="translate(50.128 -0.875) scale(1.140 1.055)" style="font-size:12.45px">u</text><text transform="translate(58.051 -0.875) scale(1.235 1.055)" style="font-size:12.45px">r</text><text transform="translate(63.190 -0.875) scale(1.106 1.055)" style="font-size:12.45px">e</text><text transform="translate(70.880 -0.875) scale(1.141 1.055)" style="font-size:12.45px">d</text><text transform="translate(78.815 -0.875) scale(1.144 1.055)" style="font-size:12.45px"> </text><text transform="translate(82.788 -0.875) scale(0.947 1.055)" style="font-size:12.45px;font-style:italic">E</text><text transform="translate(90.686 1.094) scale(1.235 1.055)" style="font-size:8.71px;font-style:italic">r</text></g>
</g>
</g>
<g id="text_51">
<g transform="translate(127.5 34.5)"><text transform="translate(0.000 -0.703) scale(1.000 1.055)" style="font-size:10.40px;font-style:italic">T</text><text transform="translate(6.337 0.938) scale(1.106 1.055)" style="font-size:7.28px;font-style:italic">e</text></g>
</g>
<g id="text_52">
<g transform="translate(127.5 49.8)"><text transform="translate(0.000 -0.703) scale(1.000 1.055)" style="font-size:10.40px;font-style:italic">T</text><text transform="translate(6.337 0.938) scale(1.251 1.055)" style="font-size:7.28px;font-style:italic">i</text></g>
</g>
<g id="text_53">
<g transform="translate(82 105.2)"><text transform="translate(0.000 -0.406) scale(1.140 1.055)" style="font-size:10.40px;font-style:italic">n</text><text transform="translate(6.576 1.234) scale(1.106 1.055)" style="font-size:7.28px;font-style:italic">e</text></g>
</g>
<g id="text_54">
<g transform="translate(8.3 96.196) rotate(-90)"><text transform="translate(0.000 -0.359) scale(1.000 1.055)" style="font-size:10.40px;font-style:italic">T</text><text transform="translate(21.170 -0.359) scale(1.000 1.055)" style="font-size:10.40px;font-style:italic">T</text><text transform="translate(6.337 1.281) scale(1.106 1.055)" style="font-size:7.28px;font-style:italic">e</text><text transform="translate(27.508 1.281) scale(1.251 1.055)" style="font-size:7.28px;font-style:italic">i</text><text transform="translate(11.079 -0.359) scale(1.144 1.055)" style="font-size:10.40px"> </text><text transform="translate(14.377 -0.359) scale(1.297 1.055)" style="font-size:10.40px">|</text><text transform="translate(17.872 -0.359) scale(1.144 1.055)" style="font-size:10.40px"> </text><text transform="translate(29.799 -0.359) scale(1.144 1.055)" style="font-size:10.40px"> </text><text transform="translate(33.097 -0.359) scale(1.213 1.055)" style="font-size:10.40px">/</text><text transform="translate(36.592 -0.359) scale(1.144 1.055)" style="font-size:10.40px"> </text><text transform="translate(39.890 -0.359) scale(1.158 1.055)" style="font-size:10.40px">k</text><text transform="translate(45.898 -0.359) scale(1.106 1.055)" style="font-size:10.40px">e</text><text transform="translate(52.282 -0.359) scale(1.026 1.055)" style="font-size:10.40px">V</text></g>
</g>
<g id="text_55">
<g transform="translate(243.5 97.6)"><text transform="translate(0.000 -0.703) scale(1.000 1.055)" style="font-size:10.40px;font-style:italic">T</text><text transform="translate(6.337 0.938) scale(1.106 1.055)" style="font-size:7.28px;font-style:italic">e</text></g>
</g>
<g id="text_56">
<g transform="translate(243.5 112.8)"><text transform="translate(0.000 -0.703) scale(1.000 1.055)" style="font-size:10.40px;font-style:italic">T</text><text transform="translate(6.337 0.938) scale(1.251 1.055)" style="font-size:7.28px;font-style:italic">i</text></g>
</g>
<g id="text_57">
<g transform="translate(294 34.3)"><text transform="translate(0.000 -0.406) scale(1.140 1.055)" style="font-size:10.40px;font-style:italic">n</text><text transform="translate(6.576 1.234) scale(1.106 1.055)" style="font-size:7.28px;font-style:italic">e</text></g>
</g>
<g id="text_58">
<text transform="translate(321.500 106.900) scale(1.144 1.055)" style="font-size:10.40px">5</text>
</g>
<g id="text_59">
<g transform="translate(333.5 92.528) rotate(-90)"><text transform="translate(0.000 -0.977) scale(1.140 1.055)" style="font-size:10.40px;font-style:italic">n</text><text transform="translate(6.576 0.664) scale(1.106 1.055)" style="font-size:7.28px;font-style:italic">e</text><text transform="translate(11.317 -0.977) scale(1.144 1.055)" style="font-size:10.40px"> </text><text transform="translate(14.615 -0.977) scale(1.144 1.055)" style="font-size:10.40px">1</text><text transform="translate(21.216 -0.977) scale(1.106 1.055)" style="font-size:10.40px">e</text><text transform="translate(27.599 -0.977) scale(1.144 1.055)" style="font-size:10.40px">1</text><text transform="translate(34.200 -0.977) scale(1.144 1.055)" style="font-size:10.40px">9</text><text transform="translate(40.801 -0.977) scale(1.144 1.055)" style="font-size:10.40px"> </text><text transform="translate(44.099 -0.977) scale(1.213 1.055)" style="font-size:10.40px">/</text><text transform="translate(47.594 -0.977) scale(1.169 1.055)" style="font-size:10.40px">m</text><text transform="translate(57.796 -4.805) scale(1.435 1.055)" style="font-size:7.28px">−</text><text transform="translate(63.882 -4.805) scale(1.144 1.055)" style="font-size:7.28px">3</text></g>
</g>
<g id="text_60">
<g transform="translate(130.5 224.5)"><text transform="translate(0.000 -0.703) scale(1.066 1.055)" style="font-size:10.40px;font-style:italic">D</text></g>
</g>
<g id="text_61">
<g transform="translate(130.5 238.5)"><text transform="translate(0.000 -0.703) scale(1.026 1.055)" style="font-size:10.40px;font-style:italic">V</text></g>
</g>
<g id="text_62">
<g transform="translate(9.6 244.504) rotate(-90)"><text transform="translate(0.000 -0.977) scale(1.026 1.055)" style="font-size:10.40px;font-style:italic">V</text><text transform="translate(46.287 -0.977) scale(1.066 1.055)" style="font-size:10.40px;font-style:italic">D</text><text transform="translate(7.097 -0.977) scale(1.144 1.055)" style="font-size:10.40px"> </text><text transform="translate(10.395 -0.977) scale(1.213 1.055)" style="font-size:10.40px">/</text><text transform="translate(13.891 -0.977) scale(1.144 1.055)" style="font-size:10.40px"> </text><text transform="translate(17.189 -0.977) scale(1.169 1.055)" style="font-size:10.40px">m</text><text transform="translate(27.295 -0.977) scale(1.213 1.055)" style="font-size:10.40px">/</text><text transform="translate(30.791 -0.977) scale(1.042 1.055)" style="font-size:10.40px">s</text><text transform="translate(36.196 -0.977) scale(1.144 1.055)" style="font-size:10.40px"> </text><text transform="translate(39.494 -0.977) scale(1.297 1.055)" style="font-size:10.40px">|</text><text transform="translate(42.989 -0.977) scale(1.144 1.055)" style="font-size:10.40px"> </text><text transform="translate(54.276 -0.977) scale(1.144 1.055)" style="font-size:10.40px"> </text><text transform="translate(57.574 -0.977) scale(1.213 1.055)" style="font-size:10.40px">/</text><text transform="translate(61.070 -0.977) scale(1.144 1.055)" style="font-size:10.40px"> </text><text transform="translate(64.368 -0.977) scale(1.169 1.055)" style="font-size:10.40px">m</text><text transform="translate(79.464 -0.977) scale(1.213 1.055)" style="font-size:10.40px">/</text><text transform="translate(82.959 -0.977) scale(1.042 1.055)" style="font-size:10.40px">s</text><text transform="translate(74.570 -4.805) scale(1.144 1.055)" style="font-size:7.28px">2</text></g>
</g>
<g id="text_63">
<g transform="translate(296.5 168)"><text transform="translate(0.000 -0.703) scale(1.066 1.055)" style="font-size:10.40px;font-style:italic">D</text></g>
</g>
<g id="text_64">
<g transform="translate(296.5 183.5)"><text transform="translate(0.000 -0.703) scale(1.026 1.055)" style="font-size:10.40px;font-style:italic">V</text></g>
</g>
<g id="text_65">
<g transform="translate(176 244.504) rotate(-90)"><text transform="translate(0.000 -0.977) scale(1.026 1.055)" style="font-size:10.40px;font-style:italic">V</text><text transform="translate(46.287 -0.977) scale(1.066 1.055)" style="font-size:10.40px;font-style:italic">D</text><text transform="translate(7.097 -0.977) scale(1.144 1.055)" style="font-size:10.40px"> </text><text transform="translate(10.395 -0.977) scale(1.213 1.055)" style="font-size:10.40px">/</text><text transform="translate(13.891 -0.977) scale(1.144 1.055)" style="font-size:10.40px"> </text><text transform="translate(17.189 -0.977) scale(1.169 1.055)" style="font-size:10.40px">m</text><text transform="translate(27.295 -0.977) scale(1.213 1.055)" style="font-size:10.40px">/</text><text transform="translate(30.791 -0.977) scale(1.042 1.055)" style="font-size:10.40px">s</text><text transform="translate(36.196 -0.977) scale(1.144 1.055)" style="font-size:10.40px"> </text><text transform="translate(39.494 -0.977) scale(1.297 1.055)" style="font-size:10.40px">|</text><text transform="translate(42.989 -0.977) scale(1.144 1.055)" style="font-size:10.40px"> </text><text transform="translate(54.276 -0.977) scale(1.144 1.055)" style="font-size:10.40px"> </text><text transform="translate(57.574 -0.977) scale(1.213 1.055)" style="font-size:10.40px">/</text><text transform="translate(61.070 -0.977) scale(1.144 1.055)" style="font-size:10.40px"> </text><text transform="translate(64.368 -0.977) scale(1.169 1.055)" style="font-size:10.40px">m</text><text transform="translate(79.464 -0.977) scale(1.213 1.055)" style="font-size:10.40px">/</text><text transform="translate(82.959 -0.977) scale(1.042 1.055)" style="font-size:10.40px">s</text><text transform="translate(74.570 -4.805) scale(1.144 1.055)" style="font-size:7.28px">2</text></g>
</g>
<g id="text_66">
<text transform="translate(102.000 302.200) scale(0.967 1.055)" style="font-size:10.40px">C</text><text transform="translate(109.262 302.200) scale(0.947 1.055)" style="font-size:10.40px">E</text><text transform="translate(115.833 302.200) scale(0.962 1.055)" style="font-size:10.40px">R</text><text transform="translate(123.059 302.200) scale(0.967 1.055)" style="font-size:10.40px">C</text>
</g>
<g id="text_67">
<text transform="translate(102.000 316.300) scale(0.967 1.055)" style="font-size:10.40px">C</text><text transform="translate(109.262 316.300) scale(1.100 1.055)" style="font-size:10.40px">o</text><text transform="translate(115.625 316.300) scale(1.235 1.055)" style="font-size:10.40px">r</text><text transform="translate(119.901 316.300) scale(1.100 1.055)" style="font-size:10.40px">o</text><text transform="translate(126.035 316.300) scale(1.140 1.055)" style="font-size:10.40px">n</text><text transform="translate(132.626 316.300) scale(1.102 1.055)" style="font-size:10.40px">a</text>
</g>
<g id="text_68">
<g transform="translate(9.4 381.416) rotate(-90)"><text transform="translate(0.000 -0.977) scale(1.140 1.055)" style="font-size:10.40px;font-style:italic">n</text><text transform="translate(72.534 -0.977) scale(1.169 1.055)" style="font-size:10.40px;font-style:italic">m</text><text transform="translate(6.576 0.664) scale(1.026 1.055)" style="font-size:7.28px;font-style:italic">A</text><text transform="translate(11.544 0.664) scale(1.235 1.055)" style="font-size:7.28px;font-style:italic">r</text><text transform="translate(14.530 0.664) scale(1.144 1.055)" style="font-size:7.28px">1</text><text transform="translate(19.150 0.664) scale(1.144 1.055)" style="font-size:7.28px">6</text><text transform="translate(25.186 0.664) scale(1.435 1.055)" style="font-size:7.28px">+</text><text transform="translate(83.105 -4.805) scale(1.435 1.055)" style="font-size:7.28px">−</text><text transform="translate(89.190 -4.805) scale(1.144 1.055)" style="font-size:7.28px">3</text><text transform="translate(32.959 -0.977) scale(1.144 1.055)" style="font-size:10.40px"> </text><text transform="translate(36.257 -0.977) scale(1.213 1.055)" style="font-size:10.40px">/</text><text transform="translate(39.753 -0.977) scale(1.144 1.055)" style="font-size:10.40px"> </text><text transform="translate(43.051 -0.977) scale(1.144 1.055)" style="font-size:10.40px">1</text><text transform="translate(49.651 -0.977) scale(1.106 1.055)" style="font-size:10.40px">e</text><text transform="translate(56.035 -0.977) scale(1.144 1.055)" style="font-size:10.40px">1</text><text transform="translate(62.635 -0.977) scale(1.144 1.055)" style="font-size:10.40px">5</text><text transform="translate(69.236 -0.977) scale(1.144 1.055)" style="font-size:10.40px"> </text></g>
</g>
<g id="text_69">
<text transform="translate(243.200 351.800) scale(1.062 1.055)" style="font-size:10.40px">I</text><text transform="translate(246.267 351.800) scale(0.962 1.055)" style="font-size:10.40px">R</text><text transform="translate(253.493 351.800) scale(0.967 1.055)" style="font-size:10.40px">C</text>
</g>
<g id="text_70">
<text transform="translate(243.200 366.800) scale(0.967 1.055)" style="font-size:10.40px">C</text><text transform="translate(250.462 366.800) scale(1.100 1.055)" style="font-size:10.40px">o</text><text transform="translate(256.825 366.800) scale(1.235 1.055)" style="font-size:10.40px">r</text><text transform="translate(261.101 366.800) scale(1.100 1.055)" style="font-size:10.40px">o</text><text transform="translate(267.235 366.800) scale(1.140 1.055)" style="font-size:10.40px">n</text><text transform="translate(273.826 366.800) scale(1.102 1.055)" style="font-size:10.40px">a</text>
</g>
<g id="text_71">
<text transform="translate(243.200 381.900) scale(0.967 1.055)" style="font-size:10.40px">C</text><text transform="translate(250.462 381.900) scale(0.947 1.055)" style="font-size:10.40px">E</text><text transform="translate(257.033 381.900) scale(0.962 1.055)" style="font-size:10.40px">R</text><text transform="translate(264.259 381.900) scale(0.967 1.055)" style="font-size:10.40px">C</text>
</g>
<g id="text_72">
<g transform="translate(174.6 381.416) rotate(-90)"><text transform="translate(0.000 -0.977) scale(1.140 1.055)" style="font-size:10.40px;font-style:italic">n</text><text transform="translate(72.534 -0.977) scale(1.169 1.055)" style="font-size:10.40px;font-style:italic">m</text><text transform="translate(6.576 0.664) scale(1.026 1.055)" style="font-size:7.28px;font-style:italic">A</text><text transform="translate(11.544 0.664) scale(1.235 1.055)" style="font-size:7.28px;font-style:italic">r</text><text transform="translate(14.530 0.664) scale(1.144 1.055)" style="font-size:7.28px">1</text><text transform="translate(19.150 0.664) scale(1.144 1.055)" style="font-size:7.28px">6</text><text transform="translate(25.186 0.664) scale(1.435 1.055)" style="font-size:7.28px">+</text><text transform="translate(83.105 -4.805) scale(1.435 1.055)" style="font-size:7.28px">−</text><text transform="translate(89.190 -4.805) scale(1.144 1.055)" style="font-size:7.28px">3</text><text transform="translate(32.959 -0.977) scale(1.144 1.055)" style="font-size:10.40px"> </text><text transform="translate(36.257 -0.977) scale(1.213 1.055)" style="font-size:10.40px">/</text><text transform="translate(39.753 -0.977) scale(1.144 1.055)" style="font-size:10.40px"> </text><text transform="translate(43.051 -0.977) scale(1.144 1.055)" style="font-size:10.40px">1</text><text transform="translate(49.651 -0.977) scale(1.106 1.055)" style="font-size:10.40px">e</text><text transform="translate(56.035 -0.977) scale(1.144 1.055)" style="font-size:10.40px">1</text><text transform="translate(62.635 -0.977) scale(1.144 1.055)" style="font-size:10.40px">5</text><text transform="translate(69.236 -0.977) scale(1.144 1.055)" style="font-size:10.40px"> </text></g>
</g>
<g id="text_73">
<text transform="translate(111.000 436.500) scale(0.967 1.055)" style="font-size:10.40px">C</text><text transform="translate(118.262 436.500) scale(0.947 1.055)" style="font-size:10.40px">E</text><text transform="translate(124.833 436.500) scale(0.962 1.055)" style="font-size:10.40px">R</text><text transform="translate(132.059 436.500) scale(0.967 1.055)" style="font-size:10.40px">C</text>
</g>
<g id="text_74">
<g transform="translate(8.3 498.908) rotate(-90)"><text transform="translate(0.000 -0.703) scale(1.140 1.055)" style="font-size:10.40px;font-style:italic">n</text><text transform="translate(6.576 0.938) scale(1.026 1.055)" style="font-size:7.28px;font-style:italic">A</text><text transform="translate(11.544 0.938) scale(1.235 1.055)" style="font-size:7.28px;font-style:italic">r</text><text transform="translate(14.530 0.938) scale(1.144 1.055)" style="font-size:7.28px">1</text><text transform="translate(19.150 0.938) scale(1.144 1.055)" style="font-size:7.28px">6</text><text transform="translate(25.186 0.938) scale(1.435 1.055)" style="font-size:7.28px">+</text><text transform="translate(32.959 -0.703) scale(1.144 1.055)" style="font-size:10.40px"> </text><text transform="translate(36.257 -0.703) scale(1.213 1.055)" style="font-size:10.40px">/</text><text transform="translate(39.753 -0.703) scale(1.144 1.055)" style="font-size:10.40px"> </text><text transform="translate(43.051 -0.703) scale(1.102 1.055)" style="font-size:10.40px">a</text><text transform="translate(49.408 -0.703) scale(1.144 1.055)" style="font-size:10.40px">.</text><text transform="translate(52.706 -0.703) scale(1.140 1.055)" style="font-size:10.40px">u</text><text transform="translate(59.282 -0.703) scale(1.144 1.055)" style="font-size:10.40px">.</text></g>
</g>
<g id="text_75">
<text transform="translate(218.500 436.000) scale(1.062 1.055)" style="font-size:10.40px">I</text><text transform="translate(221.567 436.000) scale(0.962 1.055)" style="font-size:10.40px">R</text><text transform="translate(228.793 436.000) scale(0.967 1.055)" style="font-size:10.40px">C</text>
</g>
<g id="text_76">
<g transform="translate(174.3 498.908) rotate(-90)"><text transform="translate(0.000 -0.703) scale(1.140 1.055)" style="font-size:10.40px;font-style:italic">n</text><text transform="translate(6.576 0.938) scale(1.026 1.055)" style="font-size:7.28px;font-style:italic">A</text><text transform="translate(11.544 0.938) scale(1.235 1.055)" style="font-size:7.28px;font-style:italic">r</text><text transform="translate(14.530 0.938) scale(1.144 1.055)" style="font-size:7.28px">1</text><text transform="translate(19.150 0.938) scale(1.144 1.055)" style="font-size:7.28px">6</text><text transform="translate(25.186 0.938) scale(1.435 1.055)" style="font-size:7.28px">+</text><text transform="translate(32.959 -0.703) scale(1.144 1.055)" style="font-size:10.40px"> </text><text transform="translate(36.257 -0.703) scale(1.213 1.055)" style="font-size:10.40px">/</text><text transform="translate(39.753 -0.703) scale(1.144 1.055)" style="font-size:10.40px"> </text><text transform="translate(43.051 -0.703) scale(1.102 1.055)" style="font-size:10.40px">a</text><text transform="translate(49.408 -0.703) scale(1.144 1.055)" style="font-size:10.40px">.</text><text transform="translate(52.706 -0.703) scale(1.140 1.055)" style="font-size:10.40px">u</text><text transform="translate(59.282 -0.703) scale(1.144 1.055)" style="font-size:10.40px">.</text></g>
</g>
<g id="text_77">
<text transform="translate(112.000 570.300) scale(0.967 1.055)" style="font-size:10.40px">C</text><text transform="translate(119.262 570.300) scale(0.947 1.055)" style="font-size:10.40px">E</text><text transform="translate(125.833 570.300) scale(0.962 1.055)" style="font-size:10.40px">R</text><text transform="translate(133.059 570.300) scale(0.967 1.055)" style="font-size:10.40px">C</text>
</g>
<g id="text_78">
<g transform="translate(8.5 632.9) rotate(-90)"><text transform="translate(0.000 -0.406) scale(0.947 1.055)" style="font-size:10.40px;font-style:italic">E</text><text transform="translate(6.555 1.234) scale(1.235 1.055)" style="font-size:7.28px;font-style:italic">r</text><text transform="translate(9.815 -0.406) scale(1.144 1.055)" style="font-size:10.40px"> </text><text transform="translate(13.113 -0.406) scale(1.213 1.055)" style="font-size:10.40px">/</text><text transform="translate(16.608 -0.406) scale(1.144 1.055)" style="font-size:10.40px"> </text><text transform="translate(19.906 -0.406) scale(1.158 1.055)" style="font-size:10.40px">k</text><text transform="translate(25.914 -0.406) scale(1.026 1.055)" style="font-size:10.40px">V</text><text transform="translate(33.011 -0.406) scale(1.213 1.055)" style="font-size:10.40px">/</text><text transform="translate(36.507 -0.406) scale(1.169 1.055)" style="font-size:10.40px">m</text></g>
</g>
<g id="text_79">
<text transform="translate(220.000 570.300) scale(1.062 1.055)" style="font-size:10.40px">I</text><text transform="translate(223.067 570.300) scale(0.962 1.055)" style="font-size:10.40px">R</text><text transform="translate(230.293 570.300) scale(0.967 1.055)" style="font-size:10.40px">C</text>
</g>
<g id="text_80">
<g transform="translate(174.5 625.1) rotate(-90)"><text transform="translate(0.000 -0.406) scale(0.947 1.055)" style="font-size:10.40px;font-style:italic">E</text><text transform="translate(6.555 1.234) scale(1.235 1.055)" style="font-size:7.28px;font-style:italic">r</text><text transform="translate(9.815 -0.406) scale(1.144 1.055)" style="font-size:10.40px"> </text><text transform="translate(13.113 -0.406) scale(1.213 1.055)" style="font-size:10.40px">/</text><text transform="translate(16.608 -0.406) scale(1.144 1.055)" style="font-size:10.40px"> </text><text transform="translate(19.906 -0.406) scale(1.158 1.055)" style="font-size:10.40px">k</text><text transform="translate(25.914 -0.406) scale(1.026 1.055)" style="font-size:10.40px">V</text><text transform="translate(33.011 -0.406) scale(1.213 1.055)" style="font-size:10.40px">/</text><text transform="translate(36.507 -0.406) scale(1.169 1.055)" style="font-size:10.40px">m</text></g>
</g>
</g>
<defs>
<clipPath id="pb6206f89da">
<rect x="44" y="16.75" width="104.4" height="99.65"/>
</clipPath>
<clipPath id="p5f1eb9c5c8">
<rect x="209.9" y="16.75" width="104.5" height="99.65"/>
</clipPath>
<clipPath id="pd31d83142d">
<rect x="44" y="150.55" width="104.4" height="99.65"/>
</clipPath>
<clipPath id="p5f1723d135">
<rect x="209.9" y="150.55" width="104.5" height="99.65"/>
</clipPath>
<clipPath id="p26239e2aa4">
<rect x="44" y="284.35" width="104.4" height="99.65"/>
</clipPath>
<clipPath id="p80e4a3a18c">
<rect x="209.9" y="284.35" width="104.5" height="99.65"/>
</clipPath>
<clipPath id="p8e6889b209">
<rect x="44" y="418.15" width="104.4" height="99.65"/>
</clipPath>
<clipPath id="p54e2a4d58f">
<rect x="209.9" y="418.15" width="104.5" height="99.65"/>
</clipPath>
<clipPath id="p141dc9e868">
<rect x="44" y="551.95" width="104.4" height="99.65"/>
</clipPath>
<clipPath id="p705fe842d3">
<rect x="209.9" y="551.95" width="104.5" height="99.65"/>
</clipPath>
</defs>
</svg>

</body></html>
